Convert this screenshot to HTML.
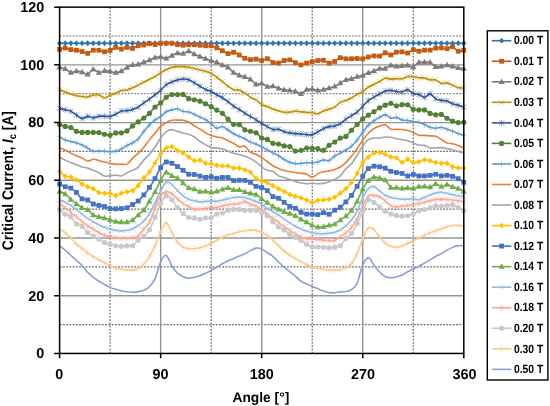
<!DOCTYPE html><html><head><meta charset="utf-8"><style>html,body{margin:0;padding:0;background:#fff;}body{width:550px;height:406px;overflow:hidden;}svg{display:block;filter:blur(0.3px);font-family:"Liberation Sans",sans-serif;font-weight:bold;text-rendering:geometricPrecision;}</style></head><body>
<svg width="550" height="406" viewBox="0 0 550 406">
<path d="M59.60,324.59H463.80M59.60,266.88H463.80M59.60,209.16H463.80M59.60,151.44H463.80M59.60,93.73H463.80M59.60,36.01H463.80" stroke="#666" stroke-width="1.2" stroke-dasharray="1.8 1.45" fill="none"/>
<path d="M110.12,7.15V353.45M211.17,7.15V353.45M312.23,7.15V353.45M413.28,7.15V353.45" stroke="#666" stroke-width="1.2" stroke-dasharray="1.8 1.45" fill="none"/>
<path d="M59.60,295.73H463.80M59.60,238.02H463.80M59.60,180.30H463.80M59.60,122.59H463.80M59.60,64.87H463.80M160.65,7.15V353.45M261.70,7.15V353.45M362.75,7.15V353.45" stroke="#959595" stroke-width="1.4" fill="none"/>
<path d="M59.60,43.23 C60.54,43.23 63.34,43.23 65.21,43.23 C67.09,43.23 68.96,43.23 70.83,43.23 C72.70,43.23 74.57,43.23 76.44,43.23 C78.31,43.23 80.18,43.23 82.06,43.23 C83.93,43.23 85.80,43.23 87.67,43.23 C89.54,43.23 91.41,43.23 93.28,43.23 C95.15,43.23 97.03,43.23 98.90,43.23 C100.77,43.23 102.64,43.23 104.51,43.23 C106.38,43.23 108.25,43.23 110.12,43.23 C112.00,43.23 113.87,43.23 115.74,43.23 C117.61,43.23 119.48,43.23 121.35,43.23 C123.22,43.23 125.10,43.23 126.97,43.23 C128.84,43.23 130.71,43.23 132.58,43.23 C134.45,43.23 136.32,43.23 138.19,43.23 C140.07,43.23 141.94,43.23 143.81,43.23 C145.68,43.23 147.55,43.23 149.42,43.23 C151.29,43.23 153.16,43.23 155.04,43.23 C156.91,43.23 158.78,43.23 160.65,43.23 C162.52,43.23 164.39,43.23 166.26,43.23 C168.14,43.23 170.01,43.23 171.88,43.23 C173.75,43.23 175.62,43.23 177.49,43.23 C179.36,43.23 181.23,43.23 183.11,43.23 C184.98,43.23 186.85,43.23 188.72,43.23 C190.59,43.23 192.46,43.23 194.33,43.23 C196.20,43.23 198.08,43.23 199.95,43.23 C201.82,43.23 203.69,43.23 205.56,43.23 C207.43,43.23 209.30,43.23 211.17,43.23 C213.05,43.23 214.92,43.23 216.79,43.23 C218.66,43.23 220.53,43.23 222.40,43.23 C224.27,43.23 226.15,43.23 228.02,43.23 C229.89,43.23 231.76,43.23 233.63,43.23 C235.50,43.23 237.37,43.23 239.24,43.23 C241.12,43.23 242.99,43.23 244.86,43.23 C246.73,43.23 248.60,43.23 250.47,43.23 C252.34,43.23 254.21,43.23 256.09,43.23 C257.96,43.23 259.83,43.23 261.70,43.23 C263.57,43.23 265.44,43.23 267.31,43.23 C269.19,43.23 271.06,43.23 272.93,43.23 C274.80,43.23 276.67,43.23 278.54,43.23 C280.41,43.23 282.28,43.23 284.16,43.23 C286.03,43.23 287.90,43.23 289.77,43.23 C291.64,43.23 293.51,43.23 295.38,43.23 C297.25,43.23 299.13,43.23 301.00,43.23 C302.87,43.23 304.74,43.23 306.61,43.23 C308.48,43.23 310.35,43.23 312.23,43.23 C314.10,43.23 315.97,43.23 317.84,43.23 C319.71,43.23 321.58,43.23 323.45,43.23 C325.32,43.23 327.20,43.23 329.07,43.23 C330.94,43.23 332.81,43.23 334.68,43.23 C336.55,43.23 338.42,43.23 340.29,43.23 C342.17,43.23 344.04,43.23 345.91,43.23 C347.78,43.23 349.65,43.23 351.52,43.23 C353.39,43.23 355.26,43.23 357.14,43.23 C359.01,43.23 360.88,43.23 362.75,43.23 C364.62,43.23 366.49,43.23 368.36,43.23 C370.24,43.23 372.11,43.23 373.98,43.23 C375.85,43.23 377.72,43.23 379.59,43.23 C381.46,43.23 383.33,43.23 385.21,43.23 C387.08,43.23 388.95,43.23 390.82,43.23 C392.69,43.23 394.56,43.23 396.43,43.23 C398.30,43.23 400.18,43.23 402.05,43.23 C403.92,43.23 405.79,43.23 407.66,43.23 C409.53,43.23 411.40,43.23 413.28,43.23 C415.15,43.23 417.02,43.23 418.89,43.23 C420.76,43.23 422.63,43.23 424.50,43.23 C426.37,43.23 428.25,43.23 430.12,43.23 C431.99,43.23 433.86,43.23 435.73,43.23 C437.60,43.23 439.47,43.23 441.34,43.23 C443.22,43.23 445.09,43.23 446.96,43.23 C448.83,43.23 450.70,43.23 452.57,43.23 C454.44,43.23 456.31,43.23 458.19,43.23 C460.06,43.23 462.86,43.23 463.80,43.23" stroke="#2E75B6" stroke-width="1.60" fill="none" stroke-linejoin="round"/>
<g><path d="M59.60,40.33 l2.60,2.90 l-2.60,2.90 l-2.60,-2.90 z" fill="#2E75B6"/><path d="M65.21,40.33 l2.60,2.90 l-2.60,2.90 l-2.60,-2.90 z" fill="#2E75B6"/><path d="M70.83,40.33 l2.60,2.90 l-2.60,2.90 l-2.60,-2.90 z" fill="#2E75B6"/><path d="M76.44,40.33 l2.60,2.90 l-2.60,2.90 l-2.60,-2.90 z" fill="#2E75B6"/><path d="M82.06,40.33 l2.60,2.90 l-2.60,2.90 l-2.60,-2.90 z" fill="#2E75B6"/><path d="M87.67,40.33 l2.60,2.90 l-2.60,2.90 l-2.60,-2.90 z" fill="#2E75B6"/><path d="M93.28,40.33 l2.60,2.90 l-2.60,2.90 l-2.60,-2.90 z" fill="#2E75B6"/><path d="M98.90,40.33 l2.60,2.90 l-2.60,2.90 l-2.60,-2.90 z" fill="#2E75B6"/><path d="M104.51,40.33 l2.60,2.90 l-2.60,2.90 l-2.60,-2.90 z" fill="#2E75B6"/><path d="M110.12,40.33 l2.60,2.90 l-2.60,2.90 l-2.60,-2.90 z" fill="#2E75B6"/><path d="M115.74,40.33 l2.60,2.90 l-2.60,2.90 l-2.60,-2.90 z" fill="#2E75B6"/><path d="M121.35,40.33 l2.60,2.90 l-2.60,2.90 l-2.60,-2.90 z" fill="#2E75B6"/><path d="M126.97,40.33 l2.60,2.90 l-2.60,2.90 l-2.60,-2.90 z" fill="#2E75B6"/><path d="M132.58,40.33 l2.60,2.90 l-2.60,2.90 l-2.60,-2.90 z" fill="#2E75B6"/><path d="M138.19,40.33 l2.60,2.90 l-2.60,2.90 l-2.60,-2.90 z" fill="#2E75B6"/><path d="M143.81,40.33 l2.60,2.90 l-2.60,2.90 l-2.60,-2.90 z" fill="#2E75B6"/><path d="M149.42,40.33 l2.60,2.90 l-2.60,2.90 l-2.60,-2.90 z" fill="#2E75B6"/><path d="M155.04,40.33 l2.60,2.90 l-2.60,2.90 l-2.60,-2.90 z" fill="#2E75B6"/><path d="M160.65,40.33 l2.60,2.90 l-2.60,2.90 l-2.60,-2.90 z" fill="#2E75B6"/><path d="M166.26,40.33 l2.60,2.90 l-2.60,2.90 l-2.60,-2.90 z" fill="#2E75B6"/><path d="M171.88,40.33 l2.60,2.90 l-2.60,2.90 l-2.60,-2.90 z" fill="#2E75B6"/><path d="M177.49,40.33 l2.60,2.90 l-2.60,2.90 l-2.60,-2.90 z" fill="#2E75B6"/><path d="M183.11,40.33 l2.60,2.90 l-2.60,2.90 l-2.60,-2.90 z" fill="#2E75B6"/><path d="M188.72,40.33 l2.60,2.90 l-2.60,2.90 l-2.60,-2.90 z" fill="#2E75B6"/><path d="M194.33,40.33 l2.60,2.90 l-2.60,2.90 l-2.60,-2.90 z" fill="#2E75B6"/><path d="M199.95,40.33 l2.60,2.90 l-2.60,2.90 l-2.60,-2.90 z" fill="#2E75B6"/><path d="M205.56,40.33 l2.60,2.90 l-2.60,2.90 l-2.60,-2.90 z" fill="#2E75B6"/><path d="M211.17,40.33 l2.60,2.90 l-2.60,2.90 l-2.60,-2.90 z" fill="#2E75B6"/><path d="M216.79,40.33 l2.60,2.90 l-2.60,2.90 l-2.60,-2.90 z" fill="#2E75B6"/><path d="M222.40,40.33 l2.60,2.90 l-2.60,2.90 l-2.60,-2.90 z" fill="#2E75B6"/><path d="M228.02,40.33 l2.60,2.90 l-2.60,2.90 l-2.60,-2.90 z" fill="#2E75B6"/><path d="M233.63,40.33 l2.60,2.90 l-2.60,2.90 l-2.60,-2.90 z" fill="#2E75B6"/><path d="M239.24,40.33 l2.60,2.90 l-2.60,2.90 l-2.60,-2.90 z" fill="#2E75B6"/><path d="M244.86,40.33 l2.60,2.90 l-2.60,2.90 l-2.60,-2.90 z" fill="#2E75B6"/><path d="M250.47,40.33 l2.60,2.90 l-2.60,2.90 l-2.60,-2.90 z" fill="#2E75B6"/><path d="M256.09,40.33 l2.60,2.90 l-2.60,2.90 l-2.60,-2.90 z" fill="#2E75B6"/><path d="M261.70,40.33 l2.60,2.90 l-2.60,2.90 l-2.60,-2.90 z" fill="#2E75B6"/><path d="M267.31,40.33 l2.60,2.90 l-2.60,2.90 l-2.60,-2.90 z" fill="#2E75B6"/><path d="M272.93,40.33 l2.60,2.90 l-2.60,2.90 l-2.60,-2.90 z" fill="#2E75B6"/><path d="M278.54,40.33 l2.60,2.90 l-2.60,2.90 l-2.60,-2.90 z" fill="#2E75B6"/><path d="M284.16,40.33 l2.60,2.90 l-2.60,2.90 l-2.60,-2.90 z" fill="#2E75B6"/><path d="M289.77,40.33 l2.60,2.90 l-2.60,2.90 l-2.60,-2.90 z" fill="#2E75B6"/><path d="M295.38,40.33 l2.60,2.90 l-2.60,2.90 l-2.60,-2.90 z" fill="#2E75B6"/><path d="M301.00,40.33 l2.60,2.90 l-2.60,2.90 l-2.60,-2.90 z" fill="#2E75B6"/><path d="M306.61,40.33 l2.60,2.90 l-2.60,2.90 l-2.60,-2.90 z" fill="#2E75B6"/><path d="M312.23,40.33 l2.60,2.90 l-2.60,2.90 l-2.60,-2.90 z" fill="#2E75B6"/><path d="M317.84,40.33 l2.60,2.90 l-2.60,2.90 l-2.60,-2.90 z" fill="#2E75B6"/><path d="M323.45,40.33 l2.60,2.90 l-2.60,2.90 l-2.60,-2.90 z" fill="#2E75B6"/><path d="M329.07,40.33 l2.60,2.90 l-2.60,2.90 l-2.60,-2.90 z" fill="#2E75B6"/><path d="M334.68,40.33 l2.60,2.90 l-2.60,2.90 l-2.60,-2.90 z" fill="#2E75B6"/><path d="M340.29,40.33 l2.60,2.90 l-2.60,2.90 l-2.60,-2.90 z" fill="#2E75B6"/><path d="M345.91,40.33 l2.60,2.90 l-2.60,2.90 l-2.60,-2.90 z" fill="#2E75B6"/><path d="M351.52,40.33 l2.60,2.90 l-2.60,2.90 l-2.60,-2.90 z" fill="#2E75B6"/><path d="M357.14,40.33 l2.60,2.90 l-2.60,2.90 l-2.60,-2.90 z" fill="#2E75B6"/><path d="M362.75,40.33 l2.60,2.90 l-2.60,2.90 l-2.60,-2.90 z" fill="#2E75B6"/><path d="M368.36,40.33 l2.60,2.90 l-2.60,2.90 l-2.60,-2.90 z" fill="#2E75B6"/><path d="M373.98,40.33 l2.60,2.90 l-2.60,2.90 l-2.60,-2.90 z" fill="#2E75B6"/><path d="M379.59,40.33 l2.60,2.90 l-2.60,2.90 l-2.60,-2.90 z" fill="#2E75B6"/><path d="M385.21,40.33 l2.60,2.90 l-2.60,2.90 l-2.60,-2.90 z" fill="#2E75B6"/><path d="M390.82,40.33 l2.60,2.90 l-2.60,2.90 l-2.60,-2.90 z" fill="#2E75B6"/><path d="M396.43,40.33 l2.60,2.90 l-2.60,2.90 l-2.60,-2.90 z" fill="#2E75B6"/><path d="M402.05,40.33 l2.60,2.90 l-2.60,2.90 l-2.60,-2.90 z" fill="#2E75B6"/><path d="M407.66,40.33 l2.60,2.90 l-2.60,2.90 l-2.60,-2.90 z" fill="#2E75B6"/><path d="M413.28,40.33 l2.60,2.90 l-2.60,2.90 l-2.60,-2.90 z" fill="#2E75B6"/><path d="M418.89,40.33 l2.60,2.90 l-2.60,2.90 l-2.60,-2.90 z" fill="#2E75B6"/><path d="M424.50,40.33 l2.60,2.90 l-2.60,2.90 l-2.60,-2.90 z" fill="#2E75B6"/><path d="M430.12,40.33 l2.60,2.90 l-2.60,2.90 l-2.60,-2.90 z" fill="#2E75B6"/><path d="M435.73,40.33 l2.60,2.90 l-2.60,2.90 l-2.60,-2.90 z" fill="#2E75B6"/><path d="M441.34,40.33 l2.60,2.90 l-2.60,2.90 l-2.60,-2.90 z" fill="#2E75B6"/><path d="M446.96,40.33 l2.60,2.90 l-2.60,2.90 l-2.60,-2.90 z" fill="#2E75B6"/><path d="M452.57,40.33 l2.60,2.90 l-2.60,2.90 l-2.60,-2.90 z" fill="#2E75B6"/><path d="M458.19,40.33 l2.60,2.90 l-2.60,2.90 l-2.60,-2.90 z" fill="#2E75B6"/><path d="M463.80,40.33 l2.60,2.90 l-2.60,2.90 l-2.60,-2.90 z" fill="#2E75B6"/></g>
<path d="M59.60,49.39 C60.54,49.16 63.34,47.99 65.21,48.03 C67.09,48.07 68.96,49.25 70.83,49.62 C72.70,49.99 74.57,49.93 76.44,50.24 C78.31,50.56 80.18,50.98 82.06,51.49 C83.93,52.01 85.80,53.56 87.67,53.34 C89.54,53.11 91.41,50.67 93.28,50.15 C95.15,49.64 97.03,49.98 98.90,50.25 C100.77,50.52 102.64,51.75 104.51,51.78 C106.38,51.81 108.25,51.15 110.12,50.42 C112.00,49.68 113.87,47.60 115.74,47.39 C117.61,47.18 119.48,49.16 121.35,49.16 C123.22,49.16 125.10,47.49 126.97,47.36 C128.84,47.24 130.71,48.68 132.58,48.41 C134.45,48.14 136.32,46.32 138.19,45.76 C140.07,45.20 141.94,45.43 143.81,45.06 C145.68,44.70 147.55,43.69 149.42,43.60 C151.29,43.52 153.16,44.62 155.04,44.56 C156.91,44.49 158.78,43.45 160.65,43.23 C162.52,43.00 164.39,43.21 166.26,43.23 C168.14,43.24 170.01,43.05 171.88,43.30 C173.75,43.54 175.62,44.36 177.49,44.68 C179.36,45.00 181.23,45.24 183.11,45.24 C184.98,45.23 186.85,44.76 188.72,44.67 C190.59,44.58 192.46,44.57 194.33,44.67 C196.20,44.76 198.08,45.05 199.95,45.24 C201.82,45.43 203.69,45.72 205.56,45.82 C207.43,45.92 209.30,45.50 211.17,45.82 C213.05,46.15 214.92,46.95 216.79,47.77 C218.66,48.59 220.53,49.76 222.40,50.73 C224.27,51.70 226.15,53.35 228.02,53.61 C229.89,53.87 231.76,52.06 233.63,52.28 C235.50,52.50 237.37,53.92 239.24,54.92 C241.12,55.92 242.99,57.51 244.86,58.30 C246.73,59.09 248.60,59.53 250.47,59.67 C252.34,59.81 254.21,58.98 256.09,59.12 C257.96,59.26 259.83,60.57 261.70,60.50 C263.57,60.44 265.44,58.40 267.31,58.73 C269.19,59.07 271.06,61.79 272.93,62.51 C274.80,63.24 276.67,63.41 278.54,63.07 C280.41,62.74 282.28,61.05 284.16,60.52 C286.03,59.98 287.90,59.50 289.77,59.87 C291.64,60.23 293.51,61.88 295.38,62.71 C297.25,63.54 299.13,64.81 301.00,64.87 C302.87,64.93 304.74,63.62 306.61,63.08 C308.48,62.55 310.35,62.07 312.23,61.65 C314.10,61.23 315.97,60.80 317.84,60.57 C319.71,60.34 321.58,59.86 323.45,60.28 C325.32,60.70 327.20,62.92 329.07,63.12 C330.94,63.32 332.81,62.39 334.68,61.49 C336.55,60.59 338.42,58.16 340.29,57.72 C342.17,57.27 344.04,58.63 345.91,58.81 C347.78,58.99 349.65,58.85 351.52,58.80 C353.39,58.76 355.26,58.54 357.14,58.53 C359.01,58.52 360.88,59.02 362.75,58.76 C364.62,58.51 366.49,57.47 368.36,57.00 C370.24,56.53 372.11,56.09 373.98,55.94 C375.85,55.79 377.72,56.61 379.59,56.09 C381.46,55.58 383.33,53.03 385.21,52.83 C387.08,52.64 388.95,55.06 390.82,54.95 C392.69,54.84 394.56,52.68 396.43,52.17 C398.30,51.66 400.18,51.76 402.05,51.89 C403.92,52.03 405.79,53.37 407.66,53.00 C409.53,52.63 411.40,49.95 413.28,49.66 C415.15,49.37 417.02,51.17 418.89,51.25 C420.76,51.33 422.63,50.34 424.50,50.15 C426.37,49.96 428.25,50.45 430.12,50.11 C431.99,49.77 433.86,48.49 435.73,48.13 C437.60,47.76 439.47,47.80 441.34,47.89 C443.22,47.99 445.09,48.88 446.96,48.70 C448.83,48.53 450.70,46.40 452.57,46.83 C454.44,47.26 456.31,50.71 458.19,51.27 C460.06,51.82 462.86,50.34 463.80,50.15" stroke="#C55A11" stroke-width="1.60" fill="none" stroke-linejoin="round"/>
<g><rect x="57.20" y="46.99" width="4.80" height="4.80" fill="#C55A11"/><rect x="62.81" y="45.63" width="4.80" height="4.80" fill="#C55A11"/><rect x="68.43" y="47.22" width="4.80" height="4.80" fill="#C55A11"/><rect x="74.04" y="47.84" width="4.80" height="4.80" fill="#C55A11"/><rect x="79.66" y="49.09" width="4.80" height="4.80" fill="#C55A11"/><rect x="85.27" y="50.94" width="4.80" height="4.80" fill="#C55A11"/><rect x="90.88" y="47.75" width="4.80" height="4.80" fill="#C55A11"/><rect x="96.50" y="47.85" width="4.80" height="4.80" fill="#C55A11"/><rect x="102.11" y="49.38" width="4.80" height="4.80" fill="#C55A11"/><rect x="107.73" y="48.02" width="4.80" height="4.80" fill="#C55A11"/><rect x="113.34" y="44.99" width="4.80" height="4.80" fill="#C55A11"/><rect x="118.95" y="46.76" width="4.80" height="4.80" fill="#C55A11"/><rect x="124.57" y="44.96" width="4.80" height="4.80" fill="#C55A11"/><rect x="130.18" y="46.01" width="4.80" height="4.80" fill="#C55A11"/><rect x="135.79" y="43.36" width="4.80" height="4.80" fill="#C55A11"/><rect x="141.41" y="42.66" width="4.80" height="4.80" fill="#C55A11"/><rect x="147.02" y="41.20" width="4.80" height="4.80" fill="#C55A11"/><rect x="152.64" y="42.16" width="4.80" height="4.80" fill="#C55A11"/><rect x="158.25" y="40.83" width="4.80" height="4.80" fill="#C55A11"/><rect x="163.86" y="40.83" width="4.80" height="4.80" fill="#C55A11"/><rect x="169.48" y="40.90" width="4.80" height="4.80" fill="#C55A11"/><rect x="175.09" y="42.28" width="4.80" height="4.80" fill="#C55A11"/><rect x="180.71" y="42.84" width="4.80" height="4.80" fill="#C55A11"/><rect x="186.32" y="42.27" width="4.80" height="4.80" fill="#C55A11"/><rect x="191.93" y="42.27" width="4.80" height="4.80" fill="#C55A11"/><rect x="197.55" y="42.84" width="4.80" height="4.80" fill="#C55A11"/><rect x="203.16" y="43.42" width="4.80" height="4.80" fill="#C55A11"/><rect x="208.77" y="43.42" width="4.80" height="4.80" fill="#C55A11"/><rect x="214.39" y="45.37" width="4.80" height="4.80" fill="#C55A11"/><rect x="220.00" y="48.33" width="4.80" height="4.80" fill="#C55A11"/><rect x="225.62" y="51.21" width="4.80" height="4.80" fill="#C55A11"/><rect x="231.23" y="49.88" width="4.80" height="4.80" fill="#C55A11"/><rect x="236.84" y="52.52" width="4.80" height="4.80" fill="#C55A11"/><rect x="242.46" y="55.90" width="4.80" height="4.80" fill="#C55A11"/><rect x="248.07" y="57.27" width="4.80" height="4.80" fill="#C55A11"/><rect x="253.69" y="56.72" width="4.80" height="4.80" fill="#C55A11"/><rect x="259.30" y="58.10" width="4.80" height="4.80" fill="#C55A11"/><rect x="264.91" y="56.33" width="4.80" height="4.80" fill="#C55A11"/><rect x="270.53" y="60.11" width="4.80" height="4.80" fill="#C55A11"/><rect x="276.14" y="60.67" width="4.80" height="4.80" fill="#C55A11"/><rect x="281.76" y="58.12" width="4.80" height="4.80" fill="#C55A11"/><rect x="287.37" y="57.47" width="4.80" height="4.80" fill="#C55A11"/><rect x="292.98" y="60.31" width="4.80" height="4.80" fill="#C55A11"/><rect x="298.60" y="62.47" width="4.80" height="4.80" fill="#C55A11"/><rect x="304.21" y="60.68" width="4.80" height="4.80" fill="#C55A11"/><rect x="309.82" y="59.25" width="4.80" height="4.80" fill="#C55A11"/><rect x="315.44" y="58.17" width="4.80" height="4.80" fill="#C55A11"/><rect x="321.05" y="57.88" width="4.80" height="4.80" fill="#C55A11"/><rect x="326.67" y="60.72" width="4.80" height="4.80" fill="#C55A11"/><rect x="332.28" y="59.09" width="4.80" height="4.80" fill="#C55A11"/><rect x="337.89" y="55.32" width="4.80" height="4.80" fill="#C55A11"/><rect x="343.51" y="56.41" width="4.80" height="4.80" fill="#C55A11"/><rect x="349.12" y="56.40" width="4.80" height="4.80" fill="#C55A11"/><rect x="354.74" y="56.13" width="4.80" height="4.80" fill="#C55A11"/><rect x="360.35" y="56.36" width="4.80" height="4.80" fill="#C55A11"/><rect x="365.96" y="54.60" width="4.80" height="4.80" fill="#C55A11"/><rect x="371.58" y="53.54" width="4.80" height="4.80" fill="#C55A11"/><rect x="377.19" y="53.69" width="4.80" height="4.80" fill="#C55A11"/><rect x="382.81" y="50.43" width="4.80" height="4.80" fill="#C55A11"/><rect x="388.42" y="52.55" width="4.80" height="4.80" fill="#C55A11"/><rect x="394.03" y="49.77" width="4.80" height="4.80" fill="#C55A11"/><rect x="399.65" y="49.49" width="4.80" height="4.80" fill="#C55A11"/><rect x="405.26" y="50.60" width="4.80" height="4.80" fill="#C55A11"/><rect x="410.88" y="47.26" width="4.80" height="4.80" fill="#C55A11"/><rect x="416.49" y="48.85" width="4.80" height="4.80" fill="#C55A11"/><rect x="422.10" y="47.75" width="4.80" height="4.80" fill="#C55A11"/><rect x="427.72" y="47.71" width="4.80" height="4.80" fill="#C55A11"/><rect x="433.33" y="45.73" width="4.80" height="4.80" fill="#C55A11"/><rect x="438.94" y="45.49" width="4.80" height="4.80" fill="#C55A11"/><rect x="444.56" y="46.30" width="4.80" height="4.80" fill="#C55A11"/><rect x="450.17" y="44.43" width="4.80" height="4.80" fill="#C55A11"/><rect x="455.79" y="48.87" width="4.80" height="4.80" fill="#C55A11"/><rect x="461.40" y="47.75" width="4.80" height="4.80" fill="#C55A11"/></g>
<path d="M59.60,67.30 C60.54,67.55 63.34,67.92 65.21,68.79 C67.09,69.66 68.96,72.16 70.83,72.53 C72.70,72.90 74.57,71.08 76.44,71.00 C78.31,70.92 80.18,71.49 82.06,72.03 C83.93,72.57 85.80,74.68 87.67,74.24 C89.54,73.80 91.41,69.66 93.28,69.37 C95.15,69.09 97.03,72.33 98.90,72.55 C100.77,72.77 102.64,70.89 104.51,70.69 C106.38,70.49 108.25,71.04 110.12,71.35 C112.00,71.66 113.87,72.63 115.74,72.57 C117.61,72.52 119.48,71.84 121.35,71.00 C123.22,70.16 125.10,68.59 126.97,67.56 C128.84,66.53 130.71,65.38 132.58,64.84 C134.45,64.30 136.32,64.80 138.19,64.34 C140.07,63.87 141.94,62.77 143.81,62.06 C145.68,61.35 147.55,60.80 149.42,60.06 C151.29,59.31 153.16,58.13 155.04,57.59 C156.91,57.05 158.78,56.67 160.65,56.81 C162.52,56.94 164.39,58.60 166.26,58.39 C168.14,58.17 170.01,56.40 171.88,55.51 C173.75,54.62 175.62,53.37 177.49,53.05 C179.36,52.72 181.23,53.89 183.11,53.57 C184.98,53.24 186.85,50.99 188.72,51.08 C190.59,51.18 192.46,53.26 194.33,54.16 C196.20,55.06 198.08,55.75 199.95,56.48 C201.82,57.20 203.69,57.83 205.56,58.51 C207.43,59.18 209.30,59.92 211.17,60.53 C213.05,61.15 214.92,61.44 216.79,62.21 C218.66,62.98 220.53,64.33 222.40,65.16 C224.27,65.99 226.15,65.97 228.02,67.19 C229.89,68.42 231.76,71.14 233.63,72.49 C235.50,73.85 237.37,74.60 239.24,75.32 C241.12,76.04 242.99,76.14 244.86,76.82 C246.73,77.49 248.60,78.13 250.47,79.36 C252.34,80.59 254.21,83.53 256.09,84.19 C257.96,84.86 259.83,82.97 261.70,83.35 C263.57,83.74 265.44,86.07 267.31,86.50 C269.19,86.93 271.06,85.65 272.93,85.94 C274.80,86.24 276.67,87.65 278.54,88.28 C280.41,88.91 282.28,89.36 284.16,89.70 C286.03,90.04 287.90,90.06 289.77,90.32 C291.64,90.59 293.51,90.73 295.38,91.30 C297.25,91.86 299.13,94.00 301.00,93.73 C302.87,93.46 304.74,90.43 306.61,89.67 C308.48,88.90 310.35,89.06 312.23,89.15 C314.10,89.25 315.97,90.15 317.84,90.23 C319.71,90.32 321.58,90.05 323.45,89.67 C325.32,89.29 327.20,88.49 329.07,87.94 C330.94,87.39 332.81,87.15 334.68,86.35 C336.55,85.56 338.42,84.25 340.29,83.16 C342.17,82.07 344.04,80.56 345.91,79.81 C347.78,79.07 349.65,79.20 351.52,78.68 C353.39,78.15 355.26,77.21 357.14,76.67 C359.01,76.13 360.88,76.07 362.75,75.43 C364.62,74.79 366.49,73.57 368.36,72.84 C370.24,72.11 372.11,71.75 373.98,71.05 C375.85,70.35 377.72,69.05 379.59,68.62 C381.46,68.20 383.33,69.06 385.21,68.49 C387.08,67.92 388.95,65.57 390.82,65.20 C392.69,64.84 394.56,66.22 396.43,66.31 C398.30,66.40 400.18,65.92 402.05,65.73 C403.92,65.54 405.79,64.98 407.66,65.18 C409.53,65.38 411.40,67.42 413.28,66.94 C415.15,66.45 417.02,63.05 418.89,62.27 C420.76,61.50 422.63,62.26 424.50,62.27 C426.37,62.29 428.25,61.60 430.12,62.37 C431.99,63.14 433.86,66.23 435.73,66.88 C437.60,67.52 439.47,66.53 441.34,66.25 C443.22,65.96 445.09,65.15 446.96,65.17 C448.83,65.19 450.70,65.92 452.57,66.36 C454.44,66.79 456.31,67.41 458.19,67.78 C460.06,68.16 462.86,68.48 463.80,68.62" stroke="#7B7B7B" stroke-width="1.60" fill="none" stroke-linejoin="round"/>
<g><path d="M59.60,64.00 L62.70,69.50 L56.50,69.50 z" fill="#7B7B7B"/><path d="M65.21,65.49 L68.31,70.99 L62.11,70.99 z" fill="#7B7B7B"/><path d="M70.83,69.23 L73.93,74.73 L67.73,74.73 z" fill="#7B7B7B"/><path d="M76.44,67.70 L79.54,73.20 L73.34,73.20 z" fill="#7B7B7B"/><path d="M82.06,68.73 L85.16,74.23 L78.96,74.23 z" fill="#7B7B7B"/><path d="M87.67,70.94 L90.77,76.44 L84.57,76.44 z" fill="#7B7B7B"/><path d="M93.28,66.07 L96.38,71.57 L90.18,71.57 z" fill="#7B7B7B"/><path d="M98.90,69.25 L102.00,74.75 L95.80,74.75 z" fill="#7B7B7B"/><path d="M104.51,67.39 L107.61,72.89 L101.41,72.89 z" fill="#7B7B7B"/><path d="M110.12,68.05 L113.22,73.55 L107.03,73.55 z" fill="#7B7B7B"/><path d="M115.74,69.27 L118.84,74.77 L112.64,74.77 z" fill="#7B7B7B"/><path d="M121.35,67.70 L124.45,73.20 L118.25,73.20 z" fill="#7B7B7B"/><path d="M126.97,64.26 L130.07,69.76 L123.87,69.76 z" fill="#7B7B7B"/><path d="M132.58,61.54 L135.68,67.04 L129.48,67.04 z" fill="#7B7B7B"/><path d="M138.19,61.04 L141.29,66.54 L135.09,66.54 z" fill="#7B7B7B"/><path d="M143.81,58.76 L146.91,64.26 L140.71,64.26 z" fill="#7B7B7B"/><path d="M149.42,56.76 L152.52,62.26 L146.32,62.26 z" fill="#7B7B7B"/><path d="M155.04,54.29 L158.14,59.79 L151.94,59.79 z" fill="#7B7B7B"/><path d="M160.65,53.51 L163.75,59.01 L157.55,59.01 z" fill="#7B7B7B"/><path d="M166.26,55.09 L169.36,60.59 L163.16,60.59 z" fill="#7B7B7B"/><path d="M171.88,52.21 L174.98,57.71 L168.78,57.71 z" fill="#7B7B7B"/><path d="M177.49,49.75 L180.59,55.25 L174.39,55.25 z" fill="#7B7B7B"/><path d="M183.11,50.27 L186.21,55.77 L180.01,55.77 z" fill="#7B7B7B"/><path d="M188.72,47.78 L191.82,53.28 L185.62,53.28 z" fill="#7B7B7B"/><path d="M194.33,50.86 L197.43,56.36 L191.23,56.36 z" fill="#7B7B7B"/><path d="M199.95,53.18 L203.05,58.68 L196.85,58.68 z" fill="#7B7B7B"/><path d="M205.56,55.21 L208.66,60.71 L202.46,60.71 z" fill="#7B7B7B"/><path d="M211.17,57.23 L214.27,62.73 L208.07,62.73 z" fill="#7B7B7B"/><path d="M216.79,58.91 L219.89,64.41 L213.69,64.41 z" fill="#7B7B7B"/><path d="M222.40,61.86 L225.50,67.36 L219.30,67.36 z" fill="#7B7B7B"/><path d="M228.02,63.89 L231.12,69.39 L224.92,69.39 z" fill="#7B7B7B"/><path d="M233.63,69.19 L236.73,74.69 L230.53,74.69 z" fill="#7B7B7B"/><path d="M239.24,72.02 L242.34,77.52 L236.14,77.52 z" fill="#7B7B7B"/><path d="M244.86,73.52 L247.96,79.02 L241.76,79.02 z" fill="#7B7B7B"/><path d="M250.47,76.06 L253.57,81.56 L247.37,81.56 z" fill="#7B7B7B"/><path d="M256.09,80.89 L259.19,86.39 L252.99,86.39 z" fill="#7B7B7B"/><path d="M261.70,80.05 L264.80,85.55 L258.60,85.55 z" fill="#7B7B7B"/><path d="M267.31,83.20 L270.41,88.70 L264.21,88.70 z" fill="#7B7B7B"/><path d="M272.93,82.64 L276.03,88.14 L269.83,88.14 z" fill="#7B7B7B"/><path d="M278.54,84.98 L281.64,90.48 L275.44,90.48 z" fill="#7B7B7B"/><path d="M284.16,86.40 L287.26,91.90 L281.06,91.90 z" fill="#7B7B7B"/><path d="M289.77,87.02 L292.87,92.52 L286.67,92.52 z" fill="#7B7B7B"/><path d="M295.38,88.00 L298.48,93.50 L292.28,93.50 z" fill="#7B7B7B"/><path d="M301.00,90.43 L304.10,95.93 L297.90,95.93 z" fill="#7B7B7B"/><path d="M306.61,86.37 L309.71,91.87 L303.51,91.87 z" fill="#7B7B7B"/><path d="M312.23,85.85 L315.33,91.35 L309.12,91.35 z" fill="#7B7B7B"/><path d="M317.84,86.93 L320.94,92.43 L314.74,92.43 z" fill="#7B7B7B"/><path d="M323.45,86.37 L326.55,91.87 L320.35,91.87 z" fill="#7B7B7B"/><path d="M329.07,84.64 L332.17,90.14 L325.97,90.14 z" fill="#7B7B7B"/><path d="M334.68,83.05 L337.78,88.55 L331.58,88.55 z" fill="#7B7B7B"/><path d="M340.29,79.86 L343.39,85.36 L337.19,85.36 z" fill="#7B7B7B"/><path d="M345.91,76.51 L349.01,82.01 L342.81,82.01 z" fill="#7B7B7B"/><path d="M351.52,75.38 L354.62,80.88 L348.42,80.88 z" fill="#7B7B7B"/><path d="M357.14,73.37 L360.24,78.87 L354.04,78.87 z" fill="#7B7B7B"/><path d="M362.75,72.13 L365.85,77.63 L359.65,77.63 z" fill="#7B7B7B"/><path d="M368.36,69.54 L371.46,75.04 L365.26,75.04 z" fill="#7B7B7B"/><path d="M373.98,67.75 L377.08,73.25 L370.88,73.25 z" fill="#7B7B7B"/><path d="M379.59,65.32 L382.69,70.82 L376.49,70.82 z" fill="#7B7B7B"/><path d="M385.21,65.19 L388.31,70.69 L382.11,70.69 z" fill="#7B7B7B"/><path d="M390.82,61.90 L393.92,67.40 L387.72,67.40 z" fill="#7B7B7B"/><path d="M396.43,63.01 L399.53,68.51 L393.33,68.51 z" fill="#7B7B7B"/><path d="M402.05,62.43 L405.15,67.93 L398.95,67.93 z" fill="#7B7B7B"/><path d="M407.66,61.88 L410.76,67.38 L404.56,67.38 z" fill="#7B7B7B"/><path d="M413.28,63.64 L416.38,69.14 L410.18,69.14 z" fill="#7B7B7B"/><path d="M418.89,58.97 L421.99,64.47 L415.79,64.47 z" fill="#7B7B7B"/><path d="M424.50,58.97 L427.60,64.47 L421.40,64.47 z" fill="#7B7B7B"/><path d="M430.12,59.07 L433.22,64.57 L427.02,64.57 z" fill="#7B7B7B"/><path d="M435.73,63.58 L438.83,69.08 L432.63,69.08 z" fill="#7B7B7B"/><path d="M441.34,62.95 L444.44,68.45 L438.24,68.45 z" fill="#7B7B7B"/><path d="M446.96,61.87 L450.06,67.37 L443.86,67.37 z" fill="#7B7B7B"/><path d="M452.57,63.06 L455.67,68.56 L449.47,68.56 z" fill="#7B7B7B"/><path d="M458.19,64.48 L461.29,69.98 L455.09,69.98 z" fill="#7B7B7B"/><path d="M463.80,65.32 L466.90,70.82 L460.70,70.82 z" fill="#7B7B7B"/></g>
<path d="M59.60,89.76 C60.54,90.14 63.34,91.31 65.21,92.03 C67.09,92.74 68.96,93.41 70.83,94.05 C72.70,94.68 74.57,95.41 76.44,95.83 C78.31,96.25 80.18,96.38 82.06,96.56 C83.93,96.73 85.80,97.12 87.67,96.88 C89.54,96.64 91.41,95.45 93.28,95.12 C95.15,94.79 97.03,94.42 98.90,94.91 C100.77,95.40 102.64,98.04 104.51,98.07 C106.38,98.11 108.25,95.93 110.12,95.13 C112.00,94.32 113.87,94.00 115.74,93.24 C117.61,92.48 119.48,91.11 121.35,90.58 C123.22,90.04 125.10,90.49 126.97,90.03 C128.84,89.56 130.71,88.60 132.58,87.77 C134.45,86.95 136.32,86.00 138.19,85.07 C140.07,84.14 141.94,83.14 143.81,82.19 C145.68,81.24 147.55,80.33 149.42,79.38 C151.29,78.44 153.16,77.61 155.04,76.54 C156.91,75.47 158.78,74.14 160.65,72.98 C162.52,71.82 164.39,70.50 166.26,69.57 C168.14,68.65 170.01,67.93 171.88,67.43 C173.75,66.94 175.62,66.73 177.49,66.60 C179.36,66.48 181.23,66.55 183.11,66.67 C184.98,66.79 186.85,67.02 188.72,67.32 C190.59,67.62 192.46,68.01 194.33,68.47 C196.20,68.92 198.08,69.56 199.95,70.05 C201.82,70.53 203.69,70.82 205.56,71.38 C207.43,71.94 209.30,72.44 211.17,73.42 C213.05,74.41 214.92,75.91 216.79,77.27 C218.66,78.64 220.53,80.11 222.40,81.61 C224.27,83.10 226.15,84.89 228.02,86.24 C229.89,87.59 231.76,89.04 233.63,89.71 C235.50,90.38 237.37,89.71 239.24,90.27 C241.12,90.82 242.99,91.88 244.86,93.07 C246.73,94.26 248.60,96.21 250.47,97.38 C252.34,98.55 254.21,98.91 256.09,100.09 C257.96,101.27 259.83,103.40 261.70,104.48 C263.57,105.56 265.44,105.82 267.31,106.57 C269.19,107.32 271.06,108.30 272.93,109.00 C274.80,109.71 276.67,110.25 278.54,110.80 C280.41,111.35 282.28,112.09 284.16,112.32 C286.03,112.55 287.90,112.37 289.77,112.17 C291.64,111.97 293.51,111.17 295.38,111.13 C297.25,111.08 299.13,111.69 301.00,111.91 C302.87,112.13 304.74,112.35 306.61,112.46 C308.48,112.57 310.35,112.35 312.23,112.56 C314.10,112.78 315.97,114.01 317.84,113.73 C319.71,113.46 321.58,111.67 323.45,110.91 C325.32,110.15 327.20,109.81 329.07,109.17 C330.94,108.53 332.81,108.21 334.68,107.07 C336.55,105.93 338.42,103.45 340.29,102.33 C342.17,101.22 344.04,101.08 345.91,100.37 C347.78,99.65 349.65,99.03 351.52,98.02 C353.39,97.00 355.26,95.31 357.14,94.28 C359.01,93.24 360.88,92.98 362.75,91.80 C364.62,90.61 366.49,88.41 368.36,87.16 C370.24,85.92 372.11,85.27 373.98,84.33 C375.85,83.39 377.72,82.55 379.59,81.53 C381.46,80.51 383.33,78.60 385.21,78.19 C387.08,77.79 388.95,79.04 390.82,79.11 C392.69,79.18 394.56,78.69 396.43,78.64 C398.30,78.59 400.18,79.17 402.05,78.81 C403.92,78.46 405.79,76.85 407.66,76.51 C409.53,76.17 411.40,76.58 413.28,76.78 C415.15,76.98 417.02,77.51 418.89,77.73 C420.76,77.95 422.63,77.76 424.50,78.12 C426.37,78.47 428.25,79.55 430.12,79.86 C431.99,80.17 433.86,79.38 435.73,79.97 C437.60,80.57 439.47,82.97 441.34,83.45 C443.22,83.93 445.09,82.56 446.96,82.86 C448.83,83.16 450.70,84.46 452.57,85.25 C454.44,86.04 456.31,87.16 458.19,87.62 C460.06,88.07 462.86,87.91 463.80,87.97" stroke="#BF9000" stroke-width="1.60" fill="none" stroke-linejoin="round"/>
<g><path d="M57.00,87.16 l5.20,5.20 m0,-5.20 l-5.20,5.20" stroke="#BF9000" stroke-width="0.7" fill="none" opacity="0.75"/><path d="M62.61,89.43 l5.20,5.20 m0,-5.20 l-5.20,5.20" stroke="#BF9000" stroke-width="0.7" fill="none" opacity="0.75"/><path d="M68.23,91.45 l5.20,5.20 m0,-5.20 l-5.20,5.20" stroke="#BF9000" stroke-width="0.7" fill="none" opacity="0.75"/><path d="M73.84,93.23 l5.20,5.20 m0,-5.20 l-5.20,5.20" stroke="#BF9000" stroke-width="0.7" fill="none" opacity="0.75"/><path d="M79.46,93.96 l5.20,5.20 m0,-5.20 l-5.20,5.20" stroke="#BF9000" stroke-width="0.7" fill="none" opacity="0.75"/><path d="M85.07,94.28 l5.20,5.20 m0,-5.20 l-5.20,5.20" stroke="#BF9000" stroke-width="0.7" fill="none" opacity="0.75"/><path d="M90.68,92.52 l5.20,5.20 m0,-5.20 l-5.20,5.20" stroke="#BF9000" stroke-width="0.7" fill="none" opacity="0.75"/><path d="M96.30,92.31 l5.20,5.20 m0,-5.20 l-5.20,5.20" stroke="#BF9000" stroke-width="0.7" fill="none" opacity="0.75"/><path d="M101.91,95.47 l5.20,5.20 m0,-5.20 l-5.20,5.20" stroke="#BF9000" stroke-width="0.7" fill="none" opacity="0.75"/><path d="M107.53,92.53 l5.20,5.20 m0,-5.20 l-5.20,5.20" stroke="#BF9000" stroke-width="0.7" fill="none" opacity="0.75"/><path d="M113.14,90.64 l5.20,5.20 m0,-5.20 l-5.20,5.20" stroke="#BF9000" stroke-width="0.7" fill="none" opacity="0.75"/><path d="M118.75,87.98 l5.20,5.20 m0,-5.20 l-5.20,5.20" stroke="#BF9000" stroke-width="0.7" fill="none" opacity="0.75"/><path d="M124.37,87.43 l5.20,5.20 m0,-5.20 l-5.20,5.20" stroke="#BF9000" stroke-width="0.7" fill="none" opacity="0.75"/><path d="M129.98,85.17 l5.20,5.20 m0,-5.20 l-5.20,5.20" stroke="#BF9000" stroke-width="0.7" fill="none" opacity="0.75"/><path d="M135.59,82.47 l5.20,5.20 m0,-5.20 l-5.20,5.20" stroke="#BF9000" stroke-width="0.7" fill="none" opacity="0.75"/><path d="M141.21,79.59 l5.20,5.20 m0,-5.20 l-5.20,5.20" stroke="#BF9000" stroke-width="0.7" fill="none" opacity="0.75"/><path d="M146.82,76.78 l5.20,5.20 m0,-5.20 l-5.20,5.20" stroke="#BF9000" stroke-width="0.7" fill="none" opacity="0.75"/><path d="M152.44,73.94 l5.20,5.20 m0,-5.20 l-5.20,5.20" stroke="#BF9000" stroke-width="0.7" fill="none" opacity="0.75"/><path d="M158.05,70.38 l5.20,5.20 m0,-5.20 l-5.20,5.20" stroke="#BF9000" stroke-width="0.7" fill="none" opacity="0.75"/><path d="M163.66,66.97 l5.20,5.20 m0,-5.20 l-5.20,5.20" stroke="#BF9000" stroke-width="0.7" fill="none" opacity="0.75"/><path d="M169.28,64.83 l5.20,5.20 m0,-5.20 l-5.20,5.20" stroke="#BF9000" stroke-width="0.7" fill="none" opacity="0.75"/><path d="M174.89,64.00 l5.20,5.20 m0,-5.20 l-5.20,5.20" stroke="#BF9000" stroke-width="0.7" fill="none" opacity="0.75"/><path d="M180.51,64.07 l5.20,5.20 m0,-5.20 l-5.20,5.20" stroke="#BF9000" stroke-width="0.7" fill="none" opacity="0.75"/><path d="M186.12,64.72 l5.20,5.20 m0,-5.20 l-5.20,5.20" stroke="#BF9000" stroke-width="0.7" fill="none" opacity="0.75"/><path d="M191.73,65.87 l5.20,5.20 m0,-5.20 l-5.20,5.20" stroke="#BF9000" stroke-width="0.7" fill="none" opacity="0.75"/><path d="M197.35,67.45 l5.20,5.20 m0,-5.20 l-5.20,5.20" stroke="#BF9000" stroke-width="0.7" fill="none" opacity="0.75"/><path d="M202.96,68.78 l5.20,5.20 m0,-5.20 l-5.20,5.20" stroke="#BF9000" stroke-width="0.7" fill="none" opacity="0.75"/><path d="M208.57,70.82 l5.20,5.20 m0,-5.20 l-5.20,5.20" stroke="#BF9000" stroke-width="0.7" fill="none" opacity="0.75"/><path d="M214.19,74.67 l5.20,5.20 m0,-5.20 l-5.20,5.20" stroke="#BF9000" stroke-width="0.7" fill="none" opacity="0.75"/><path d="M219.80,79.01 l5.20,5.20 m0,-5.20 l-5.20,5.20" stroke="#BF9000" stroke-width="0.7" fill="none" opacity="0.75"/><path d="M225.42,83.64 l5.20,5.20 m0,-5.20 l-5.20,5.20" stroke="#BF9000" stroke-width="0.7" fill="none" opacity="0.75"/><path d="M231.03,87.11 l5.20,5.20 m0,-5.20 l-5.20,5.20" stroke="#BF9000" stroke-width="0.7" fill="none" opacity="0.75"/><path d="M236.64,87.67 l5.20,5.20 m0,-5.20 l-5.20,5.20" stroke="#BF9000" stroke-width="0.7" fill="none" opacity="0.75"/><path d="M242.26,90.47 l5.20,5.20 m0,-5.20 l-5.20,5.20" stroke="#BF9000" stroke-width="0.7" fill="none" opacity="0.75"/><path d="M247.87,94.78 l5.20,5.20 m0,-5.20 l-5.20,5.20" stroke="#BF9000" stroke-width="0.7" fill="none" opacity="0.75"/><path d="M253.49,97.49 l5.20,5.20 m0,-5.20 l-5.20,5.20" stroke="#BF9000" stroke-width="0.7" fill="none" opacity="0.75"/><path d="M259.10,101.88 l5.20,5.20 m0,-5.20 l-5.20,5.20" stroke="#BF9000" stroke-width="0.7" fill="none" opacity="0.75"/><path d="M264.71,103.97 l5.20,5.20 m0,-5.20 l-5.20,5.20" stroke="#BF9000" stroke-width="0.7" fill="none" opacity="0.75"/><path d="M270.33,106.40 l5.20,5.20 m0,-5.20 l-5.20,5.20" stroke="#BF9000" stroke-width="0.7" fill="none" opacity="0.75"/><path d="M275.94,108.20 l5.20,5.20 m0,-5.20 l-5.20,5.20" stroke="#BF9000" stroke-width="0.7" fill="none" opacity="0.75"/><path d="M281.56,109.72 l5.20,5.20 m0,-5.20 l-5.20,5.20" stroke="#BF9000" stroke-width="0.7" fill="none" opacity="0.75"/><path d="M287.17,109.57 l5.20,5.20 m0,-5.20 l-5.20,5.20" stroke="#BF9000" stroke-width="0.7" fill="none" opacity="0.75"/><path d="M292.78,108.53 l5.20,5.20 m0,-5.20 l-5.20,5.20" stroke="#BF9000" stroke-width="0.7" fill="none" opacity="0.75"/><path d="M298.40,109.31 l5.20,5.20 m0,-5.20 l-5.20,5.20" stroke="#BF9000" stroke-width="0.7" fill="none" opacity="0.75"/><path d="M304.01,109.86 l5.20,5.20 m0,-5.20 l-5.20,5.20" stroke="#BF9000" stroke-width="0.7" fill="none" opacity="0.75"/><path d="M309.62,109.96 l5.20,5.20 m0,-5.20 l-5.20,5.20" stroke="#BF9000" stroke-width="0.7" fill="none" opacity="0.75"/><path d="M315.24,111.13 l5.20,5.20 m0,-5.20 l-5.20,5.20" stroke="#BF9000" stroke-width="0.7" fill="none" opacity="0.75"/><path d="M320.85,108.31 l5.20,5.20 m0,-5.20 l-5.20,5.20" stroke="#BF9000" stroke-width="0.7" fill="none" opacity="0.75"/><path d="M326.47,106.57 l5.20,5.20 m0,-5.20 l-5.20,5.20" stroke="#BF9000" stroke-width="0.7" fill="none" opacity="0.75"/><path d="M332.08,104.47 l5.20,5.20 m0,-5.20 l-5.20,5.20" stroke="#BF9000" stroke-width="0.7" fill="none" opacity="0.75"/><path d="M337.69,99.73 l5.20,5.20 m0,-5.20 l-5.20,5.20" stroke="#BF9000" stroke-width="0.7" fill="none" opacity="0.75"/><path d="M343.31,97.77 l5.20,5.20 m0,-5.20 l-5.20,5.20" stroke="#BF9000" stroke-width="0.7" fill="none" opacity="0.75"/><path d="M348.92,95.42 l5.20,5.20 m0,-5.20 l-5.20,5.20" stroke="#BF9000" stroke-width="0.7" fill="none" opacity="0.75"/><path d="M354.54,91.68 l5.20,5.20 m0,-5.20 l-5.20,5.20" stroke="#BF9000" stroke-width="0.7" fill="none" opacity="0.75"/><path d="M360.15,89.20 l5.20,5.20 m0,-5.20 l-5.20,5.20" stroke="#BF9000" stroke-width="0.7" fill="none" opacity="0.75"/><path d="M365.76,84.56 l5.20,5.20 m0,-5.20 l-5.20,5.20" stroke="#BF9000" stroke-width="0.7" fill="none" opacity="0.75"/><path d="M371.38,81.73 l5.20,5.20 m0,-5.20 l-5.20,5.20" stroke="#BF9000" stroke-width="0.7" fill="none" opacity="0.75"/><path d="M376.99,78.93 l5.20,5.20 m0,-5.20 l-5.20,5.20" stroke="#BF9000" stroke-width="0.7" fill="none" opacity="0.75"/><path d="M382.61,75.59 l5.20,5.20 m0,-5.20 l-5.20,5.20" stroke="#BF9000" stroke-width="0.7" fill="none" opacity="0.75"/><path d="M388.22,76.51 l5.20,5.20 m0,-5.20 l-5.20,5.20" stroke="#BF9000" stroke-width="0.7" fill="none" opacity="0.75"/><path d="M393.83,76.04 l5.20,5.20 m0,-5.20 l-5.20,5.20" stroke="#BF9000" stroke-width="0.7" fill="none" opacity="0.75"/><path d="M399.45,76.21 l5.20,5.20 m0,-5.20 l-5.20,5.20" stroke="#BF9000" stroke-width="0.7" fill="none" opacity="0.75"/><path d="M405.06,73.91 l5.20,5.20 m0,-5.20 l-5.20,5.20" stroke="#BF9000" stroke-width="0.7" fill="none" opacity="0.75"/><path d="M410.68,74.18 l5.20,5.20 m0,-5.20 l-5.20,5.20" stroke="#BF9000" stroke-width="0.7" fill="none" opacity="0.75"/><path d="M416.29,75.13 l5.20,5.20 m0,-5.20 l-5.20,5.20" stroke="#BF9000" stroke-width="0.7" fill="none" opacity="0.75"/><path d="M421.90,75.52 l5.20,5.20 m0,-5.20 l-5.20,5.20" stroke="#BF9000" stroke-width="0.7" fill="none" opacity="0.75"/><path d="M427.52,77.26 l5.20,5.20 m0,-5.20 l-5.20,5.20" stroke="#BF9000" stroke-width="0.7" fill="none" opacity="0.75"/><path d="M433.13,77.37 l5.20,5.20 m0,-5.20 l-5.20,5.20" stroke="#BF9000" stroke-width="0.7" fill="none" opacity="0.75"/><path d="M438.74,80.85 l5.20,5.20 m0,-5.20 l-5.20,5.20" stroke="#BF9000" stroke-width="0.7" fill="none" opacity="0.75"/><path d="M444.36,80.26 l5.20,5.20 m0,-5.20 l-5.20,5.20" stroke="#BF9000" stroke-width="0.7" fill="none" opacity="0.75"/><path d="M449.97,82.65 l5.20,5.20 m0,-5.20 l-5.20,5.20" stroke="#BF9000" stroke-width="0.7" fill="none" opacity="0.75"/><path d="M455.59,85.02 l5.20,5.20 m0,-5.20 l-5.20,5.20" stroke="#BF9000" stroke-width="0.7" fill="none" opacity="0.75"/><path d="M461.20,85.37 l5.20,5.20 m0,-5.20 l-5.20,5.20" stroke="#BF9000" stroke-width="0.7" fill="none" opacity="0.75"/></g>
<path d="M59.60,108.33 C60.54,108.56 63.34,109.20 65.21,109.69 C67.09,110.19 68.96,110.44 70.83,111.32 C72.70,112.20 74.57,113.78 76.44,114.98 C78.31,116.18 80.18,118.29 82.06,118.52 C83.93,118.76 85.80,116.47 87.67,116.36 C89.54,116.26 91.41,117.90 93.28,117.87 C95.15,117.84 97.03,116.46 98.90,116.19 C100.77,115.91 102.64,116.17 104.51,116.21 C106.38,116.25 108.25,116.78 110.12,116.45 C112.00,116.11 113.87,115.11 115.74,114.21 C117.61,113.31 119.48,111.63 121.35,111.03 C123.22,110.44 125.10,110.90 126.97,110.63 C128.84,110.37 130.71,110.02 132.58,109.43 C134.45,108.85 136.32,108.24 138.19,107.13 C140.07,106.03 141.94,104.10 143.81,102.78 C145.68,101.46 147.55,100.57 149.42,99.22 C151.29,97.87 153.16,96.15 155.04,94.68 C156.91,93.21 158.78,92.04 160.65,90.37 C162.52,88.71 164.39,86.10 166.26,84.70 C168.14,83.31 170.01,82.78 171.88,82.00 C173.75,81.22 175.62,80.53 177.49,80.02 C179.36,79.51 181.23,78.98 183.11,78.94 C184.98,78.90 186.85,79.13 188.72,79.80 C190.59,80.46 192.46,81.85 194.33,82.92 C196.20,83.98 198.08,85.09 199.95,86.19 C201.82,87.30 203.69,88.67 205.56,89.56 C207.43,90.45 209.30,90.65 211.17,91.52 C213.05,92.39 214.92,93.73 216.79,94.76 C218.66,95.79 220.53,96.57 222.40,97.72 C224.27,98.88 226.15,100.28 228.02,101.71 C229.89,103.13 231.76,104.97 233.63,106.26 C235.50,107.56 237.37,108.33 239.24,109.50 C241.12,110.66 242.99,112.08 244.86,113.25 C246.73,114.42 248.60,115.42 250.47,116.51 C252.34,117.60 254.21,118.65 256.09,119.81 C257.96,120.97 259.83,122.34 261.70,123.47 C263.57,124.61 265.44,125.59 267.31,126.60 C269.19,127.60 271.06,129.09 272.93,129.53 C274.80,129.97 276.67,128.88 278.54,129.25 C280.41,129.62 282.28,131.14 284.16,131.74 C286.03,132.35 287.90,132.56 289.77,132.88 C291.64,133.20 293.51,133.45 295.38,133.65 C297.25,133.85 299.13,133.90 301.00,134.07 C302.87,134.24 304.74,134.57 306.61,134.66 C308.48,134.75 310.35,135.07 312.23,134.60 C314.10,134.14 315.97,132.86 317.84,131.87 C319.71,130.87 321.58,129.51 323.45,128.64 C325.32,127.76 327.20,127.03 329.07,126.61 C330.94,126.18 332.81,126.56 334.68,126.07 C336.55,125.58 338.42,124.83 340.29,123.68 C342.17,122.52 344.04,120.48 345.91,119.14 C347.78,117.80 349.65,116.82 351.52,115.65 C353.39,114.47 355.26,113.63 357.14,112.08 C359.01,110.53 360.88,108.26 362.75,106.34 C364.62,104.41 366.49,102.06 368.36,100.53 C370.24,99.00 372.11,98.24 373.98,97.14 C375.85,96.05 377.72,94.97 379.59,93.96 C381.46,92.96 383.33,91.69 385.21,91.10 C387.08,90.50 388.95,90.33 390.82,90.41 C392.69,90.48 394.56,91.28 396.43,91.54 C398.30,91.81 400.18,92.27 402.05,91.98 C403.92,91.70 405.79,89.61 407.66,89.85 C409.53,90.09 411.40,92.67 413.28,93.45 C415.15,94.22 417.02,93.82 418.89,94.49 C420.76,95.15 422.63,97.56 424.50,97.45 C426.37,97.35 428.25,93.60 430.12,93.84 C431.99,94.08 433.86,97.80 435.73,98.89 C437.60,99.97 439.47,100.01 441.34,100.37 C443.22,100.72 445.09,100.48 446.96,101.04 C448.83,101.60 450.70,103.03 452.57,103.73 C454.44,104.43 456.31,104.69 458.19,105.27 C460.06,105.85 462.86,106.87 463.80,107.19" stroke="#2F5597" stroke-width="1.60" fill="none" stroke-linejoin="round"/>
<g><path d="M57.00,105.73 l5.20,5.20 m0,-5.20 l-5.20,5.20 M59.60,105.23 v6.20" stroke="#2F5597" stroke-width="0.7" fill="none" opacity="0.75"/><path d="M62.61,107.09 l5.20,5.20 m0,-5.20 l-5.20,5.20 M65.21,106.59 v6.20" stroke="#2F5597" stroke-width="0.7" fill="none" opacity="0.75"/><path d="M68.23,108.72 l5.20,5.20 m0,-5.20 l-5.20,5.20 M70.83,108.22 v6.20" stroke="#2F5597" stroke-width="0.7" fill="none" opacity="0.75"/><path d="M73.84,112.38 l5.20,5.20 m0,-5.20 l-5.20,5.20 M76.44,111.88 v6.20" stroke="#2F5597" stroke-width="0.7" fill="none" opacity="0.75"/><path d="M79.46,115.92 l5.20,5.20 m0,-5.20 l-5.20,5.20 M82.06,115.42 v6.20" stroke="#2F5597" stroke-width="0.7" fill="none" opacity="0.75"/><path d="M85.07,113.76 l5.20,5.20 m0,-5.20 l-5.20,5.20 M87.67,113.26 v6.20" stroke="#2F5597" stroke-width="0.7" fill="none" opacity="0.75"/><path d="M90.68,115.27 l5.20,5.20 m0,-5.20 l-5.20,5.20 M93.28,114.77 v6.20" stroke="#2F5597" stroke-width="0.7" fill="none" opacity="0.75"/><path d="M96.30,113.59 l5.20,5.20 m0,-5.20 l-5.20,5.20 M98.90,113.09 v6.20" stroke="#2F5597" stroke-width="0.7" fill="none" opacity="0.75"/><path d="M101.91,113.61 l5.20,5.20 m0,-5.20 l-5.20,5.20 M104.51,113.11 v6.20" stroke="#2F5597" stroke-width="0.7" fill="none" opacity="0.75"/><path d="M107.53,113.85 l5.20,5.20 m0,-5.20 l-5.20,5.20 M110.12,113.35 v6.20" stroke="#2F5597" stroke-width="0.7" fill="none" opacity="0.75"/><path d="M113.14,111.61 l5.20,5.20 m0,-5.20 l-5.20,5.20 M115.74,111.11 v6.20" stroke="#2F5597" stroke-width="0.7" fill="none" opacity="0.75"/><path d="M118.75,108.43 l5.20,5.20 m0,-5.20 l-5.20,5.20 M121.35,107.93 v6.20" stroke="#2F5597" stroke-width="0.7" fill="none" opacity="0.75"/><path d="M124.37,108.03 l5.20,5.20 m0,-5.20 l-5.20,5.20 M126.97,107.53 v6.20" stroke="#2F5597" stroke-width="0.7" fill="none" opacity="0.75"/><path d="M129.98,106.83 l5.20,5.20 m0,-5.20 l-5.20,5.20 M132.58,106.33 v6.20" stroke="#2F5597" stroke-width="0.7" fill="none" opacity="0.75"/><path d="M135.59,104.53 l5.20,5.20 m0,-5.20 l-5.20,5.20 M138.19,104.03 v6.20" stroke="#2F5597" stroke-width="0.7" fill="none" opacity="0.75"/><path d="M141.21,100.18 l5.20,5.20 m0,-5.20 l-5.20,5.20 M143.81,99.68 v6.20" stroke="#2F5597" stroke-width="0.7" fill="none" opacity="0.75"/><path d="M146.82,96.62 l5.20,5.20 m0,-5.20 l-5.20,5.20 M149.42,96.12 v6.20" stroke="#2F5597" stroke-width="0.7" fill="none" opacity="0.75"/><path d="M152.44,92.08 l5.20,5.20 m0,-5.20 l-5.20,5.20 M155.04,91.58 v6.20" stroke="#2F5597" stroke-width="0.7" fill="none" opacity="0.75"/><path d="M158.05,87.77 l5.20,5.20 m0,-5.20 l-5.20,5.20 M160.65,87.27 v6.20" stroke="#2F5597" stroke-width="0.7" fill="none" opacity="0.75"/><path d="M163.66,82.10 l5.20,5.20 m0,-5.20 l-5.20,5.20 M166.26,81.60 v6.20" stroke="#2F5597" stroke-width="0.7" fill="none" opacity="0.75"/><path d="M169.28,79.40 l5.20,5.20 m0,-5.20 l-5.20,5.20 M171.88,78.90 v6.20" stroke="#2F5597" stroke-width="0.7" fill="none" opacity="0.75"/><path d="M174.89,77.42 l5.20,5.20 m0,-5.20 l-5.20,5.20 M177.49,76.92 v6.20" stroke="#2F5597" stroke-width="0.7" fill="none" opacity="0.75"/><path d="M180.51,76.34 l5.20,5.20 m0,-5.20 l-5.20,5.20 M183.11,75.84 v6.20" stroke="#2F5597" stroke-width="0.7" fill="none" opacity="0.75"/><path d="M186.12,77.20 l5.20,5.20 m0,-5.20 l-5.20,5.20 M188.72,76.70 v6.20" stroke="#2F5597" stroke-width="0.7" fill="none" opacity="0.75"/><path d="M191.73,80.32 l5.20,5.20 m0,-5.20 l-5.20,5.20 M194.33,79.82 v6.20" stroke="#2F5597" stroke-width="0.7" fill="none" opacity="0.75"/><path d="M197.35,83.59 l5.20,5.20 m0,-5.20 l-5.20,5.20 M199.95,83.09 v6.20" stroke="#2F5597" stroke-width="0.7" fill="none" opacity="0.75"/><path d="M202.96,86.96 l5.20,5.20 m0,-5.20 l-5.20,5.20 M205.56,86.46 v6.20" stroke="#2F5597" stroke-width="0.7" fill="none" opacity="0.75"/><path d="M208.57,88.92 l5.20,5.20 m0,-5.20 l-5.20,5.20 M211.17,88.42 v6.20" stroke="#2F5597" stroke-width="0.7" fill="none" opacity="0.75"/><path d="M214.19,92.16 l5.20,5.20 m0,-5.20 l-5.20,5.20 M216.79,91.66 v6.20" stroke="#2F5597" stroke-width="0.7" fill="none" opacity="0.75"/><path d="M219.80,95.12 l5.20,5.20 m0,-5.20 l-5.20,5.20 M222.40,94.62 v6.20" stroke="#2F5597" stroke-width="0.7" fill="none" opacity="0.75"/><path d="M225.42,99.11 l5.20,5.20 m0,-5.20 l-5.20,5.20 M228.02,98.61 v6.20" stroke="#2F5597" stroke-width="0.7" fill="none" opacity="0.75"/><path d="M231.03,103.66 l5.20,5.20 m0,-5.20 l-5.20,5.20 M233.63,103.16 v6.20" stroke="#2F5597" stroke-width="0.7" fill="none" opacity="0.75"/><path d="M236.64,106.90 l5.20,5.20 m0,-5.20 l-5.20,5.20 M239.24,106.40 v6.20" stroke="#2F5597" stroke-width="0.7" fill="none" opacity="0.75"/><path d="M242.26,110.65 l5.20,5.20 m0,-5.20 l-5.20,5.20 M244.86,110.15 v6.20" stroke="#2F5597" stroke-width="0.7" fill="none" opacity="0.75"/><path d="M247.87,113.91 l5.20,5.20 m0,-5.20 l-5.20,5.20 M250.47,113.41 v6.20" stroke="#2F5597" stroke-width="0.7" fill="none" opacity="0.75"/><path d="M253.49,117.21 l5.20,5.20 m0,-5.20 l-5.20,5.20 M256.09,116.71 v6.20" stroke="#2F5597" stroke-width="0.7" fill="none" opacity="0.75"/><path d="M259.10,120.87 l5.20,5.20 m0,-5.20 l-5.20,5.20 M261.70,120.37 v6.20" stroke="#2F5597" stroke-width="0.7" fill="none" opacity="0.75"/><path d="M264.71,124.00 l5.20,5.20 m0,-5.20 l-5.20,5.20 M267.31,123.50 v6.20" stroke="#2F5597" stroke-width="0.7" fill="none" opacity="0.75"/><path d="M270.33,126.93 l5.20,5.20 m0,-5.20 l-5.20,5.20 M272.93,126.43 v6.20" stroke="#2F5597" stroke-width="0.7" fill="none" opacity="0.75"/><path d="M275.94,126.65 l5.20,5.20 m0,-5.20 l-5.20,5.20 M278.54,126.15 v6.20" stroke="#2F5597" stroke-width="0.7" fill="none" opacity="0.75"/><path d="M281.56,129.14 l5.20,5.20 m0,-5.20 l-5.20,5.20 M284.16,128.64 v6.20" stroke="#2F5597" stroke-width="0.7" fill="none" opacity="0.75"/><path d="M287.17,130.28 l5.20,5.20 m0,-5.20 l-5.20,5.20 M289.77,129.78 v6.20" stroke="#2F5597" stroke-width="0.7" fill="none" opacity="0.75"/><path d="M292.78,131.05 l5.20,5.20 m0,-5.20 l-5.20,5.20 M295.38,130.55 v6.20" stroke="#2F5597" stroke-width="0.7" fill="none" opacity="0.75"/><path d="M298.40,131.47 l5.20,5.20 m0,-5.20 l-5.20,5.20 M301.00,130.97 v6.20" stroke="#2F5597" stroke-width="0.7" fill="none" opacity="0.75"/><path d="M304.01,132.06 l5.20,5.20 m0,-5.20 l-5.20,5.20 M306.61,131.56 v6.20" stroke="#2F5597" stroke-width="0.7" fill="none" opacity="0.75"/><path d="M309.62,132.00 l5.20,5.20 m0,-5.20 l-5.20,5.20 M312.23,131.50 v6.20" stroke="#2F5597" stroke-width="0.7" fill="none" opacity="0.75"/><path d="M315.24,129.27 l5.20,5.20 m0,-5.20 l-5.20,5.20 M317.84,128.77 v6.20" stroke="#2F5597" stroke-width="0.7" fill="none" opacity="0.75"/><path d="M320.85,126.04 l5.20,5.20 m0,-5.20 l-5.20,5.20 M323.45,125.54 v6.20" stroke="#2F5597" stroke-width="0.7" fill="none" opacity="0.75"/><path d="M326.47,124.01 l5.20,5.20 m0,-5.20 l-5.20,5.20 M329.07,123.51 v6.20" stroke="#2F5597" stroke-width="0.7" fill="none" opacity="0.75"/><path d="M332.08,123.47 l5.20,5.20 m0,-5.20 l-5.20,5.20 M334.68,122.97 v6.20" stroke="#2F5597" stroke-width="0.7" fill="none" opacity="0.75"/><path d="M337.69,121.08 l5.20,5.20 m0,-5.20 l-5.20,5.20 M340.29,120.58 v6.20" stroke="#2F5597" stroke-width="0.7" fill="none" opacity="0.75"/><path d="M343.31,116.54 l5.20,5.20 m0,-5.20 l-5.20,5.20 M345.91,116.04 v6.20" stroke="#2F5597" stroke-width="0.7" fill="none" opacity="0.75"/><path d="M348.92,113.05 l5.20,5.20 m0,-5.20 l-5.20,5.20 M351.52,112.55 v6.20" stroke="#2F5597" stroke-width="0.7" fill="none" opacity="0.75"/><path d="M354.54,109.48 l5.20,5.20 m0,-5.20 l-5.20,5.20 M357.14,108.98 v6.20" stroke="#2F5597" stroke-width="0.7" fill="none" opacity="0.75"/><path d="M360.15,103.74 l5.20,5.20 m0,-5.20 l-5.20,5.20 M362.75,103.24 v6.20" stroke="#2F5597" stroke-width="0.7" fill="none" opacity="0.75"/><path d="M365.76,97.93 l5.20,5.20 m0,-5.20 l-5.20,5.20 M368.36,97.43 v6.20" stroke="#2F5597" stroke-width="0.7" fill="none" opacity="0.75"/><path d="M371.38,94.54 l5.20,5.20 m0,-5.20 l-5.20,5.20 M373.98,94.04 v6.20" stroke="#2F5597" stroke-width="0.7" fill="none" opacity="0.75"/><path d="M376.99,91.36 l5.20,5.20 m0,-5.20 l-5.20,5.20 M379.59,90.86 v6.20" stroke="#2F5597" stroke-width="0.7" fill="none" opacity="0.75"/><path d="M382.61,88.50 l5.20,5.20 m0,-5.20 l-5.20,5.20 M385.21,88.00 v6.20" stroke="#2F5597" stroke-width="0.7" fill="none" opacity="0.75"/><path d="M388.22,87.81 l5.20,5.20 m0,-5.20 l-5.20,5.20 M390.82,87.31 v6.20" stroke="#2F5597" stroke-width="0.7" fill="none" opacity="0.75"/><path d="M393.83,88.94 l5.20,5.20 m0,-5.20 l-5.20,5.20 M396.43,88.44 v6.20" stroke="#2F5597" stroke-width="0.7" fill="none" opacity="0.75"/><path d="M399.45,89.38 l5.20,5.20 m0,-5.20 l-5.20,5.20 M402.05,88.88 v6.20" stroke="#2F5597" stroke-width="0.7" fill="none" opacity="0.75"/><path d="M405.06,87.25 l5.20,5.20 m0,-5.20 l-5.20,5.20 M407.66,86.75 v6.20" stroke="#2F5597" stroke-width="0.7" fill="none" opacity="0.75"/><path d="M410.68,90.85 l5.20,5.20 m0,-5.20 l-5.20,5.20 M413.28,90.35 v6.20" stroke="#2F5597" stroke-width="0.7" fill="none" opacity="0.75"/><path d="M416.29,91.89 l5.20,5.20 m0,-5.20 l-5.20,5.20 M418.89,91.39 v6.20" stroke="#2F5597" stroke-width="0.7" fill="none" opacity="0.75"/><path d="M421.90,94.85 l5.20,5.20 m0,-5.20 l-5.20,5.20 M424.50,94.35 v6.20" stroke="#2F5597" stroke-width="0.7" fill="none" opacity="0.75"/><path d="M427.52,91.24 l5.20,5.20 m0,-5.20 l-5.20,5.20 M430.12,90.74 v6.20" stroke="#2F5597" stroke-width="0.7" fill="none" opacity="0.75"/><path d="M433.13,96.29 l5.20,5.20 m0,-5.20 l-5.20,5.20 M435.73,95.79 v6.20" stroke="#2F5597" stroke-width="0.7" fill="none" opacity="0.75"/><path d="M438.74,97.77 l5.20,5.20 m0,-5.20 l-5.20,5.20 M441.34,97.27 v6.20" stroke="#2F5597" stroke-width="0.7" fill="none" opacity="0.75"/><path d="M444.36,98.44 l5.20,5.20 m0,-5.20 l-5.20,5.20 M446.96,97.94 v6.20" stroke="#2F5597" stroke-width="0.7" fill="none" opacity="0.75"/><path d="M449.97,101.13 l5.20,5.20 m0,-5.20 l-5.20,5.20 M452.57,100.63 v6.20" stroke="#2F5597" stroke-width="0.7" fill="none" opacity="0.75"/><path d="M455.59,102.67 l5.20,5.20 m0,-5.20 l-5.20,5.20 M458.19,102.17 v6.20" stroke="#2F5597" stroke-width="0.7" fill="none" opacity="0.75"/><path d="M461.20,104.59 l5.20,5.20 m0,-5.20 l-5.20,5.20 M463.80,104.09 v6.20" stroke="#2F5597" stroke-width="0.7" fill="none" opacity="0.75"/></g>
<path d="M59.60,124.53 C60.54,124.85 63.34,125.93 65.21,126.43 C67.09,126.93 68.96,126.69 70.83,127.51 C72.70,128.33 74.57,130.52 76.44,131.33 C78.31,132.15 80.18,132.22 82.06,132.40 C83.93,132.57 85.80,132.40 87.67,132.40 C89.54,132.40 91.41,132.38 93.28,132.40 C95.15,132.41 97.03,132.19 98.90,132.49 C100.77,132.80 102.64,133.80 104.51,134.23 C106.38,134.66 108.25,135.28 110.12,135.07 C112.00,134.86 113.87,133.34 115.74,132.97 C117.61,132.61 119.48,133.21 121.35,132.87 C123.22,132.52 125.10,132.07 126.97,130.91 C128.84,129.75 130.71,127.42 132.58,125.92 C134.45,124.42 136.32,123.21 138.19,121.90 C140.07,120.59 141.94,119.47 143.81,118.06 C145.68,116.65 147.55,115.28 149.42,113.43 C151.29,111.58 153.16,108.73 155.04,106.98 C156.91,105.22 158.78,104.52 160.65,102.91 C162.52,101.31 164.39,98.73 166.26,97.34 C168.14,95.96 170.01,95.05 171.88,94.59 C173.75,94.13 175.62,94.62 177.49,94.59 C179.36,94.55 181.23,93.71 183.11,94.39 C184.98,95.06 186.85,97.76 188.72,98.66 C190.59,99.56 192.46,99.35 194.33,99.77 C196.20,100.20 198.08,100.54 199.95,101.22 C201.82,101.89 203.69,102.90 205.56,103.81 C207.43,104.72 209.30,105.66 211.17,106.70 C213.05,107.74 214.92,108.94 216.79,110.05 C218.66,111.16 220.53,111.84 222.40,113.35 C224.27,114.87 226.15,117.31 228.02,119.14 C229.89,120.97 231.76,123.41 233.63,124.32 C235.50,125.22 237.37,123.63 239.24,124.56 C241.12,125.48 242.99,128.75 244.86,129.86 C246.73,130.98 248.60,130.78 250.47,131.26 C252.34,131.75 254.21,131.63 256.09,132.77 C257.96,133.90 259.83,136.97 261.70,138.07 C263.57,139.18 265.44,138.53 267.31,139.40 C269.19,140.28 271.06,142.55 272.93,143.31 C274.80,144.08 276.67,143.55 278.54,143.99 C280.41,144.43 282.28,145.54 284.16,145.97 C286.03,146.40 287.90,145.72 289.77,146.57 C291.64,147.43 293.51,150.48 295.38,151.10 C297.25,151.72 299.13,150.81 301.00,150.29 C302.87,149.77 304.74,148.33 306.61,147.99 C308.48,147.66 310.35,148.19 312.23,148.28 C314.10,148.37 315.97,148.22 317.84,148.55 C319.71,148.88 321.58,150.78 323.45,150.24 C325.32,149.71 327.20,146.72 329.07,145.34 C330.94,143.97 332.81,143.22 334.68,142.01 C336.55,140.80 338.42,139.03 340.29,138.09 C342.17,137.16 344.04,137.70 345.91,136.39 C347.78,135.08 349.65,132.24 351.52,130.25 C353.39,128.27 355.26,126.35 357.14,124.47 C359.01,122.59 360.88,120.51 362.75,118.95 C364.62,117.40 366.49,116.36 368.36,115.15 C370.24,113.93 372.11,112.87 373.98,111.65 C375.85,110.42 377.72,108.85 379.59,107.78 C381.46,106.70 383.33,105.94 385.21,105.20 C387.08,104.46 388.95,103.24 390.82,103.35 C392.69,103.46 394.56,105.62 396.43,105.84 C398.30,106.07 400.18,104.88 402.05,104.69 C403.92,104.51 405.79,103.97 407.66,104.75 C409.53,105.52 411.40,108.48 413.28,109.34 C415.15,110.20 417.02,109.79 418.89,109.89 C420.76,109.99 422.63,109.37 424.50,109.95 C426.37,110.53 428.25,112.58 430.12,113.38 C431.99,114.19 433.86,114.60 435.73,114.78 C437.60,114.96 439.47,113.87 441.34,114.45 C443.22,115.02 445.09,117.11 446.96,118.23 C448.83,119.35 450.70,120.46 452.57,121.19 C454.44,121.91 456.31,122.39 458.19,122.58 C460.06,122.76 462.86,122.34 463.80,122.30" stroke="#538135" stroke-width="1.60" fill="none" stroke-linejoin="round"/>
<g><circle cx="59.60" cy="124.53" r="2.60" fill="#538135"/><circle cx="65.21" cy="126.43" r="2.60" fill="#538135"/><circle cx="70.83" cy="127.51" r="2.60" fill="#538135"/><circle cx="76.44" cy="131.33" r="2.60" fill="#538135"/><circle cx="82.06" cy="132.40" r="2.60" fill="#538135"/><circle cx="87.67" cy="132.40" r="2.60" fill="#538135"/><circle cx="93.28" cy="132.40" r="2.60" fill="#538135"/><circle cx="98.90" cy="132.49" r="2.60" fill="#538135"/><circle cx="104.51" cy="134.23" r="2.60" fill="#538135"/><circle cx="110.12" cy="135.07" r="2.60" fill="#538135"/><circle cx="115.74" cy="132.97" r="2.60" fill="#538135"/><circle cx="121.35" cy="132.87" r="2.60" fill="#538135"/><circle cx="126.97" cy="130.91" r="2.60" fill="#538135"/><circle cx="132.58" cy="125.92" r="2.60" fill="#538135"/><circle cx="138.19" cy="121.90" r="2.60" fill="#538135"/><circle cx="143.81" cy="118.06" r="2.60" fill="#538135"/><circle cx="149.42" cy="113.43" r="2.60" fill="#538135"/><circle cx="155.04" cy="106.98" r="2.60" fill="#538135"/><circle cx="160.65" cy="102.91" r="2.60" fill="#538135"/><circle cx="166.26" cy="97.34" r="2.60" fill="#538135"/><circle cx="171.88" cy="94.59" r="2.60" fill="#538135"/><circle cx="177.49" cy="94.59" r="2.60" fill="#538135"/><circle cx="183.11" cy="94.39" r="2.60" fill="#538135"/><circle cx="188.72" cy="98.66" r="2.60" fill="#538135"/><circle cx="194.33" cy="99.77" r="2.60" fill="#538135"/><circle cx="199.95" cy="101.22" r="2.60" fill="#538135"/><circle cx="205.56" cy="103.81" r="2.60" fill="#538135"/><circle cx="211.17" cy="106.70" r="2.60" fill="#538135"/><circle cx="216.79" cy="110.05" r="2.60" fill="#538135"/><circle cx="222.40" cy="113.35" r="2.60" fill="#538135"/><circle cx="228.02" cy="119.14" r="2.60" fill="#538135"/><circle cx="233.63" cy="124.32" r="2.60" fill="#538135"/><circle cx="239.24" cy="124.56" r="2.60" fill="#538135"/><circle cx="244.86" cy="129.86" r="2.60" fill="#538135"/><circle cx="250.47" cy="131.26" r="2.60" fill="#538135"/><circle cx="256.09" cy="132.77" r="2.60" fill="#538135"/><circle cx="261.70" cy="138.07" r="2.60" fill="#538135"/><circle cx="267.31" cy="139.40" r="2.60" fill="#538135"/><circle cx="272.93" cy="143.31" r="2.60" fill="#538135"/><circle cx="278.54" cy="143.99" r="2.60" fill="#538135"/><circle cx="284.16" cy="145.97" r="2.60" fill="#538135"/><circle cx="289.77" cy="146.57" r="2.60" fill="#538135"/><circle cx="295.38" cy="151.10" r="2.60" fill="#538135"/><circle cx="301.00" cy="150.29" r="2.60" fill="#538135"/><circle cx="306.61" cy="147.99" r="2.60" fill="#538135"/><circle cx="312.23" cy="148.28" r="2.60" fill="#538135"/><circle cx="317.84" cy="148.55" r="2.60" fill="#538135"/><circle cx="323.45" cy="150.24" r="2.60" fill="#538135"/><circle cx="329.07" cy="145.34" r="2.60" fill="#538135"/><circle cx="334.68" cy="142.01" r="2.60" fill="#538135"/><circle cx="340.29" cy="138.09" r="2.60" fill="#538135"/><circle cx="345.91" cy="136.39" r="2.60" fill="#538135"/><circle cx="351.52" cy="130.25" r="2.60" fill="#538135"/><circle cx="357.14" cy="124.47" r="2.60" fill="#538135"/><circle cx="362.75" cy="118.95" r="2.60" fill="#538135"/><circle cx="368.36" cy="115.15" r="2.60" fill="#538135"/><circle cx="373.98" cy="111.65" r="2.60" fill="#538135"/><circle cx="379.59" cy="107.78" r="2.60" fill="#538135"/><circle cx="385.21" cy="105.20" r="2.60" fill="#538135"/><circle cx="390.82" cy="103.35" r="2.60" fill="#538135"/><circle cx="396.43" cy="105.84" r="2.60" fill="#538135"/><circle cx="402.05" cy="104.69" r="2.60" fill="#538135"/><circle cx="407.66" cy="104.75" r="2.60" fill="#538135"/><circle cx="413.28" cy="109.34" r="2.60" fill="#538135"/><circle cx="418.89" cy="109.89" r="2.60" fill="#538135"/><circle cx="424.50" cy="109.95" r="2.60" fill="#538135"/><circle cx="430.12" cy="113.38" r="2.60" fill="#538135"/><circle cx="435.73" cy="114.78" r="2.60" fill="#538135"/><circle cx="441.34" cy="114.45" r="2.60" fill="#538135"/><circle cx="446.96" cy="118.23" r="2.60" fill="#538135"/><circle cx="452.57" cy="121.19" r="2.60" fill="#538135"/><circle cx="458.19" cy="122.58" r="2.60" fill="#538135"/><circle cx="463.80" cy="122.30" r="2.60" fill="#538135"/></g>
<path d="M59.60,136.97 C60.54,137.47 63.34,139.22 65.21,139.96 C67.09,140.70 68.96,140.93 70.83,141.42 C72.70,141.91 74.57,142.32 76.44,142.91 C78.31,143.51 80.18,144.14 82.06,145.00 C83.93,145.86 85.80,147.05 87.67,148.08 C89.54,149.10 91.41,150.64 93.28,151.16 C95.15,151.67 97.03,151.13 98.90,151.16 C100.77,151.18 102.64,151.23 104.51,151.33 C106.38,151.43 108.25,151.77 110.12,151.73 C112.00,151.69 113.87,151.55 115.74,151.10 C117.61,150.65 119.48,149.96 121.35,149.03 C123.22,148.10 125.10,146.53 126.97,145.52 C128.84,144.51 130.71,144.03 132.58,142.96 C134.45,141.88 136.32,140.98 138.19,139.05 C140.07,137.13 141.94,133.78 143.81,131.42 C145.68,129.05 147.55,126.77 149.42,124.86 C151.29,122.95 153.16,121.37 155.04,119.97 C156.91,118.57 158.78,117.85 160.65,116.47 C162.52,115.09 164.39,112.79 166.26,111.69 C168.14,110.58 170.01,110.33 171.88,109.85 C173.75,109.38 175.62,108.59 177.49,108.83 C179.36,109.08 181.23,110.80 183.11,111.33 C184.98,111.86 186.85,111.53 188.72,112.03 C190.59,112.52 192.46,113.45 194.33,114.29 C196.20,115.14 198.08,116.17 199.95,117.07 C201.82,117.97 203.69,118.60 205.56,119.70 C207.43,120.79 209.30,122.24 211.17,123.65 C213.05,125.07 214.92,127.70 216.79,128.19 C218.66,128.67 220.53,126.26 222.40,126.57 C224.27,126.88 226.15,128.85 228.02,130.04 C229.89,131.24 231.76,132.70 233.63,133.73 C235.50,134.77 237.37,135.41 239.24,136.26 C241.12,137.11 242.99,137.85 244.86,138.83 C246.73,139.81 248.60,141.26 250.47,142.13 C252.34,143.00 254.21,143.27 256.09,144.07 C257.96,144.87 259.83,145.97 261.70,146.94 C263.57,147.91 265.44,148.89 267.31,149.89 C269.19,150.90 271.06,152.01 272.93,152.97 C274.80,153.94 276.67,154.61 278.54,155.69 C280.41,156.77 282.28,158.34 284.16,159.45 C286.03,160.56 287.90,161.67 289.77,162.37 C291.64,163.08 293.51,163.50 295.38,163.67 C297.25,163.84 299.13,163.55 301.00,163.39 C302.87,163.24 304.74,162.86 306.61,162.74 C308.48,162.63 310.35,162.81 312.23,162.69 C314.10,162.56 315.97,162.43 317.84,161.97 C319.71,161.52 321.58,160.21 323.45,159.98 C325.32,159.75 327.20,161.25 329.07,160.59 C330.94,159.92 332.81,157.25 334.68,156.00 C336.55,154.74 338.42,154.09 340.29,153.08 C342.17,152.07 344.04,151.11 345.91,149.96 C347.78,148.81 349.65,147.83 351.52,146.17 C353.39,144.52 355.26,142.36 357.14,140.03 C359.01,137.71 360.88,134.68 362.75,132.20 C364.62,129.72 366.49,127.04 368.36,125.13 C370.24,123.23 372.11,122.06 373.98,120.77 C375.85,119.47 377.72,118.38 379.59,117.36 C381.46,116.35 383.33,114.54 385.21,114.67 C387.08,114.81 388.95,117.71 390.82,118.17 C392.69,118.62 394.56,117.08 396.43,117.40 C398.30,117.71 400.18,119.53 402.05,120.04 C403.92,120.55 405.79,120.22 407.66,120.47 C409.53,120.71 411.40,121.20 413.28,121.52 C415.15,121.84 417.02,121.91 418.89,122.39 C420.76,122.87 422.63,123.60 424.50,124.41 C426.37,125.21 428.25,126.60 430.12,127.23 C431.99,127.86 433.86,128.14 435.73,128.19 C437.60,128.24 439.47,127.35 441.34,127.51 C443.22,127.67 445.09,128.55 446.96,129.15 C448.83,129.75 450.70,130.37 452.57,131.12 C454.44,131.87 456.31,132.97 458.19,133.66 C460.06,134.35 462.86,134.99 463.80,135.25" stroke="#5B9BD5" stroke-width="1.60" fill="none" stroke-linejoin="round"/>
<g><path d="M57.00,136.97 h5.20 M59.60,133.87 v6.20" stroke="#5B9BD5" stroke-width="0.7" fill="none" opacity="0.75"/><path d="M62.61,139.96 h5.20 M65.21,136.86 v6.20" stroke="#5B9BD5" stroke-width="0.7" fill="none" opacity="0.75"/><path d="M68.23,141.42 h5.20 M70.83,138.32 v6.20" stroke="#5B9BD5" stroke-width="0.7" fill="none" opacity="0.75"/><path d="M73.84,142.91 h5.20 M76.44,139.81 v6.20" stroke="#5B9BD5" stroke-width="0.7" fill="none" opacity="0.75"/><path d="M79.46,145.00 h5.20 M82.06,141.90 v6.20" stroke="#5B9BD5" stroke-width="0.7" fill="none" opacity="0.75"/><path d="M85.07,148.08 h5.20 M87.67,144.98 v6.20" stroke="#5B9BD5" stroke-width="0.7" fill="none" opacity="0.75"/><path d="M90.68,151.16 h5.20 M93.28,148.06 v6.20" stroke="#5B9BD5" stroke-width="0.7" fill="none" opacity="0.75"/><path d="M96.30,151.16 h5.20 M98.90,148.06 v6.20" stroke="#5B9BD5" stroke-width="0.7" fill="none" opacity="0.75"/><path d="M101.91,151.33 h5.20 M104.51,148.23 v6.20" stroke="#5B9BD5" stroke-width="0.7" fill="none" opacity="0.75"/><path d="M107.53,151.73 h5.20 M110.12,148.63 v6.20" stroke="#5B9BD5" stroke-width="0.7" fill="none" opacity="0.75"/><path d="M113.14,151.10 h5.20 M115.74,148.00 v6.20" stroke="#5B9BD5" stroke-width="0.7" fill="none" opacity="0.75"/><path d="M118.75,149.03 h5.20 M121.35,145.93 v6.20" stroke="#5B9BD5" stroke-width="0.7" fill="none" opacity="0.75"/><path d="M124.37,145.52 h5.20 M126.97,142.42 v6.20" stroke="#5B9BD5" stroke-width="0.7" fill="none" opacity="0.75"/><path d="M129.98,142.96 h5.20 M132.58,139.86 v6.20" stroke="#5B9BD5" stroke-width="0.7" fill="none" opacity="0.75"/><path d="M135.59,139.05 h5.20 M138.19,135.95 v6.20" stroke="#5B9BD5" stroke-width="0.7" fill="none" opacity="0.75"/><path d="M141.21,131.42 h5.20 M143.81,128.32 v6.20" stroke="#5B9BD5" stroke-width="0.7" fill="none" opacity="0.75"/><path d="M146.82,124.86 h5.20 M149.42,121.76 v6.20" stroke="#5B9BD5" stroke-width="0.7" fill="none" opacity="0.75"/><path d="M152.44,119.97 h5.20 M155.04,116.87 v6.20" stroke="#5B9BD5" stroke-width="0.7" fill="none" opacity="0.75"/><path d="M158.05,116.47 h5.20 M160.65,113.37 v6.20" stroke="#5B9BD5" stroke-width="0.7" fill="none" opacity="0.75"/><path d="M163.66,111.69 h5.20 M166.26,108.59 v6.20" stroke="#5B9BD5" stroke-width="0.7" fill="none" opacity="0.75"/><path d="M169.28,109.85 h5.20 M171.88,106.75 v6.20" stroke="#5B9BD5" stroke-width="0.7" fill="none" opacity="0.75"/><path d="M174.89,108.83 h5.20 M177.49,105.73 v6.20" stroke="#5B9BD5" stroke-width="0.7" fill="none" opacity="0.75"/><path d="M180.51,111.33 h5.20 M183.11,108.23 v6.20" stroke="#5B9BD5" stroke-width="0.7" fill="none" opacity="0.75"/><path d="M186.12,112.03 h5.20 M188.72,108.93 v6.20" stroke="#5B9BD5" stroke-width="0.7" fill="none" opacity="0.75"/><path d="M191.73,114.29 h5.20 M194.33,111.19 v6.20" stroke="#5B9BD5" stroke-width="0.7" fill="none" opacity="0.75"/><path d="M197.35,117.07 h5.20 M199.95,113.97 v6.20" stroke="#5B9BD5" stroke-width="0.7" fill="none" opacity="0.75"/><path d="M202.96,119.70 h5.20 M205.56,116.60 v6.20" stroke="#5B9BD5" stroke-width="0.7" fill="none" opacity="0.75"/><path d="M208.57,123.65 h5.20 M211.17,120.55 v6.20" stroke="#5B9BD5" stroke-width="0.7" fill="none" opacity="0.75"/><path d="M214.19,128.19 h5.20 M216.79,125.09 v6.20" stroke="#5B9BD5" stroke-width="0.7" fill="none" opacity="0.75"/><path d="M219.80,126.57 h5.20 M222.40,123.47 v6.20" stroke="#5B9BD5" stroke-width="0.7" fill="none" opacity="0.75"/><path d="M225.42,130.04 h5.20 M228.02,126.94 v6.20" stroke="#5B9BD5" stroke-width="0.7" fill="none" opacity="0.75"/><path d="M231.03,133.73 h5.20 M233.63,130.63 v6.20" stroke="#5B9BD5" stroke-width="0.7" fill="none" opacity="0.75"/><path d="M236.64,136.26 h5.20 M239.24,133.16 v6.20" stroke="#5B9BD5" stroke-width="0.7" fill="none" opacity="0.75"/><path d="M242.26,138.83 h5.20 M244.86,135.73 v6.20" stroke="#5B9BD5" stroke-width="0.7" fill="none" opacity="0.75"/><path d="M247.87,142.13 h5.20 M250.47,139.03 v6.20" stroke="#5B9BD5" stroke-width="0.7" fill="none" opacity="0.75"/><path d="M253.49,144.07 h5.20 M256.09,140.97 v6.20" stroke="#5B9BD5" stroke-width="0.7" fill="none" opacity="0.75"/><path d="M259.10,146.94 h5.20 M261.70,143.84 v6.20" stroke="#5B9BD5" stroke-width="0.7" fill="none" opacity="0.75"/><path d="M264.71,149.89 h5.20 M267.31,146.79 v6.20" stroke="#5B9BD5" stroke-width="0.7" fill="none" opacity="0.75"/><path d="M270.33,152.97 h5.20 M272.93,149.87 v6.20" stroke="#5B9BD5" stroke-width="0.7" fill="none" opacity="0.75"/><path d="M275.94,155.69 h5.20 M278.54,152.59 v6.20" stroke="#5B9BD5" stroke-width="0.7" fill="none" opacity="0.75"/><path d="M281.56,159.45 h5.20 M284.16,156.35 v6.20" stroke="#5B9BD5" stroke-width="0.7" fill="none" opacity="0.75"/><path d="M287.17,162.37 h5.20 M289.77,159.27 v6.20" stroke="#5B9BD5" stroke-width="0.7" fill="none" opacity="0.75"/><path d="M292.78,163.67 h5.20 M295.38,160.57 v6.20" stroke="#5B9BD5" stroke-width="0.7" fill="none" opacity="0.75"/><path d="M298.40,163.39 h5.20 M301.00,160.29 v6.20" stroke="#5B9BD5" stroke-width="0.7" fill="none" opacity="0.75"/><path d="M304.01,162.74 h5.20 M306.61,159.64 v6.20" stroke="#5B9BD5" stroke-width="0.7" fill="none" opacity="0.75"/><path d="M309.62,162.69 h5.20 M312.23,159.59 v6.20" stroke="#5B9BD5" stroke-width="0.7" fill="none" opacity="0.75"/><path d="M315.24,161.97 h5.20 M317.84,158.87 v6.20" stroke="#5B9BD5" stroke-width="0.7" fill="none" opacity="0.75"/><path d="M320.85,159.98 h5.20 M323.45,156.88 v6.20" stroke="#5B9BD5" stroke-width="0.7" fill="none" opacity="0.75"/><path d="M326.47,160.59 h5.20 M329.07,157.49 v6.20" stroke="#5B9BD5" stroke-width="0.7" fill="none" opacity="0.75"/><path d="M332.08,156.00 h5.20 M334.68,152.90 v6.20" stroke="#5B9BD5" stroke-width="0.7" fill="none" opacity="0.75"/><path d="M337.69,153.08 h5.20 M340.29,149.98 v6.20" stroke="#5B9BD5" stroke-width="0.7" fill="none" opacity="0.75"/><path d="M343.31,149.96 h5.20 M345.91,146.86 v6.20" stroke="#5B9BD5" stroke-width="0.7" fill="none" opacity="0.75"/><path d="M348.92,146.17 h5.20 M351.52,143.07 v6.20" stroke="#5B9BD5" stroke-width="0.7" fill="none" opacity="0.75"/><path d="M354.54,140.03 h5.20 M357.14,136.93 v6.20" stroke="#5B9BD5" stroke-width="0.7" fill="none" opacity="0.75"/><path d="M360.15,132.20 h5.20 M362.75,129.10 v6.20" stroke="#5B9BD5" stroke-width="0.7" fill="none" opacity="0.75"/><path d="M365.76,125.13 h5.20 M368.36,122.03 v6.20" stroke="#5B9BD5" stroke-width="0.7" fill="none" opacity="0.75"/><path d="M371.38,120.77 h5.20 M373.98,117.67 v6.20" stroke="#5B9BD5" stroke-width="0.7" fill="none" opacity="0.75"/><path d="M376.99,117.36 h5.20 M379.59,114.26 v6.20" stroke="#5B9BD5" stroke-width="0.7" fill="none" opacity="0.75"/><path d="M382.61,114.67 h5.20 M385.21,111.57 v6.20" stroke="#5B9BD5" stroke-width="0.7" fill="none" opacity="0.75"/><path d="M388.22,118.17 h5.20 M390.82,115.07 v6.20" stroke="#5B9BD5" stroke-width="0.7" fill="none" opacity="0.75"/><path d="M393.83,117.40 h5.20 M396.43,114.30 v6.20" stroke="#5B9BD5" stroke-width="0.7" fill="none" opacity="0.75"/><path d="M399.45,120.04 h5.20 M402.05,116.94 v6.20" stroke="#5B9BD5" stroke-width="0.7" fill="none" opacity="0.75"/><path d="M405.06,120.47 h5.20 M407.66,117.37 v6.20" stroke="#5B9BD5" stroke-width="0.7" fill="none" opacity="0.75"/><path d="M410.68,121.52 h5.20 M413.28,118.42 v6.20" stroke="#5B9BD5" stroke-width="0.7" fill="none" opacity="0.75"/><path d="M416.29,122.39 h5.20 M418.89,119.29 v6.20" stroke="#5B9BD5" stroke-width="0.7" fill="none" opacity="0.75"/><path d="M421.90,124.41 h5.20 M424.50,121.31 v6.20" stroke="#5B9BD5" stroke-width="0.7" fill="none" opacity="0.75"/><path d="M427.52,127.23 h5.20 M430.12,124.13 v6.20" stroke="#5B9BD5" stroke-width="0.7" fill="none" opacity="0.75"/><path d="M433.13,128.19 h5.20 M435.73,125.09 v6.20" stroke="#5B9BD5" stroke-width="0.7" fill="none" opacity="0.75"/><path d="M438.74,127.51 h5.20 M441.34,124.41 v6.20" stroke="#5B9BD5" stroke-width="0.7" fill="none" opacity="0.75"/><path d="M444.36,129.15 h5.20 M446.96,126.05 v6.20" stroke="#5B9BD5" stroke-width="0.7" fill="none" opacity="0.75"/><path d="M449.97,131.12 h5.20 M452.57,128.02 v6.20" stroke="#5B9BD5" stroke-width="0.7" fill="none" opacity="0.75"/><path d="M455.59,133.66 h5.20 M458.19,130.56 v6.20" stroke="#5B9BD5" stroke-width="0.7" fill="none" opacity="0.75"/><path d="M461.20,135.25 h5.20 M463.80,132.15 v6.20" stroke="#5B9BD5" stroke-width="0.7" fill="none" opacity="0.75"/></g>
<path d="M59.60,147.96 C60.54,148.30 63.34,149.17 65.21,150.03 C67.09,150.89 68.96,152.15 70.83,153.11 C72.70,154.08 74.57,155.00 76.44,155.81 C78.31,156.62 80.18,157.11 82.06,157.99 C83.93,158.86 85.80,160.85 87.67,161.06 C89.54,161.28 91.41,159.37 93.28,159.30 C95.15,159.23 97.03,160.18 98.90,160.65 C100.77,161.11 102.64,161.67 104.51,162.09 C106.38,162.52 108.25,162.82 110.12,163.19 C112.00,163.56 113.87,164.17 115.74,164.33 C117.61,164.49 119.48,164.17 121.35,164.14 C123.22,164.11 125.10,165.13 126.97,164.14 C128.84,163.14 130.71,159.96 132.58,158.17 C134.45,156.38 136.32,155.20 138.19,153.40 C140.07,151.60 141.94,149.59 143.81,147.34 C145.68,145.08 147.55,142.27 149.42,139.87 C151.29,137.47 153.16,135.17 155.04,132.93 C156.91,130.69 158.78,128.18 160.65,126.43 C162.52,124.68 164.39,123.48 166.26,122.43 C168.14,121.39 170.01,120.55 171.88,120.17 C173.75,119.79 175.62,120.11 177.49,120.13 C179.36,120.15 181.23,119.97 183.11,120.28 C184.98,120.59 186.85,121.07 188.72,121.99 C190.59,122.92 192.46,124.64 194.33,125.84 C196.20,127.04 198.08,128.05 199.95,129.19 C201.82,130.34 203.69,131.65 205.56,132.72 C207.43,133.79 209.30,134.92 211.17,135.62 C213.05,136.32 214.92,136.54 216.79,136.93 C218.66,137.33 220.53,137.38 222.40,138.00 C224.27,138.62 226.15,139.76 228.02,140.66 C229.89,141.56 231.76,142.35 233.63,143.39 C235.50,144.42 237.37,146.40 239.24,146.88 C241.12,147.36 242.99,145.35 244.86,146.28 C246.73,147.21 248.60,151.11 250.47,152.45 C252.34,153.79 254.21,153.46 256.09,154.32 C257.96,155.17 259.83,156.38 261.70,157.58 C263.57,158.78 265.44,160.14 267.31,161.51 C269.19,162.88 271.06,164.61 272.93,165.78 C274.80,166.95 276.67,167.72 278.54,168.52 C280.41,169.31 282.28,170.01 284.16,170.54 C286.03,171.06 287.90,171.35 289.77,171.68 C291.64,172.01 293.51,172.25 295.38,172.52 C297.25,172.78 299.13,173.03 301.00,173.26 C302.87,173.49 304.74,173.24 306.61,173.91 C308.48,174.58 310.35,177.31 312.23,177.26 C314.10,177.21 315.97,174.53 317.84,173.61 C319.71,172.70 321.58,172.22 323.45,171.77 C325.32,171.31 327.20,171.27 329.07,170.88 C330.94,170.49 332.81,170.07 334.68,169.43 C336.55,168.79 338.42,168.23 340.29,167.05 C342.17,165.86 344.04,164.12 345.91,162.33 C347.78,160.54 349.65,158.60 351.52,156.30 C353.39,153.99 355.26,151.15 357.14,148.49 C359.01,145.82 360.88,142.83 362.75,140.29 C364.62,137.75 366.49,135.19 368.36,133.23 C370.24,131.26 372.11,129.71 373.98,128.49 C375.85,127.27 377.72,126.54 379.59,125.93 C381.46,125.31 383.33,124.25 385.21,124.80 C387.08,125.35 388.95,128.49 390.82,129.22 C392.69,129.96 394.56,129.18 396.43,129.22 C398.30,129.26 400.18,129.24 402.05,129.46 C403.92,129.68 405.79,130.05 407.66,130.57 C409.53,131.09 411.40,131.78 413.28,132.57 C415.15,133.35 417.02,134.82 418.89,135.28 C420.76,135.75 422.63,135.24 424.50,135.34 C426.37,135.44 428.25,135.72 430.12,135.86 C431.99,136.00 433.86,135.61 435.73,136.20 C437.60,136.79 439.47,138.28 441.34,139.41 C443.22,140.55 445.09,142.30 446.96,143.01 C448.83,143.72 450.70,143.26 452.57,143.66 C454.44,144.06 456.31,144.66 458.19,145.41 C460.06,146.16 462.86,147.71 463.80,148.17" stroke="#ED7D31" stroke-width="1.60" fill="none" stroke-linejoin="round"/>
<path d="M59.60,157.27 C60.54,157.75 63.34,159.28 65.21,160.13 C67.09,160.98 68.96,161.64 70.83,162.40 C72.70,163.15 74.57,163.91 76.44,164.67 C78.31,165.42 80.18,166.36 82.06,166.93 C83.93,167.51 85.80,167.56 87.67,168.12 C89.54,168.69 91.41,169.52 93.28,170.32 C95.15,171.11 97.03,171.94 98.90,172.89 C100.77,173.85 102.64,175.60 104.51,176.06 C106.38,176.52 108.25,175.80 110.12,175.65 C112.00,175.49 113.87,175.08 115.74,175.14 C117.61,175.19 119.48,176.36 121.35,175.98 C123.22,175.59 125.10,173.77 126.97,172.83 C128.84,171.89 130.71,171.31 132.58,170.35 C134.45,169.39 136.32,168.80 138.19,167.07 C140.07,165.35 141.94,162.14 143.81,160.00 C145.68,157.86 147.55,156.41 149.42,154.25 C151.29,152.09 153.16,149.76 155.04,147.05 C156.91,144.34 158.78,140.57 160.65,138.00 C162.52,135.43 164.39,133.04 166.26,131.65 C168.14,130.26 170.01,129.70 171.88,129.66 C173.75,129.61 175.62,130.84 177.49,131.38 C179.36,131.93 181.23,132.44 183.11,132.94 C184.98,133.43 186.85,133.67 188.72,134.34 C190.59,135.01 192.46,135.80 194.33,136.96 C196.20,138.12 198.08,140.03 199.95,141.30 C201.82,142.57 203.69,143.53 205.56,144.59 C207.43,145.64 209.30,146.99 211.17,147.61 C213.05,148.22 214.92,148.09 216.79,148.27 C218.66,148.45 220.53,148.22 222.40,148.69 C224.27,149.15 226.15,150.27 228.02,151.05 C229.89,151.83 231.76,152.78 233.63,153.36 C235.50,153.93 237.37,154.00 239.24,154.49 C241.12,154.98 242.99,155.61 244.86,156.30 C246.73,156.99 248.60,157.67 250.47,158.64 C252.34,159.61 254.21,160.78 256.09,162.13 C257.96,163.49 259.83,165.40 261.70,166.77 C263.57,168.13 265.44,169.60 267.31,170.33 C269.19,171.07 271.06,170.25 272.93,171.17 C274.80,172.08 276.67,174.79 278.54,175.84 C280.41,176.89 282.28,176.87 284.16,177.46 C286.03,178.05 287.90,178.73 289.77,179.40 C291.64,180.07 293.51,180.88 295.38,181.47 C297.25,182.07 299.13,182.58 301.00,182.96 C302.87,183.33 304.74,183.68 306.61,183.72 C308.48,183.76 310.35,183.21 312.23,183.21 C314.10,183.22 315.97,183.74 317.84,183.76 C319.71,183.79 321.58,183.71 323.45,183.35 C325.32,182.99 327.20,182.27 329.07,181.61 C330.94,180.94 332.81,180.30 334.68,179.35 C336.55,178.40 338.42,177.67 340.29,175.91 C342.17,174.14 344.04,170.82 345.91,168.79 C347.78,166.75 349.65,165.92 351.52,163.68 C353.39,161.43 355.26,158.24 357.14,155.30 C359.01,152.37 360.88,148.68 362.75,146.08 C364.62,143.47 366.49,141.01 368.36,139.66 C370.24,138.32 372.11,138.26 373.98,137.99 C375.85,137.73 377.72,138.24 379.59,138.08 C381.46,137.91 383.33,137.15 385.21,137.01 C387.08,136.88 388.95,136.97 390.82,137.25 C392.69,137.53 394.56,138.32 396.43,138.71 C398.30,139.09 400.18,139.23 402.05,139.56 C403.92,139.89 405.79,140.09 407.66,140.67 C409.53,141.25 411.40,142.31 413.28,143.04 C415.15,143.78 417.02,144.67 418.89,145.06 C420.76,145.45 422.63,144.90 424.50,145.38 C426.37,145.87 428.25,147.56 430.12,147.98 C431.99,148.40 433.86,147.95 435.73,147.90 C437.60,147.84 439.47,147.52 441.34,147.64 C443.22,147.76 445.09,148.26 446.96,148.61 C448.83,148.96 450.70,149.23 452.57,149.73 C454.44,150.22 456.31,151.01 458.19,151.58 C460.06,152.14 462.86,152.87 463.80,153.13" stroke="#A5A5A5" stroke-width="1.60" fill="none" stroke-linejoin="round"/>
<path d="M59.60,171.37 C60.54,172.19 63.34,175.38 65.21,176.32 C67.09,177.27 68.96,176.46 70.83,177.04 C72.70,177.61 74.57,178.62 76.44,179.78 C78.31,180.94 80.18,182.83 82.06,184.00 C83.93,185.17 85.80,186.00 87.67,186.81 C89.54,187.62 91.41,187.92 93.28,188.86 C95.15,189.80 97.03,191.73 98.90,192.47 C100.77,193.21 102.64,193.11 104.51,193.29 C106.38,193.46 108.25,193.12 110.12,193.52 C112.00,193.93 113.87,195.78 115.74,195.73 C117.61,195.67 119.48,193.85 121.35,193.20 C123.22,192.54 125.10,192.21 126.97,191.81 C128.84,191.40 130.71,191.80 132.58,190.76 C134.45,189.71 136.32,187.67 138.19,185.54 C140.07,183.40 141.94,180.21 143.81,177.93 C145.68,175.66 147.55,174.33 149.42,171.86 C151.29,169.39 153.16,166.10 155.04,163.12 C156.91,160.14 158.78,156.51 160.65,153.95 C162.52,151.40 164.39,148.99 166.26,147.78 C168.14,146.57 170.01,146.21 171.88,146.67 C173.75,147.13 175.62,149.51 177.49,150.54 C179.36,151.58 181.23,151.81 183.11,152.90 C184.98,154.00 186.85,155.82 188.72,157.12 C190.59,158.42 192.46,160.22 194.33,160.71 C196.20,161.20 198.08,159.64 199.95,160.06 C201.82,160.49 203.69,162.62 205.56,163.25 C207.43,163.88 209.30,163.52 211.17,163.85 C213.05,164.18 214.92,164.91 216.79,165.24 C218.66,165.58 220.53,165.77 222.40,165.87 C224.27,165.98 226.15,165.50 228.02,165.88 C229.89,166.26 231.76,167.82 233.63,168.17 C235.50,168.52 237.37,167.67 239.24,167.98 C241.12,168.29 242.99,169.30 244.86,170.02 C246.73,170.74 248.60,170.87 250.47,172.30 C252.34,173.74 254.21,177.17 256.09,178.61 C257.96,180.04 259.83,180.23 261.70,180.91 C263.57,181.59 265.44,181.87 267.31,182.67 C269.19,183.48 271.06,184.73 272.93,185.75 C274.80,186.76 276.67,187.80 278.54,188.74 C280.41,189.67 282.28,190.39 284.16,191.36 C286.03,192.33 287.90,193.74 289.77,194.56 C291.64,195.38 293.51,195.73 295.38,196.28 C297.25,196.84 299.13,197.28 301.00,197.90 C302.87,198.53 304.74,199.23 306.61,200.03 C308.48,200.84 310.35,202.67 312.23,202.71 C314.10,202.76 315.97,200.75 317.84,200.28 C319.71,199.82 321.58,200.08 323.45,199.92 C325.32,199.76 327.20,199.79 329.07,199.32 C330.94,198.86 332.81,198.14 334.68,197.14 C336.55,196.14 338.42,194.75 340.29,193.33 C342.17,191.91 344.04,190.45 345.91,188.63 C347.78,186.80 349.65,184.94 351.52,182.38 C353.39,179.83 355.26,176.59 357.14,173.28 C359.01,169.98 360.88,165.24 362.75,162.55 C364.62,159.86 366.49,158.72 368.36,157.15 C370.24,155.57 372.11,153.90 373.98,153.11 C375.85,152.31 377.72,152.17 379.59,152.38 C381.46,152.58 383.33,153.57 385.21,154.33 C387.08,155.09 388.95,156.35 390.82,156.93 C392.69,157.51 394.56,156.87 396.43,157.78 C398.30,158.69 400.18,162.13 402.05,162.38 C403.92,162.63 405.79,159.23 407.66,159.27 C409.53,159.32 411.40,162.25 413.28,162.66 C415.15,163.07 417.02,162.20 418.89,161.73 C420.76,161.26 422.63,160.00 424.50,159.83 C426.37,159.66 428.25,160.28 430.12,160.71 C431.99,161.15 433.86,162.00 435.73,162.43 C437.60,162.86 439.47,163.13 441.34,163.28 C443.22,163.42 445.09,162.69 446.96,163.28 C448.83,163.86 450.70,166.00 452.57,166.77 C454.44,167.55 456.31,167.67 458.19,167.90 C460.06,168.14 462.86,168.14 463.80,168.18" stroke="#FFC000" stroke-width="1.60" fill="none" stroke-linejoin="round"/>
<g><path d="M59.60,168.47 l2.60,2.90 l-2.60,2.90 l-2.60,-2.90 z" fill="#FFC000"/><path d="M65.21,173.42 l2.60,2.90 l-2.60,2.90 l-2.60,-2.90 z" fill="#FFC000"/><path d="M70.83,174.14 l2.60,2.90 l-2.60,2.90 l-2.60,-2.90 z" fill="#FFC000"/><path d="M76.44,176.88 l2.60,2.90 l-2.60,2.90 l-2.60,-2.90 z" fill="#FFC000"/><path d="M82.06,181.10 l2.60,2.90 l-2.60,2.90 l-2.60,-2.90 z" fill="#FFC000"/><path d="M87.67,183.91 l2.60,2.90 l-2.60,2.90 l-2.60,-2.90 z" fill="#FFC000"/><path d="M93.28,185.96 l2.60,2.90 l-2.60,2.90 l-2.60,-2.90 z" fill="#FFC000"/><path d="M98.90,189.57 l2.60,2.90 l-2.60,2.90 l-2.60,-2.90 z" fill="#FFC000"/><path d="M104.51,190.39 l2.60,2.90 l-2.60,2.90 l-2.60,-2.90 z" fill="#FFC000"/><path d="M110.12,190.62 l2.60,2.90 l-2.60,2.90 l-2.60,-2.90 z" fill="#FFC000"/><path d="M115.74,192.83 l2.60,2.90 l-2.60,2.90 l-2.60,-2.90 z" fill="#FFC000"/><path d="M121.35,190.30 l2.60,2.90 l-2.60,2.90 l-2.60,-2.90 z" fill="#FFC000"/><path d="M126.97,188.91 l2.60,2.90 l-2.60,2.90 l-2.60,-2.90 z" fill="#FFC000"/><path d="M132.58,187.86 l2.60,2.90 l-2.60,2.90 l-2.60,-2.90 z" fill="#FFC000"/><path d="M138.19,182.64 l2.60,2.90 l-2.60,2.90 l-2.60,-2.90 z" fill="#FFC000"/><path d="M143.81,175.03 l2.60,2.90 l-2.60,2.90 l-2.60,-2.90 z" fill="#FFC000"/><path d="M149.42,168.96 l2.60,2.90 l-2.60,2.90 l-2.60,-2.90 z" fill="#FFC000"/><path d="M155.04,160.22 l2.60,2.90 l-2.60,2.90 l-2.60,-2.90 z" fill="#FFC000"/><path d="M160.65,151.05 l2.60,2.90 l-2.60,2.90 l-2.60,-2.90 z" fill="#FFC000"/><path d="M166.26,144.88 l2.60,2.90 l-2.60,2.90 l-2.60,-2.90 z" fill="#FFC000"/><path d="M171.88,143.77 l2.60,2.90 l-2.60,2.90 l-2.60,-2.90 z" fill="#FFC000"/><path d="M177.49,147.64 l2.60,2.90 l-2.60,2.90 l-2.60,-2.90 z" fill="#FFC000"/><path d="M183.11,150.00 l2.60,2.90 l-2.60,2.90 l-2.60,-2.90 z" fill="#FFC000"/><path d="M188.72,154.22 l2.60,2.90 l-2.60,2.90 l-2.60,-2.90 z" fill="#FFC000"/><path d="M194.33,157.81 l2.60,2.90 l-2.60,2.90 l-2.60,-2.90 z" fill="#FFC000"/><path d="M199.95,157.16 l2.60,2.90 l-2.60,2.90 l-2.60,-2.90 z" fill="#FFC000"/><path d="M205.56,160.35 l2.60,2.90 l-2.60,2.90 l-2.60,-2.90 z" fill="#FFC000"/><path d="M211.17,160.95 l2.60,2.90 l-2.60,2.90 l-2.60,-2.90 z" fill="#FFC000"/><path d="M216.79,162.34 l2.60,2.90 l-2.60,2.90 l-2.60,-2.90 z" fill="#FFC000"/><path d="M222.40,162.97 l2.60,2.90 l-2.60,2.90 l-2.60,-2.90 z" fill="#FFC000"/><path d="M228.02,162.98 l2.60,2.90 l-2.60,2.90 l-2.60,-2.90 z" fill="#FFC000"/><path d="M233.63,165.27 l2.60,2.90 l-2.60,2.90 l-2.60,-2.90 z" fill="#FFC000"/><path d="M239.24,165.08 l2.60,2.90 l-2.60,2.90 l-2.60,-2.90 z" fill="#FFC000"/><path d="M244.86,167.12 l2.60,2.90 l-2.60,2.90 l-2.60,-2.90 z" fill="#FFC000"/><path d="M250.47,169.40 l2.60,2.90 l-2.60,2.90 l-2.60,-2.90 z" fill="#FFC000"/><path d="M256.09,175.71 l2.60,2.90 l-2.60,2.90 l-2.60,-2.90 z" fill="#FFC000"/><path d="M261.70,178.01 l2.60,2.90 l-2.60,2.90 l-2.60,-2.90 z" fill="#FFC000"/><path d="M267.31,179.77 l2.60,2.90 l-2.60,2.90 l-2.60,-2.90 z" fill="#FFC000"/><path d="M272.93,182.85 l2.60,2.90 l-2.60,2.90 l-2.60,-2.90 z" fill="#FFC000"/><path d="M278.54,185.84 l2.60,2.90 l-2.60,2.90 l-2.60,-2.90 z" fill="#FFC000"/><path d="M284.16,188.46 l2.60,2.90 l-2.60,2.90 l-2.60,-2.90 z" fill="#FFC000"/><path d="M289.77,191.66 l2.60,2.90 l-2.60,2.90 l-2.60,-2.90 z" fill="#FFC000"/><path d="M295.38,193.38 l2.60,2.90 l-2.60,2.90 l-2.60,-2.90 z" fill="#FFC000"/><path d="M301.00,195.00 l2.60,2.90 l-2.60,2.90 l-2.60,-2.90 z" fill="#FFC000"/><path d="M306.61,197.13 l2.60,2.90 l-2.60,2.90 l-2.60,-2.90 z" fill="#FFC000"/><path d="M312.23,199.81 l2.60,2.90 l-2.60,2.90 l-2.60,-2.90 z" fill="#FFC000"/><path d="M317.84,197.38 l2.60,2.90 l-2.60,2.90 l-2.60,-2.90 z" fill="#FFC000"/><path d="M323.45,197.02 l2.60,2.90 l-2.60,2.90 l-2.60,-2.90 z" fill="#FFC000"/><path d="M329.07,196.42 l2.60,2.90 l-2.60,2.90 l-2.60,-2.90 z" fill="#FFC000"/><path d="M334.68,194.24 l2.60,2.90 l-2.60,2.90 l-2.60,-2.90 z" fill="#FFC000"/><path d="M340.29,190.43 l2.60,2.90 l-2.60,2.90 l-2.60,-2.90 z" fill="#FFC000"/><path d="M345.91,185.73 l2.60,2.90 l-2.60,2.90 l-2.60,-2.90 z" fill="#FFC000"/><path d="M351.52,179.48 l2.60,2.90 l-2.60,2.90 l-2.60,-2.90 z" fill="#FFC000"/><path d="M357.14,170.38 l2.60,2.90 l-2.60,2.90 l-2.60,-2.90 z" fill="#FFC000"/><path d="M362.75,159.65 l2.60,2.90 l-2.60,2.90 l-2.60,-2.90 z" fill="#FFC000"/><path d="M368.36,154.25 l2.60,2.90 l-2.60,2.90 l-2.60,-2.90 z" fill="#FFC000"/><path d="M373.98,150.21 l2.60,2.90 l-2.60,2.90 l-2.60,-2.90 z" fill="#FFC000"/><path d="M379.59,149.48 l2.60,2.90 l-2.60,2.90 l-2.60,-2.90 z" fill="#FFC000"/><path d="M385.21,151.43 l2.60,2.90 l-2.60,2.90 l-2.60,-2.90 z" fill="#FFC000"/><path d="M390.82,154.03 l2.60,2.90 l-2.60,2.90 l-2.60,-2.90 z" fill="#FFC000"/><path d="M396.43,154.88 l2.60,2.90 l-2.60,2.90 l-2.60,-2.90 z" fill="#FFC000"/><path d="M402.05,159.48 l2.60,2.90 l-2.60,2.90 l-2.60,-2.90 z" fill="#FFC000"/><path d="M407.66,156.37 l2.60,2.90 l-2.60,2.90 l-2.60,-2.90 z" fill="#FFC000"/><path d="M413.28,159.76 l2.60,2.90 l-2.60,2.90 l-2.60,-2.90 z" fill="#FFC000"/><path d="M418.89,158.83 l2.60,2.90 l-2.60,2.90 l-2.60,-2.90 z" fill="#FFC000"/><path d="M424.50,156.93 l2.60,2.90 l-2.60,2.90 l-2.60,-2.90 z" fill="#FFC000"/><path d="M430.12,157.81 l2.60,2.90 l-2.60,2.90 l-2.60,-2.90 z" fill="#FFC000"/><path d="M435.73,159.53 l2.60,2.90 l-2.60,2.90 l-2.60,-2.90 z" fill="#FFC000"/><path d="M441.34,160.38 l2.60,2.90 l-2.60,2.90 l-2.60,-2.90 z" fill="#FFC000"/><path d="M446.96,160.38 l2.60,2.90 l-2.60,2.90 l-2.60,-2.90 z" fill="#FFC000"/><path d="M452.57,163.87 l2.60,2.90 l-2.60,2.90 l-2.60,-2.90 z" fill="#FFC000"/><path d="M458.19,165.00 l2.60,2.90 l-2.60,2.90 l-2.60,-2.90 z" fill="#FFC000"/><path d="M463.80,165.28 l2.60,2.90 l-2.60,2.90 l-2.60,-2.90 z" fill="#FFC000"/></g>
<path d="M59.60,184.07 C60.54,184.52 63.34,186.10 65.21,186.77 C67.09,187.45 68.96,187.18 70.83,188.11 C72.70,189.05 74.57,190.60 76.44,192.39 C78.31,194.18 80.18,197.58 82.06,198.84 C83.93,200.11 85.80,199.12 87.67,199.99 C89.54,200.85 91.41,203.13 93.28,204.04 C95.15,204.95 97.03,205.05 98.90,205.46 C100.77,205.86 102.64,205.96 104.51,206.48 C106.38,207.01 108.25,208.21 110.12,208.61 C112.00,209.00 113.87,208.86 115.74,208.85 C117.61,208.84 119.48,208.72 121.35,208.55 C123.22,208.37 125.10,208.46 126.97,207.79 C128.84,207.12 130.71,205.63 132.58,204.50 C134.45,203.38 136.32,202.62 138.19,201.03 C140.07,199.44 141.94,197.20 143.81,194.94 C145.68,192.67 147.55,190.17 149.42,187.44 C151.29,184.71 153.16,181.85 155.04,178.56 C156.91,175.26 158.78,170.44 160.65,167.68 C162.52,164.91 164.39,162.69 166.26,161.97 C168.14,161.24 170.01,162.55 171.88,163.32 C173.75,164.09 175.62,165.43 177.49,166.60 C179.36,167.76 181.23,169.03 183.11,170.30 C184.98,171.57 186.85,173.54 188.72,174.24 C190.59,174.95 192.46,174.23 194.33,174.53 C196.20,174.83 198.08,175.58 199.95,176.06 C201.82,176.54 203.69,177.28 205.56,177.41 C207.43,177.54 209.30,176.70 211.17,176.84 C213.05,176.98 214.92,178.13 216.79,178.23 C218.66,178.33 220.53,177.55 222.40,177.42 C224.27,177.28 226.15,176.90 228.02,177.43 C229.89,177.95 231.76,180.10 233.63,180.58 C235.50,181.06 237.37,180.33 239.24,180.30 C241.12,180.27 242.99,180.05 244.86,180.39 C246.73,180.74 248.60,181.38 250.47,182.37 C252.34,183.37 254.21,185.51 256.09,186.38 C257.96,187.25 259.83,186.86 261.70,187.57 C263.57,188.29 265.44,189.15 267.31,190.67 C269.19,192.19 271.06,195.40 272.93,196.67 C274.80,197.95 276.67,197.35 278.54,198.30 C280.41,199.24 282.28,201.00 284.16,202.35 C286.03,203.70 287.90,205.40 289.77,206.39 C291.64,207.38 293.51,207.29 295.38,208.28 C297.25,209.27 299.13,211.37 301.00,212.33 C302.87,213.30 304.74,213.77 306.61,214.07 C308.48,214.36 310.35,213.99 312.23,214.09 C314.10,214.18 315.97,214.87 317.84,214.63 C319.71,214.39 321.58,212.69 323.45,212.64 C325.32,212.59 327.20,214.72 329.07,214.30 C330.94,213.89 332.81,211.34 334.68,210.17 C336.55,208.99 338.42,208.63 340.29,207.25 C342.17,205.87 344.04,203.86 345.91,201.88 C347.78,199.91 349.65,197.96 351.52,195.37 C353.39,192.78 355.26,189.51 357.14,186.33 C359.01,183.16 360.88,179.29 362.75,176.32 C364.62,173.36 366.49,170.23 368.36,168.55 C370.24,166.86 372.11,166.49 373.98,166.20 C375.85,165.91 377.72,166.46 379.59,166.79 C381.46,167.12 383.33,167.42 385.21,168.18 C387.08,168.95 388.95,170.64 390.82,171.36 C392.69,172.08 394.56,172.16 396.43,172.50 C398.30,172.84 400.18,172.82 402.05,173.40 C403.92,173.97 405.79,175.80 407.66,175.95 C409.53,176.11 411.40,174.32 413.28,174.33 C415.15,174.33 417.02,175.70 418.89,175.97 C420.76,176.25 422.63,176.06 424.50,175.96 C426.37,175.86 428.25,175.65 430.12,175.37 C431.99,175.09 433.86,174.19 435.73,174.28 C437.60,174.38 439.47,175.75 441.34,175.94 C443.22,176.13 445.09,175.33 446.96,175.40 C448.83,175.47 450.70,175.78 452.57,176.33 C454.44,176.88 456.31,177.70 458.19,178.70 C460.06,179.69 462.86,181.72 463.80,182.32" stroke="#4472C4" stroke-width="1.60" fill="none" stroke-linejoin="round"/>
<g><rect x="57.20" y="181.67" width="4.80" height="4.80" fill="#4472C4"/><rect x="62.81" y="184.37" width="4.80" height="4.80" fill="#4472C4"/><rect x="68.43" y="185.71" width="4.80" height="4.80" fill="#4472C4"/><rect x="74.04" y="189.99" width="4.80" height="4.80" fill="#4472C4"/><rect x="79.66" y="196.44" width="4.80" height="4.80" fill="#4472C4"/><rect x="85.27" y="197.59" width="4.80" height="4.80" fill="#4472C4"/><rect x="90.88" y="201.64" width="4.80" height="4.80" fill="#4472C4"/><rect x="96.50" y="203.06" width="4.80" height="4.80" fill="#4472C4"/><rect x="102.11" y="204.08" width="4.80" height="4.80" fill="#4472C4"/><rect x="107.73" y="206.21" width="4.80" height="4.80" fill="#4472C4"/><rect x="113.34" y="206.45" width="4.80" height="4.80" fill="#4472C4"/><rect x="118.95" y="206.15" width="4.80" height="4.80" fill="#4472C4"/><rect x="124.57" y="205.39" width="4.80" height="4.80" fill="#4472C4"/><rect x="130.18" y="202.10" width="4.80" height="4.80" fill="#4472C4"/><rect x="135.79" y="198.63" width="4.80" height="4.80" fill="#4472C4"/><rect x="141.41" y="192.54" width="4.80" height="4.80" fill="#4472C4"/><rect x="147.02" y="185.04" width="4.80" height="4.80" fill="#4472C4"/><rect x="152.64" y="176.16" width="4.80" height="4.80" fill="#4472C4"/><rect x="158.25" y="165.28" width="4.80" height="4.80" fill="#4472C4"/><rect x="163.86" y="159.57" width="4.80" height="4.80" fill="#4472C4"/><rect x="169.48" y="160.92" width="4.80" height="4.80" fill="#4472C4"/><rect x="175.09" y="164.20" width="4.80" height="4.80" fill="#4472C4"/><rect x="180.71" y="167.90" width="4.80" height="4.80" fill="#4472C4"/><rect x="186.32" y="171.84" width="4.80" height="4.80" fill="#4472C4"/><rect x="191.93" y="172.13" width="4.80" height="4.80" fill="#4472C4"/><rect x="197.55" y="173.66" width="4.80" height="4.80" fill="#4472C4"/><rect x="203.16" y="175.01" width="4.80" height="4.80" fill="#4472C4"/><rect x="208.77" y="174.44" width="4.80" height="4.80" fill="#4472C4"/><rect x="214.39" y="175.83" width="4.80" height="4.80" fill="#4472C4"/><rect x="220.00" y="175.02" width="4.80" height="4.80" fill="#4472C4"/><rect x="225.62" y="175.03" width="4.80" height="4.80" fill="#4472C4"/><rect x="231.23" y="178.18" width="4.80" height="4.80" fill="#4472C4"/><rect x="236.84" y="177.90" width="4.80" height="4.80" fill="#4472C4"/><rect x="242.46" y="177.99" width="4.80" height="4.80" fill="#4472C4"/><rect x="248.07" y="179.97" width="4.80" height="4.80" fill="#4472C4"/><rect x="253.69" y="183.98" width="4.80" height="4.80" fill="#4472C4"/><rect x="259.30" y="185.17" width="4.80" height="4.80" fill="#4472C4"/><rect x="264.91" y="188.27" width="4.80" height="4.80" fill="#4472C4"/><rect x="270.53" y="194.27" width="4.80" height="4.80" fill="#4472C4"/><rect x="276.14" y="195.90" width="4.80" height="4.80" fill="#4472C4"/><rect x="281.76" y="199.95" width="4.80" height="4.80" fill="#4472C4"/><rect x="287.37" y="203.99" width="4.80" height="4.80" fill="#4472C4"/><rect x="292.98" y="205.88" width="4.80" height="4.80" fill="#4472C4"/><rect x="298.60" y="209.93" width="4.80" height="4.80" fill="#4472C4"/><rect x="304.21" y="211.67" width="4.80" height="4.80" fill="#4472C4"/><rect x="309.82" y="211.69" width="4.80" height="4.80" fill="#4472C4"/><rect x="315.44" y="212.23" width="4.80" height="4.80" fill="#4472C4"/><rect x="321.05" y="210.24" width="4.80" height="4.80" fill="#4472C4"/><rect x="326.67" y="211.90" width="4.80" height="4.80" fill="#4472C4"/><rect x="332.28" y="207.77" width="4.80" height="4.80" fill="#4472C4"/><rect x="337.89" y="204.85" width="4.80" height="4.80" fill="#4472C4"/><rect x="343.51" y="199.48" width="4.80" height="4.80" fill="#4472C4"/><rect x="349.12" y="192.97" width="4.80" height="4.80" fill="#4472C4"/><rect x="354.74" y="183.93" width="4.80" height="4.80" fill="#4472C4"/><rect x="360.35" y="173.92" width="4.80" height="4.80" fill="#4472C4"/><rect x="365.96" y="166.15" width="4.80" height="4.80" fill="#4472C4"/><rect x="371.58" y="163.80" width="4.80" height="4.80" fill="#4472C4"/><rect x="377.19" y="164.39" width="4.80" height="4.80" fill="#4472C4"/><rect x="382.81" y="165.78" width="4.80" height="4.80" fill="#4472C4"/><rect x="388.42" y="168.96" width="4.80" height="4.80" fill="#4472C4"/><rect x="394.03" y="170.10" width="4.80" height="4.80" fill="#4472C4"/><rect x="399.65" y="171.00" width="4.80" height="4.80" fill="#4472C4"/><rect x="405.26" y="173.55" width="4.80" height="4.80" fill="#4472C4"/><rect x="410.88" y="171.93" width="4.80" height="4.80" fill="#4472C4"/><rect x="416.49" y="173.57" width="4.80" height="4.80" fill="#4472C4"/><rect x="422.10" y="173.56" width="4.80" height="4.80" fill="#4472C4"/><rect x="427.72" y="172.97" width="4.80" height="4.80" fill="#4472C4"/><rect x="433.33" y="171.88" width="4.80" height="4.80" fill="#4472C4"/><rect x="438.94" y="173.54" width="4.80" height="4.80" fill="#4472C4"/><rect x="444.56" y="173.00" width="4.80" height="4.80" fill="#4472C4"/><rect x="450.17" y="173.93" width="4.80" height="4.80" fill="#4472C4"/><rect x="455.79" y="176.30" width="4.80" height="4.80" fill="#4472C4"/><rect x="461.40" y="179.92" width="4.80" height="4.80" fill="#4472C4"/></g>
<path d="M59.60,191.48 C60.54,191.89 63.34,192.57 65.21,193.93 C67.09,195.29 68.96,198.02 70.83,199.66 C72.70,201.29 74.57,202.36 76.44,203.73 C78.31,205.10 80.18,206.83 82.06,207.86 C83.93,208.89 85.80,208.70 87.67,209.89 C89.54,211.09 91.41,213.88 93.28,215.02 C95.15,216.16 97.03,216.23 98.90,216.73 C100.77,217.22 102.64,217.47 104.51,217.98 C106.38,218.48 108.25,219.13 110.12,219.73 C112.00,220.34 113.87,221.20 115.74,221.60 C117.61,222.01 119.48,222.07 121.35,222.15 C123.22,222.22 125.10,222.38 126.97,222.05 C128.84,221.72 130.71,221.34 132.58,220.16 C134.45,218.99 136.32,216.72 138.19,215.02 C140.07,213.32 141.94,212.25 143.81,209.95 C145.68,207.66 147.55,204.27 149.42,201.25 C151.29,198.23 153.16,195.28 155.04,191.82 C156.91,188.36 158.78,183.75 160.65,180.50 C162.52,177.26 164.39,173.13 166.26,172.35 C168.14,171.56 170.01,174.84 171.88,175.80 C173.75,176.75 175.62,176.87 177.49,178.07 C179.36,179.27 181.23,181.37 183.11,182.99 C184.98,184.62 186.85,186.84 188.72,187.83 C190.59,188.82 192.46,188.33 194.33,188.95 C196.20,189.56 198.08,191.14 199.95,191.53 C201.82,191.92 203.69,191.12 205.56,191.27 C207.43,191.42 209.30,192.41 211.17,192.42 C213.05,192.42 214.92,191.84 216.79,191.31 C218.66,190.78 220.53,189.83 222.40,189.25 C224.27,188.66 226.15,187.72 228.02,187.81 C229.89,187.91 231.76,189.47 233.63,189.83 C235.50,190.18 237.37,189.57 239.24,189.91 C241.12,190.26 242.99,191.34 244.86,191.91 C246.73,192.47 248.60,192.87 250.47,193.30 C252.34,193.74 254.21,193.59 256.09,194.51 C257.96,195.43 259.83,197.49 261.70,198.84 C263.57,200.19 265.44,201.36 267.31,202.60 C269.19,203.83 271.06,205.12 272.93,206.23 C274.80,207.33 276.67,208.30 278.54,209.23 C280.41,210.16 282.28,211.07 284.16,211.81 C286.03,212.54 287.90,212.97 289.77,213.62 C291.64,214.28 293.51,214.81 295.38,215.75 C297.25,216.69 299.13,218.22 301.00,219.26 C302.87,220.30 304.74,220.97 306.61,221.99 C308.48,223.01 310.35,224.55 312.23,225.39 C314.10,226.22 315.97,226.78 317.84,227.01 C319.71,227.23 321.58,227.03 323.45,226.75 C325.32,226.47 327.20,225.77 329.07,225.31 C330.94,224.84 332.81,224.86 334.68,223.96 C336.55,223.07 338.42,221.24 340.29,219.93 C342.17,218.61 344.04,217.64 345.91,216.08 C347.78,214.51 349.65,213.01 351.52,210.53 C353.39,208.05 355.26,204.78 357.14,201.20 C359.01,197.63 360.88,192.55 362.75,189.11 C364.62,185.66 366.49,182.57 368.36,180.54 C370.24,178.52 372.11,177.35 373.98,176.93 C375.85,176.52 377.72,177.55 379.59,178.06 C381.46,178.57 383.33,178.44 385.21,180.02 C387.08,181.60 388.95,186.27 390.82,187.52 C392.69,188.77 394.56,187.37 396.43,187.52 C398.30,187.66 400.18,188.33 402.05,188.38 C403.92,188.43 405.79,187.82 407.66,187.81 C409.53,187.80 411.40,188.49 413.28,188.30 C415.15,188.10 417.02,186.96 418.89,186.64 C420.76,186.32 422.63,186.29 424.50,186.38 C426.37,186.46 428.25,187.58 430.12,187.16 C431.99,186.73 433.86,183.94 435.73,183.83 C437.60,183.73 439.47,186.40 441.34,186.53 C443.22,186.67 445.09,184.62 446.96,184.64 C448.83,184.67 450.70,186.07 452.57,186.70 C454.44,187.34 456.31,187.72 458.19,188.48 C460.06,189.24 462.86,190.80 463.80,191.27" stroke="#70AD47" stroke-width="1.60" fill="none" stroke-linejoin="round"/>
<g><path d="M59.60,188.18 L62.70,193.68 L56.50,193.68 z" fill="#70AD47"/><path d="M65.21,190.63 L68.31,196.13 L62.11,196.13 z" fill="#70AD47"/><path d="M70.83,196.36 L73.93,201.86 L67.73,201.86 z" fill="#70AD47"/><path d="M76.44,200.43 L79.54,205.93 L73.34,205.93 z" fill="#70AD47"/><path d="M82.06,204.56 L85.16,210.06 L78.96,210.06 z" fill="#70AD47"/><path d="M87.67,206.59 L90.77,212.09 L84.57,212.09 z" fill="#70AD47"/><path d="M93.28,211.72 L96.38,217.22 L90.18,217.22 z" fill="#70AD47"/><path d="M98.90,213.43 L102.00,218.93 L95.80,218.93 z" fill="#70AD47"/><path d="M104.51,214.68 L107.61,220.18 L101.41,220.18 z" fill="#70AD47"/><path d="M110.12,216.43 L113.22,221.93 L107.03,221.93 z" fill="#70AD47"/><path d="M115.74,218.30 L118.84,223.80 L112.64,223.80 z" fill="#70AD47"/><path d="M121.35,218.85 L124.45,224.35 L118.25,224.35 z" fill="#70AD47"/><path d="M126.97,218.75 L130.07,224.25 L123.87,224.25 z" fill="#70AD47"/><path d="M132.58,216.86 L135.68,222.36 L129.48,222.36 z" fill="#70AD47"/><path d="M138.19,211.72 L141.29,217.22 L135.09,217.22 z" fill="#70AD47"/><path d="M143.81,206.65 L146.91,212.15 L140.71,212.15 z" fill="#70AD47"/><path d="M149.42,197.95 L152.52,203.45 L146.32,203.45 z" fill="#70AD47"/><path d="M155.04,188.52 L158.14,194.02 L151.94,194.02 z" fill="#70AD47"/><path d="M160.65,177.20 L163.75,182.70 L157.55,182.70 z" fill="#70AD47"/><path d="M166.26,169.05 L169.36,174.55 L163.16,174.55 z" fill="#70AD47"/><path d="M171.88,172.50 L174.98,178.00 L168.78,178.00 z" fill="#70AD47"/><path d="M177.49,174.77 L180.59,180.27 L174.39,180.27 z" fill="#70AD47"/><path d="M183.11,179.69 L186.21,185.19 L180.01,185.19 z" fill="#70AD47"/><path d="M188.72,184.53 L191.82,190.03 L185.62,190.03 z" fill="#70AD47"/><path d="M194.33,185.65 L197.43,191.15 L191.23,191.15 z" fill="#70AD47"/><path d="M199.95,188.23 L203.05,193.73 L196.85,193.73 z" fill="#70AD47"/><path d="M205.56,187.97 L208.66,193.47 L202.46,193.47 z" fill="#70AD47"/><path d="M211.17,189.12 L214.27,194.62 L208.07,194.62 z" fill="#70AD47"/><path d="M216.79,188.01 L219.89,193.51 L213.69,193.51 z" fill="#70AD47"/><path d="M222.40,185.95 L225.50,191.45 L219.30,191.45 z" fill="#70AD47"/><path d="M228.02,184.51 L231.12,190.01 L224.92,190.01 z" fill="#70AD47"/><path d="M233.63,186.53 L236.73,192.03 L230.53,192.03 z" fill="#70AD47"/><path d="M239.24,186.61 L242.34,192.11 L236.14,192.11 z" fill="#70AD47"/><path d="M244.86,188.61 L247.96,194.11 L241.76,194.11 z" fill="#70AD47"/><path d="M250.47,190.00 L253.57,195.50 L247.37,195.50 z" fill="#70AD47"/><path d="M256.09,191.21 L259.19,196.71 L252.99,196.71 z" fill="#70AD47"/><path d="M261.70,195.54 L264.80,201.04 L258.60,201.04 z" fill="#70AD47"/><path d="M267.31,199.30 L270.41,204.80 L264.21,204.80 z" fill="#70AD47"/><path d="M272.93,202.93 L276.03,208.43 L269.83,208.43 z" fill="#70AD47"/><path d="M278.54,205.93 L281.64,211.43 L275.44,211.43 z" fill="#70AD47"/><path d="M284.16,208.51 L287.26,214.01 L281.06,214.01 z" fill="#70AD47"/><path d="M289.77,210.32 L292.87,215.82 L286.67,215.82 z" fill="#70AD47"/><path d="M295.38,212.45 L298.48,217.95 L292.28,217.95 z" fill="#70AD47"/><path d="M301.00,215.96 L304.10,221.46 L297.90,221.46 z" fill="#70AD47"/><path d="M306.61,218.69 L309.71,224.19 L303.51,224.19 z" fill="#70AD47"/><path d="M312.23,222.09 L315.33,227.59 L309.12,227.59 z" fill="#70AD47"/><path d="M317.84,223.71 L320.94,229.21 L314.74,229.21 z" fill="#70AD47"/><path d="M323.45,223.45 L326.55,228.95 L320.35,228.95 z" fill="#70AD47"/><path d="M329.07,222.01 L332.17,227.51 L325.97,227.51 z" fill="#70AD47"/><path d="M334.68,220.66 L337.78,226.16 L331.58,226.16 z" fill="#70AD47"/><path d="M340.29,216.63 L343.39,222.13 L337.19,222.13 z" fill="#70AD47"/><path d="M345.91,212.78 L349.01,218.28 L342.81,218.28 z" fill="#70AD47"/><path d="M351.52,207.23 L354.62,212.73 L348.42,212.73 z" fill="#70AD47"/><path d="M357.14,197.90 L360.24,203.40 L354.04,203.40 z" fill="#70AD47"/><path d="M362.75,185.81 L365.85,191.31 L359.65,191.31 z" fill="#70AD47"/><path d="M368.36,177.24 L371.46,182.74 L365.26,182.74 z" fill="#70AD47"/><path d="M373.98,173.63 L377.08,179.13 L370.88,179.13 z" fill="#70AD47"/><path d="M379.59,174.76 L382.69,180.26 L376.49,180.26 z" fill="#70AD47"/><path d="M385.21,176.72 L388.31,182.22 L382.11,182.22 z" fill="#70AD47"/><path d="M390.82,184.22 L393.92,189.72 L387.72,189.72 z" fill="#70AD47"/><path d="M396.43,184.22 L399.53,189.72 L393.33,189.72 z" fill="#70AD47"/><path d="M402.05,185.08 L405.15,190.58 L398.95,190.58 z" fill="#70AD47"/><path d="M407.66,184.51 L410.76,190.01 L404.56,190.01 z" fill="#70AD47"/><path d="M413.28,185.00 L416.38,190.50 L410.18,190.50 z" fill="#70AD47"/><path d="M418.89,183.34 L421.99,188.84 L415.79,188.84 z" fill="#70AD47"/><path d="M424.50,183.08 L427.60,188.58 L421.40,188.58 z" fill="#70AD47"/><path d="M430.12,183.86 L433.22,189.36 L427.02,189.36 z" fill="#70AD47"/><path d="M435.73,180.53 L438.83,186.03 L432.63,186.03 z" fill="#70AD47"/><path d="M441.34,183.23 L444.44,188.73 L438.24,188.73 z" fill="#70AD47"/><path d="M446.96,181.34 L450.06,186.84 L443.86,186.84 z" fill="#70AD47"/><path d="M452.57,183.40 L455.67,188.90 L449.47,188.90 z" fill="#70AD47"/><path d="M458.19,185.18 L461.29,190.68 L455.09,190.68 z" fill="#70AD47"/><path d="M463.80,187.97 L466.90,193.47 L460.70,193.47 z" fill="#70AD47"/></g>
<path d="M59.60,199.96 C60.54,200.33 63.34,201.25 65.21,202.16 C67.09,203.07 68.96,204.18 70.83,205.41 C72.70,206.64 74.57,208.10 76.44,209.55 C78.31,210.99 80.18,212.59 82.06,214.07 C83.93,215.55 85.80,217.16 87.67,218.44 C89.54,219.71 91.41,220.68 93.28,221.72 C95.15,222.76 97.03,223.78 98.90,224.70 C100.77,225.62 102.64,226.48 104.51,227.22 C106.38,227.96 108.25,228.63 110.12,229.14 C112.00,229.64 113.87,229.93 115.74,230.23 C117.61,230.53 119.48,230.90 121.35,230.92 C123.22,230.94 125.10,230.71 126.97,230.34 C128.84,229.97 130.71,229.48 132.58,228.72 C134.45,227.95 136.32,227.05 138.19,225.74 C140.07,224.43 141.94,222.88 143.81,220.87 C145.68,218.85 147.55,216.59 149.42,213.63 C151.29,210.67 153.16,206.92 155.04,203.12 C156.91,199.33 158.78,194.35 160.65,190.87 C162.52,187.39 164.39,183.30 166.26,182.23 C168.14,181.16 170.01,183.05 171.88,184.46 C173.75,185.86 175.62,188.73 177.49,190.63 C179.36,192.53 181.23,194.45 183.11,195.87 C184.98,197.29 186.85,198.35 188.72,199.16 C190.59,199.98 192.46,200.31 194.33,200.77 C196.20,201.23 198.08,201.83 199.95,201.94 C201.82,202.04 203.69,201.59 205.56,201.42 C207.43,201.25 209.30,200.92 211.17,200.91 C213.05,200.90 214.92,201.49 216.79,201.35 C218.66,201.22 220.53,200.55 222.40,200.10 C224.27,199.65 226.15,199.09 228.02,198.65 C229.89,198.21 231.76,197.74 233.63,197.47 C235.50,197.21 237.37,197.04 239.24,197.04 C241.12,197.04 242.99,197.11 244.86,197.48 C246.73,197.85 248.60,198.61 250.47,199.28 C252.34,199.95 254.21,200.66 256.09,201.49 C257.96,202.33 259.83,203.11 261.70,204.28 C263.57,205.45 265.44,207.25 267.31,208.51 C269.19,209.76 271.06,210.72 272.93,211.81 C274.80,212.89 276.67,213.82 278.54,215.03 C280.41,216.25 282.28,217.76 284.16,219.08 C286.03,220.39 287.90,221.72 289.77,222.92 C291.64,224.11 293.51,225.22 295.38,226.23 C297.25,227.24 299.13,228.17 301.00,228.99 C302.87,229.80 304.74,230.53 306.61,231.15 C308.48,231.77 310.35,232.28 312.23,232.68 C314.10,233.09 315.97,233.40 317.84,233.58 C319.71,233.77 321.58,233.85 323.45,233.80 C325.32,233.76 327.20,233.57 329.07,233.31 C330.94,233.05 332.81,232.76 334.68,232.22 C336.55,231.67 338.42,231.06 340.29,230.01 C342.17,228.97 344.04,227.61 345.91,225.96 C347.78,224.31 349.65,222.53 351.52,220.11 C353.39,217.69 355.26,215.14 357.14,211.44 C359.01,207.74 360.88,201.68 362.75,197.90 C364.62,194.11 366.49,190.60 368.36,188.73 C370.24,186.85 372.11,186.30 373.98,186.65 C375.85,187.00 377.72,189.40 379.59,190.83 C381.46,192.26 383.33,194.14 385.21,195.24 C387.08,196.34 388.95,196.89 390.82,197.43 C392.69,197.96 394.56,198.15 396.43,198.46 C398.30,198.78 400.18,199.18 402.05,199.31 C403.92,199.43 405.79,199.29 407.66,199.19 C409.53,199.09 411.40,198.59 413.28,198.69 C415.15,198.79 417.02,200.00 418.89,199.79 C420.76,199.58 422.63,198.24 424.50,197.44 C426.37,196.64 428.25,195.69 430.12,194.96 C431.99,194.23 433.86,193.54 435.73,193.08 C437.60,192.62 439.47,192.16 441.34,192.20 C443.22,192.25 445.09,192.93 446.96,193.34 C448.83,193.75 450.70,194.25 452.57,194.65 C454.44,195.06 456.31,195.48 458.19,195.78 C460.06,196.08 462.86,196.33 463.80,196.44" stroke="#92BBE6" stroke-width="1.60" fill="none" stroke-linejoin="round"/>
<g><path d="M57.00,197.36 l5.20,5.20 m0,-5.20 l-5.20,5.20" stroke="#92BBE6" stroke-width="0.7" fill="none" opacity="0.75"/><path d="M62.61,199.56 l5.20,5.20 m0,-5.20 l-5.20,5.20" stroke="#92BBE6" stroke-width="0.7" fill="none" opacity="0.75"/><path d="M68.23,202.81 l5.20,5.20 m0,-5.20 l-5.20,5.20" stroke="#92BBE6" stroke-width="0.7" fill="none" opacity="0.75"/><path d="M73.84,206.95 l5.20,5.20 m0,-5.20 l-5.20,5.20" stroke="#92BBE6" stroke-width="0.7" fill="none" opacity="0.75"/><path d="M79.46,211.47 l5.20,5.20 m0,-5.20 l-5.20,5.20" stroke="#92BBE6" stroke-width="0.7" fill="none" opacity="0.75"/><path d="M85.07,215.84 l5.20,5.20 m0,-5.20 l-5.20,5.20" stroke="#92BBE6" stroke-width="0.7" fill="none" opacity="0.75"/><path d="M90.68,219.12 l5.20,5.20 m0,-5.20 l-5.20,5.20" stroke="#92BBE6" stroke-width="0.7" fill="none" opacity="0.75"/><path d="M96.30,222.10 l5.20,5.20 m0,-5.20 l-5.20,5.20" stroke="#92BBE6" stroke-width="0.7" fill="none" opacity="0.75"/><path d="M101.91,224.62 l5.20,5.20 m0,-5.20 l-5.20,5.20" stroke="#92BBE6" stroke-width="0.7" fill="none" opacity="0.75"/><path d="M107.53,226.54 l5.20,5.20 m0,-5.20 l-5.20,5.20" stroke="#92BBE6" stroke-width="0.7" fill="none" opacity="0.75"/><path d="M113.14,227.63 l5.20,5.20 m0,-5.20 l-5.20,5.20" stroke="#92BBE6" stroke-width="0.7" fill="none" opacity="0.75"/><path d="M118.75,228.32 l5.20,5.20 m0,-5.20 l-5.20,5.20" stroke="#92BBE6" stroke-width="0.7" fill="none" opacity="0.75"/><path d="M124.37,227.74 l5.20,5.20 m0,-5.20 l-5.20,5.20" stroke="#92BBE6" stroke-width="0.7" fill="none" opacity="0.75"/><path d="M129.98,226.12 l5.20,5.20 m0,-5.20 l-5.20,5.20" stroke="#92BBE6" stroke-width="0.7" fill="none" opacity="0.75"/><path d="M135.59,223.14 l5.20,5.20 m0,-5.20 l-5.20,5.20" stroke="#92BBE6" stroke-width="0.7" fill="none" opacity="0.75"/><path d="M141.21,218.27 l5.20,5.20 m0,-5.20 l-5.20,5.20" stroke="#92BBE6" stroke-width="0.7" fill="none" opacity="0.75"/><path d="M146.82,211.03 l5.20,5.20 m0,-5.20 l-5.20,5.20" stroke="#92BBE6" stroke-width="0.7" fill="none" opacity="0.75"/><path d="M152.44,200.52 l5.20,5.20 m0,-5.20 l-5.20,5.20" stroke="#92BBE6" stroke-width="0.7" fill="none" opacity="0.75"/><path d="M158.05,188.27 l5.20,5.20 m0,-5.20 l-5.20,5.20" stroke="#92BBE6" stroke-width="0.7" fill="none" opacity="0.75"/><path d="M163.66,179.63 l5.20,5.20 m0,-5.20 l-5.20,5.20" stroke="#92BBE6" stroke-width="0.7" fill="none" opacity="0.75"/><path d="M169.28,181.86 l5.20,5.20 m0,-5.20 l-5.20,5.20" stroke="#92BBE6" stroke-width="0.7" fill="none" opacity="0.75"/><path d="M174.89,188.03 l5.20,5.20 m0,-5.20 l-5.20,5.20" stroke="#92BBE6" stroke-width="0.7" fill="none" opacity="0.75"/><path d="M180.51,193.27 l5.20,5.20 m0,-5.20 l-5.20,5.20" stroke="#92BBE6" stroke-width="0.7" fill="none" opacity="0.75"/><path d="M186.12,196.56 l5.20,5.20 m0,-5.20 l-5.20,5.20" stroke="#92BBE6" stroke-width="0.7" fill="none" opacity="0.75"/><path d="M191.73,198.17 l5.20,5.20 m0,-5.20 l-5.20,5.20" stroke="#92BBE6" stroke-width="0.7" fill="none" opacity="0.75"/><path d="M197.35,199.34 l5.20,5.20 m0,-5.20 l-5.20,5.20" stroke="#92BBE6" stroke-width="0.7" fill="none" opacity="0.75"/><path d="M202.96,198.82 l5.20,5.20 m0,-5.20 l-5.20,5.20" stroke="#92BBE6" stroke-width="0.7" fill="none" opacity="0.75"/><path d="M208.57,198.31 l5.20,5.20 m0,-5.20 l-5.20,5.20" stroke="#92BBE6" stroke-width="0.7" fill="none" opacity="0.75"/><path d="M214.19,198.75 l5.20,5.20 m0,-5.20 l-5.20,5.20" stroke="#92BBE6" stroke-width="0.7" fill="none" opacity="0.75"/><path d="M219.80,197.50 l5.20,5.20 m0,-5.20 l-5.20,5.20" stroke="#92BBE6" stroke-width="0.7" fill="none" opacity="0.75"/><path d="M225.42,196.05 l5.20,5.20 m0,-5.20 l-5.20,5.20" stroke="#92BBE6" stroke-width="0.7" fill="none" opacity="0.75"/><path d="M231.03,194.87 l5.20,5.20 m0,-5.20 l-5.20,5.20" stroke="#92BBE6" stroke-width="0.7" fill="none" opacity="0.75"/><path d="M236.64,194.44 l5.20,5.20 m0,-5.20 l-5.20,5.20" stroke="#92BBE6" stroke-width="0.7" fill="none" opacity="0.75"/><path d="M242.26,194.88 l5.20,5.20 m0,-5.20 l-5.20,5.20" stroke="#92BBE6" stroke-width="0.7" fill="none" opacity="0.75"/><path d="M247.87,196.68 l5.20,5.20 m0,-5.20 l-5.20,5.20" stroke="#92BBE6" stroke-width="0.7" fill="none" opacity="0.75"/><path d="M253.49,198.89 l5.20,5.20 m0,-5.20 l-5.20,5.20" stroke="#92BBE6" stroke-width="0.7" fill="none" opacity="0.75"/><path d="M259.10,201.68 l5.20,5.20 m0,-5.20 l-5.20,5.20" stroke="#92BBE6" stroke-width="0.7" fill="none" opacity="0.75"/><path d="M264.71,205.91 l5.20,5.20 m0,-5.20 l-5.20,5.20" stroke="#92BBE6" stroke-width="0.7" fill="none" opacity="0.75"/><path d="M270.33,209.21 l5.20,5.20 m0,-5.20 l-5.20,5.20" stroke="#92BBE6" stroke-width="0.7" fill="none" opacity="0.75"/><path d="M275.94,212.43 l5.20,5.20 m0,-5.20 l-5.20,5.20" stroke="#92BBE6" stroke-width="0.7" fill="none" opacity="0.75"/><path d="M281.56,216.48 l5.20,5.20 m0,-5.20 l-5.20,5.20" stroke="#92BBE6" stroke-width="0.7" fill="none" opacity="0.75"/><path d="M287.17,220.32 l5.20,5.20 m0,-5.20 l-5.20,5.20" stroke="#92BBE6" stroke-width="0.7" fill="none" opacity="0.75"/><path d="M292.78,223.63 l5.20,5.20 m0,-5.20 l-5.20,5.20" stroke="#92BBE6" stroke-width="0.7" fill="none" opacity="0.75"/><path d="M298.40,226.39 l5.20,5.20 m0,-5.20 l-5.20,5.20" stroke="#92BBE6" stroke-width="0.7" fill="none" opacity="0.75"/><path d="M304.01,228.55 l5.20,5.20 m0,-5.20 l-5.20,5.20" stroke="#92BBE6" stroke-width="0.7" fill="none" opacity="0.75"/><path d="M309.62,230.08 l5.20,5.20 m0,-5.20 l-5.20,5.20" stroke="#92BBE6" stroke-width="0.7" fill="none" opacity="0.75"/><path d="M315.24,230.98 l5.20,5.20 m0,-5.20 l-5.20,5.20" stroke="#92BBE6" stroke-width="0.7" fill="none" opacity="0.75"/><path d="M320.85,231.20 l5.20,5.20 m0,-5.20 l-5.20,5.20" stroke="#92BBE6" stroke-width="0.7" fill="none" opacity="0.75"/><path d="M326.47,230.71 l5.20,5.20 m0,-5.20 l-5.20,5.20" stroke="#92BBE6" stroke-width="0.7" fill="none" opacity="0.75"/><path d="M332.08,229.62 l5.20,5.20 m0,-5.20 l-5.20,5.20" stroke="#92BBE6" stroke-width="0.7" fill="none" opacity="0.75"/><path d="M337.69,227.41 l5.20,5.20 m0,-5.20 l-5.20,5.20" stroke="#92BBE6" stroke-width="0.7" fill="none" opacity="0.75"/><path d="M343.31,223.36 l5.20,5.20 m0,-5.20 l-5.20,5.20" stroke="#92BBE6" stroke-width="0.7" fill="none" opacity="0.75"/><path d="M348.92,217.51 l5.20,5.20 m0,-5.20 l-5.20,5.20" stroke="#92BBE6" stroke-width="0.7" fill="none" opacity="0.75"/><path d="M354.54,208.84 l5.20,5.20 m0,-5.20 l-5.20,5.20" stroke="#92BBE6" stroke-width="0.7" fill="none" opacity="0.75"/><path d="M360.15,195.30 l5.20,5.20 m0,-5.20 l-5.20,5.20" stroke="#92BBE6" stroke-width="0.7" fill="none" opacity="0.75"/><path d="M365.76,186.13 l5.20,5.20 m0,-5.20 l-5.20,5.20" stroke="#92BBE6" stroke-width="0.7" fill="none" opacity="0.75"/><path d="M371.38,184.05 l5.20,5.20 m0,-5.20 l-5.20,5.20" stroke="#92BBE6" stroke-width="0.7" fill="none" opacity="0.75"/><path d="M376.99,188.23 l5.20,5.20 m0,-5.20 l-5.20,5.20" stroke="#92BBE6" stroke-width="0.7" fill="none" opacity="0.75"/><path d="M382.61,192.64 l5.20,5.20 m0,-5.20 l-5.20,5.20" stroke="#92BBE6" stroke-width="0.7" fill="none" opacity="0.75"/><path d="M388.22,194.83 l5.20,5.20 m0,-5.20 l-5.20,5.20" stroke="#92BBE6" stroke-width="0.7" fill="none" opacity="0.75"/><path d="M393.83,195.86 l5.20,5.20 m0,-5.20 l-5.20,5.20" stroke="#92BBE6" stroke-width="0.7" fill="none" opacity="0.75"/><path d="M399.45,196.71 l5.20,5.20 m0,-5.20 l-5.20,5.20" stroke="#92BBE6" stroke-width="0.7" fill="none" opacity="0.75"/><path d="M405.06,196.59 l5.20,5.20 m0,-5.20 l-5.20,5.20" stroke="#92BBE6" stroke-width="0.7" fill="none" opacity="0.75"/><path d="M410.68,196.09 l5.20,5.20 m0,-5.20 l-5.20,5.20" stroke="#92BBE6" stroke-width="0.7" fill="none" opacity="0.75"/><path d="M416.29,197.19 l5.20,5.20 m0,-5.20 l-5.20,5.20" stroke="#92BBE6" stroke-width="0.7" fill="none" opacity="0.75"/><path d="M421.90,194.84 l5.20,5.20 m0,-5.20 l-5.20,5.20" stroke="#92BBE6" stroke-width="0.7" fill="none" opacity="0.75"/><path d="M427.52,192.36 l5.20,5.20 m0,-5.20 l-5.20,5.20" stroke="#92BBE6" stroke-width="0.7" fill="none" opacity="0.75"/><path d="M433.13,190.48 l5.20,5.20 m0,-5.20 l-5.20,5.20" stroke="#92BBE6" stroke-width="0.7" fill="none" opacity="0.75"/><path d="M438.74,189.60 l5.20,5.20 m0,-5.20 l-5.20,5.20" stroke="#92BBE6" stroke-width="0.7" fill="none" opacity="0.75"/><path d="M444.36,190.74 l5.20,5.20 m0,-5.20 l-5.20,5.20" stroke="#92BBE6" stroke-width="0.7" fill="none" opacity="0.75"/><path d="M449.97,192.05 l5.20,5.20 m0,-5.20 l-5.20,5.20" stroke="#92BBE6" stroke-width="0.7" fill="none" opacity="0.75"/><path d="M455.59,193.18 l5.20,5.20 m0,-5.20 l-5.20,5.20" stroke="#92BBE6" stroke-width="0.7" fill="none" opacity="0.75"/><path d="M461.20,193.84 l5.20,5.20 m0,-5.20 l-5.20,5.20" stroke="#92BBE6" stroke-width="0.7" fill="none" opacity="0.75"/></g>
<path d="M59.60,203.75 C60.54,204.44 63.34,206.42 65.21,207.87 C67.09,209.32 68.96,210.94 70.83,212.45 C72.70,213.96 74.57,215.42 76.44,216.91 C78.31,218.39 80.18,219.85 82.06,221.36 C83.93,222.86 85.80,224.63 87.67,225.94 C89.54,227.25 91.41,228.13 93.28,229.22 C95.15,230.32 97.03,231.51 98.90,232.51 C100.77,233.50 102.64,234.48 104.51,235.21 C106.38,235.95 108.25,236.51 110.12,236.90 C112.00,237.29 113.87,237.34 115.74,237.56 C117.61,237.78 119.48,238.09 121.35,238.22 C123.22,238.34 125.10,238.42 126.97,238.32 C128.84,238.21 130.71,237.97 132.58,237.59 C134.45,237.21 136.32,237.46 138.19,236.04 C140.07,234.62 141.94,231.33 143.81,229.06 C145.68,226.80 147.55,225.93 149.42,222.46 C151.29,219.00 153.16,212.76 155.04,208.28 C156.91,203.80 158.78,198.38 160.65,195.60 C162.52,192.82 164.39,191.91 166.26,191.60 C168.14,191.30 170.01,192.55 171.88,193.78 C173.75,195.00 175.62,197.32 177.49,198.96 C179.36,200.59 181.23,202.33 183.11,203.60 C184.98,204.87 186.85,205.59 188.72,206.57 C190.59,207.56 192.46,209.07 194.33,209.49 C196.20,209.92 198.08,209.30 199.95,209.13 C201.82,208.97 203.69,208.69 205.56,208.48 C207.43,208.27 209.30,208.06 211.17,207.88 C213.05,207.71 214.92,207.80 216.79,207.44 C218.66,207.09 220.53,206.20 222.40,205.74 C224.27,205.28 226.15,204.97 228.02,204.70 C229.89,204.42 231.76,204.29 233.63,204.11 C235.50,203.94 237.37,204.10 239.24,203.65 C241.12,203.21 242.99,201.29 244.86,201.42 C246.73,201.55 248.60,203.66 250.47,204.44 C252.34,205.22 254.21,205.28 256.09,206.12 C257.96,206.96 259.83,208.16 261.70,209.48 C263.57,210.79 265.44,212.57 267.31,214.02 C269.19,215.47 271.06,216.81 272.93,218.20 C274.80,219.58 276.67,220.92 278.54,222.32 C280.41,223.71 282.28,225.26 284.16,226.58 C286.03,227.89 287.90,228.98 289.77,230.20 C291.64,231.42 293.51,232.77 295.38,233.89 C297.25,235.01 299.13,236.12 301.00,236.91 C302.87,237.70 304.74,238.25 306.61,238.61 C308.48,238.97 310.35,238.88 312.23,239.05 C314.10,239.22 315.97,239.45 317.84,239.64 C319.71,239.84 321.58,240.06 323.45,240.21 C325.32,240.37 327.20,240.57 329.07,240.60 C330.94,240.62 332.81,241.03 334.68,240.38 C336.55,239.72 338.42,237.92 340.29,236.66 C342.17,235.41 344.04,234.39 345.91,232.85 C347.78,231.31 349.65,229.86 351.52,227.44 C353.39,225.02 355.26,221.95 357.14,218.33 C359.01,214.71 360.88,209.42 362.75,205.70 C364.62,201.98 366.49,197.74 368.36,196.03 C370.24,194.32 372.11,195.31 373.98,195.42 C375.85,195.54 377.72,195.78 379.59,196.70 C381.46,197.62 383.33,199.44 385.21,200.93 C387.08,202.42 388.95,204.60 390.82,205.63 C392.69,206.66 394.56,207.03 396.43,207.12 C398.30,207.21 400.18,206.47 402.05,206.18 C403.92,205.88 405.79,205.61 407.66,205.36 C409.53,205.11 411.40,204.93 413.28,204.66 C415.15,204.40 417.02,204.21 418.89,203.79 C420.76,203.37 422.63,202.67 424.50,202.15 C426.37,201.62 428.25,201.07 430.12,200.64 C431.99,200.21 433.86,199.80 435.73,199.58 C437.60,199.37 439.47,199.37 441.34,199.37 C443.22,199.36 445.09,199.44 446.96,199.55 C448.83,199.66 450.70,199.82 452.57,200.03 C454.44,200.24 456.31,200.50 458.19,200.81 C460.06,201.12 462.86,201.72 463.80,201.91" stroke="#F7AA90" stroke-width="1.60" fill="none" stroke-linejoin="round"/>
<g><path d="M57.00,201.15 l5.20,5.20 m0,-5.20 l-5.20,5.20 M59.60,200.65 v6.20" stroke="#F7AA90" stroke-width="0.7" fill="none" opacity="0.75"/><path d="M62.61,205.27 l5.20,5.20 m0,-5.20 l-5.20,5.20 M65.21,204.77 v6.20" stroke="#F7AA90" stroke-width="0.7" fill="none" opacity="0.75"/><path d="M68.23,209.85 l5.20,5.20 m0,-5.20 l-5.20,5.20 M70.83,209.35 v6.20" stroke="#F7AA90" stroke-width="0.7" fill="none" opacity="0.75"/><path d="M73.84,214.31 l5.20,5.20 m0,-5.20 l-5.20,5.20 M76.44,213.81 v6.20" stroke="#F7AA90" stroke-width="0.7" fill="none" opacity="0.75"/><path d="M79.46,218.76 l5.20,5.20 m0,-5.20 l-5.20,5.20 M82.06,218.26 v6.20" stroke="#F7AA90" stroke-width="0.7" fill="none" opacity="0.75"/><path d="M85.07,223.34 l5.20,5.20 m0,-5.20 l-5.20,5.20 M87.67,222.84 v6.20" stroke="#F7AA90" stroke-width="0.7" fill="none" opacity="0.75"/><path d="M90.68,226.62 l5.20,5.20 m0,-5.20 l-5.20,5.20 M93.28,226.12 v6.20" stroke="#F7AA90" stroke-width="0.7" fill="none" opacity="0.75"/><path d="M96.30,229.91 l5.20,5.20 m0,-5.20 l-5.20,5.20 M98.90,229.41 v6.20" stroke="#F7AA90" stroke-width="0.7" fill="none" opacity="0.75"/><path d="M101.91,232.61 l5.20,5.20 m0,-5.20 l-5.20,5.20 M104.51,232.11 v6.20" stroke="#F7AA90" stroke-width="0.7" fill="none" opacity="0.75"/><path d="M107.53,234.30 l5.20,5.20 m0,-5.20 l-5.20,5.20 M110.12,233.80 v6.20" stroke="#F7AA90" stroke-width="0.7" fill="none" opacity="0.75"/><path d="M113.14,234.96 l5.20,5.20 m0,-5.20 l-5.20,5.20 M115.74,234.46 v6.20" stroke="#F7AA90" stroke-width="0.7" fill="none" opacity="0.75"/><path d="M118.75,235.62 l5.20,5.20 m0,-5.20 l-5.20,5.20 M121.35,235.12 v6.20" stroke="#F7AA90" stroke-width="0.7" fill="none" opacity="0.75"/><path d="M124.37,235.72 l5.20,5.20 m0,-5.20 l-5.20,5.20 M126.97,235.22 v6.20" stroke="#F7AA90" stroke-width="0.7" fill="none" opacity="0.75"/><path d="M129.98,234.99 l5.20,5.20 m0,-5.20 l-5.20,5.20 M132.58,234.49 v6.20" stroke="#F7AA90" stroke-width="0.7" fill="none" opacity="0.75"/><path d="M135.59,233.44 l5.20,5.20 m0,-5.20 l-5.20,5.20 M138.19,232.94 v6.20" stroke="#F7AA90" stroke-width="0.7" fill="none" opacity="0.75"/><path d="M141.21,226.46 l5.20,5.20 m0,-5.20 l-5.20,5.20 M143.81,225.96 v6.20" stroke="#F7AA90" stroke-width="0.7" fill="none" opacity="0.75"/><path d="M146.82,219.86 l5.20,5.20 m0,-5.20 l-5.20,5.20 M149.42,219.36 v6.20" stroke="#F7AA90" stroke-width="0.7" fill="none" opacity="0.75"/><path d="M152.44,205.68 l5.20,5.20 m0,-5.20 l-5.20,5.20 M155.04,205.18 v6.20" stroke="#F7AA90" stroke-width="0.7" fill="none" opacity="0.75"/><path d="M158.05,193.00 l5.20,5.20 m0,-5.20 l-5.20,5.20 M160.65,192.50 v6.20" stroke="#F7AA90" stroke-width="0.7" fill="none" opacity="0.75"/><path d="M163.66,189.00 l5.20,5.20 m0,-5.20 l-5.20,5.20 M166.26,188.50 v6.20" stroke="#F7AA90" stroke-width="0.7" fill="none" opacity="0.75"/><path d="M169.28,191.18 l5.20,5.20 m0,-5.20 l-5.20,5.20 M171.88,190.68 v6.20" stroke="#F7AA90" stroke-width="0.7" fill="none" opacity="0.75"/><path d="M174.89,196.36 l5.20,5.20 m0,-5.20 l-5.20,5.20 M177.49,195.86 v6.20" stroke="#F7AA90" stroke-width="0.7" fill="none" opacity="0.75"/><path d="M180.51,201.00 l5.20,5.20 m0,-5.20 l-5.20,5.20 M183.11,200.50 v6.20" stroke="#F7AA90" stroke-width="0.7" fill="none" opacity="0.75"/><path d="M186.12,203.97 l5.20,5.20 m0,-5.20 l-5.20,5.20 M188.72,203.47 v6.20" stroke="#F7AA90" stroke-width="0.7" fill="none" opacity="0.75"/><path d="M191.73,206.89 l5.20,5.20 m0,-5.20 l-5.20,5.20 M194.33,206.39 v6.20" stroke="#F7AA90" stroke-width="0.7" fill="none" opacity="0.75"/><path d="M197.35,206.53 l5.20,5.20 m0,-5.20 l-5.20,5.20 M199.95,206.03 v6.20" stroke="#F7AA90" stroke-width="0.7" fill="none" opacity="0.75"/><path d="M202.96,205.88 l5.20,5.20 m0,-5.20 l-5.20,5.20 M205.56,205.38 v6.20" stroke="#F7AA90" stroke-width="0.7" fill="none" opacity="0.75"/><path d="M208.57,205.28 l5.20,5.20 m0,-5.20 l-5.20,5.20 M211.17,204.78 v6.20" stroke="#F7AA90" stroke-width="0.7" fill="none" opacity="0.75"/><path d="M214.19,204.84 l5.20,5.20 m0,-5.20 l-5.20,5.20 M216.79,204.34 v6.20" stroke="#F7AA90" stroke-width="0.7" fill="none" opacity="0.75"/><path d="M219.80,203.14 l5.20,5.20 m0,-5.20 l-5.20,5.20 M222.40,202.64 v6.20" stroke="#F7AA90" stroke-width="0.7" fill="none" opacity="0.75"/><path d="M225.42,202.10 l5.20,5.20 m0,-5.20 l-5.20,5.20 M228.02,201.60 v6.20" stroke="#F7AA90" stroke-width="0.7" fill="none" opacity="0.75"/><path d="M231.03,201.51 l5.20,5.20 m0,-5.20 l-5.20,5.20 M233.63,201.01 v6.20" stroke="#F7AA90" stroke-width="0.7" fill="none" opacity="0.75"/><path d="M236.64,201.05 l5.20,5.20 m0,-5.20 l-5.20,5.20 M239.24,200.55 v6.20" stroke="#F7AA90" stroke-width="0.7" fill="none" opacity="0.75"/><path d="M242.26,198.82 l5.20,5.20 m0,-5.20 l-5.20,5.20 M244.86,198.32 v6.20" stroke="#F7AA90" stroke-width="0.7" fill="none" opacity="0.75"/><path d="M247.87,201.84 l5.20,5.20 m0,-5.20 l-5.20,5.20 M250.47,201.34 v6.20" stroke="#F7AA90" stroke-width="0.7" fill="none" opacity="0.75"/><path d="M253.49,203.52 l5.20,5.20 m0,-5.20 l-5.20,5.20 M256.09,203.02 v6.20" stroke="#F7AA90" stroke-width="0.7" fill="none" opacity="0.75"/><path d="M259.10,206.88 l5.20,5.20 m0,-5.20 l-5.20,5.20 M261.70,206.38 v6.20" stroke="#F7AA90" stroke-width="0.7" fill="none" opacity="0.75"/><path d="M264.71,211.42 l5.20,5.20 m0,-5.20 l-5.20,5.20 M267.31,210.92 v6.20" stroke="#F7AA90" stroke-width="0.7" fill="none" opacity="0.75"/><path d="M270.33,215.60 l5.20,5.20 m0,-5.20 l-5.20,5.20 M272.93,215.10 v6.20" stroke="#F7AA90" stroke-width="0.7" fill="none" opacity="0.75"/><path d="M275.94,219.72 l5.20,5.20 m0,-5.20 l-5.20,5.20 M278.54,219.22 v6.20" stroke="#F7AA90" stroke-width="0.7" fill="none" opacity="0.75"/><path d="M281.56,223.98 l5.20,5.20 m0,-5.20 l-5.20,5.20 M284.16,223.48 v6.20" stroke="#F7AA90" stroke-width="0.7" fill="none" opacity="0.75"/><path d="M287.17,227.60 l5.20,5.20 m0,-5.20 l-5.20,5.20 M289.77,227.10 v6.20" stroke="#F7AA90" stroke-width="0.7" fill="none" opacity="0.75"/><path d="M292.78,231.29 l5.20,5.20 m0,-5.20 l-5.20,5.20 M295.38,230.79 v6.20" stroke="#F7AA90" stroke-width="0.7" fill="none" opacity="0.75"/><path d="M298.40,234.31 l5.20,5.20 m0,-5.20 l-5.20,5.20 M301.00,233.81 v6.20" stroke="#F7AA90" stroke-width="0.7" fill="none" opacity="0.75"/><path d="M304.01,236.01 l5.20,5.20 m0,-5.20 l-5.20,5.20 M306.61,235.51 v6.20" stroke="#F7AA90" stroke-width="0.7" fill="none" opacity="0.75"/><path d="M309.62,236.45 l5.20,5.20 m0,-5.20 l-5.20,5.20 M312.23,235.95 v6.20" stroke="#F7AA90" stroke-width="0.7" fill="none" opacity="0.75"/><path d="M315.24,237.04 l5.20,5.20 m0,-5.20 l-5.20,5.20 M317.84,236.54 v6.20" stroke="#F7AA90" stroke-width="0.7" fill="none" opacity="0.75"/><path d="M320.85,237.61 l5.20,5.20 m0,-5.20 l-5.20,5.20 M323.45,237.11 v6.20" stroke="#F7AA90" stroke-width="0.7" fill="none" opacity="0.75"/><path d="M326.47,238.00 l5.20,5.20 m0,-5.20 l-5.20,5.20 M329.07,237.50 v6.20" stroke="#F7AA90" stroke-width="0.7" fill="none" opacity="0.75"/><path d="M332.08,237.78 l5.20,5.20 m0,-5.20 l-5.20,5.20 M334.68,237.28 v6.20" stroke="#F7AA90" stroke-width="0.7" fill="none" opacity="0.75"/><path d="M337.69,234.06 l5.20,5.20 m0,-5.20 l-5.20,5.20 M340.29,233.56 v6.20" stroke="#F7AA90" stroke-width="0.7" fill="none" opacity="0.75"/><path d="M343.31,230.25 l5.20,5.20 m0,-5.20 l-5.20,5.20 M345.91,229.75 v6.20" stroke="#F7AA90" stroke-width="0.7" fill="none" opacity="0.75"/><path d="M348.92,224.84 l5.20,5.20 m0,-5.20 l-5.20,5.20 M351.52,224.34 v6.20" stroke="#F7AA90" stroke-width="0.7" fill="none" opacity="0.75"/><path d="M354.54,215.73 l5.20,5.20 m0,-5.20 l-5.20,5.20 M357.14,215.23 v6.20" stroke="#F7AA90" stroke-width="0.7" fill="none" opacity="0.75"/><path d="M360.15,203.10 l5.20,5.20 m0,-5.20 l-5.20,5.20 M362.75,202.60 v6.20" stroke="#F7AA90" stroke-width="0.7" fill="none" opacity="0.75"/><path d="M365.76,193.43 l5.20,5.20 m0,-5.20 l-5.20,5.20 M368.36,192.93 v6.20" stroke="#F7AA90" stroke-width="0.7" fill="none" opacity="0.75"/><path d="M371.38,192.82 l5.20,5.20 m0,-5.20 l-5.20,5.20 M373.98,192.32 v6.20" stroke="#F7AA90" stroke-width="0.7" fill="none" opacity="0.75"/><path d="M376.99,194.10 l5.20,5.20 m0,-5.20 l-5.20,5.20 M379.59,193.60 v6.20" stroke="#F7AA90" stroke-width="0.7" fill="none" opacity="0.75"/><path d="M382.61,198.33 l5.20,5.20 m0,-5.20 l-5.20,5.20 M385.21,197.83 v6.20" stroke="#F7AA90" stroke-width="0.7" fill="none" opacity="0.75"/><path d="M388.22,203.03 l5.20,5.20 m0,-5.20 l-5.20,5.20 M390.82,202.53 v6.20" stroke="#F7AA90" stroke-width="0.7" fill="none" opacity="0.75"/><path d="M393.83,204.52 l5.20,5.20 m0,-5.20 l-5.20,5.20 M396.43,204.02 v6.20" stroke="#F7AA90" stroke-width="0.7" fill="none" opacity="0.75"/><path d="M399.45,203.58 l5.20,5.20 m0,-5.20 l-5.20,5.20 M402.05,203.08 v6.20" stroke="#F7AA90" stroke-width="0.7" fill="none" opacity="0.75"/><path d="M405.06,202.76 l5.20,5.20 m0,-5.20 l-5.20,5.20 M407.66,202.26 v6.20" stroke="#F7AA90" stroke-width="0.7" fill="none" opacity="0.75"/><path d="M410.68,202.06 l5.20,5.20 m0,-5.20 l-5.20,5.20 M413.28,201.56 v6.20" stroke="#F7AA90" stroke-width="0.7" fill="none" opacity="0.75"/><path d="M416.29,201.19 l5.20,5.20 m0,-5.20 l-5.20,5.20 M418.89,200.69 v6.20" stroke="#F7AA90" stroke-width="0.7" fill="none" opacity="0.75"/><path d="M421.90,199.55 l5.20,5.20 m0,-5.20 l-5.20,5.20 M424.50,199.05 v6.20" stroke="#F7AA90" stroke-width="0.7" fill="none" opacity="0.75"/><path d="M427.52,198.04 l5.20,5.20 m0,-5.20 l-5.20,5.20 M430.12,197.54 v6.20" stroke="#F7AA90" stroke-width="0.7" fill="none" opacity="0.75"/><path d="M433.13,196.98 l5.20,5.20 m0,-5.20 l-5.20,5.20 M435.73,196.48 v6.20" stroke="#F7AA90" stroke-width="0.7" fill="none" opacity="0.75"/><path d="M438.74,196.77 l5.20,5.20 m0,-5.20 l-5.20,5.20 M441.34,196.27 v6.20" stroke="#F7AA90" stroke-width="0.7" fill="none" opacity="0.75"/><path d="M444.36,196.95 l5.20,5.20 m0,-5.20 l-5.20,5.20 M446.96,196.45 v6.20" stroke="#F7AA90" stroke-width="0.7" fill="none" opacity="0.75"/><path d="M449.97,197.43 l5.20,5.20 m0,-5.20 l-5.20,5.20 M452.57,196.93 v6.20" stroke="#F7AA90" stroke-width="0.7" fill="none" opacity="0.75"/><path d="M455.59,198.21 l5.20,5.20 m0,-5.20 l-5.20,5.20 M458.19,197.71 v6.20" stroke="#F7AA90" stroke-width="0.7" fill="none" opacity="0.75"/><path d="M461.20,199.31 l5.20,5.20 m0,-5.20 l-5.20,5.20 M463.80,198.81 v6.20" stroke="#F7AA90" stroke-width="0.7" fill="none" opacity="0.75"/></g>
<path d="M59.60,209.54 C60.54,210.33 63.34,213.07 65.21,214.27 C67.09,215.46 68.96,215.06 70.83,216.70 C72.70,218.34 74.57,222.49 76.44,224.10 C78.31,225.70 80.18,224.92 82.06,226.32 C83.93,227.72 85.80,230.89 87.67,232.50 C89.54,234.11 91.41,234.87 93.28,235.98 C95.15,237.09 97.03,238.07 98.90,239.17 C100.77,240.26 102.64,241.68 104.51,242.56 C106.38,243.44 108.25,243.90 110.12,244.45 C112.00,244.99 113.87,245.50 115.74,245.81 C117.61,246.13 119.48,246.34 121.35,246.34 C123.22,246.35 125.10,245.93 126.97,245.84 C128.84,245.74 130.71,246.74 132.58,245.78 C134.45,244.83 136.32,241.69 138.19,240.10 C140.07,238.51 141.94,237.94 143.81,236.24 C145.68,234.54 147.55,233.03 149.42,229.89 C151.29,226.75 153.16,221.73 155.04,217.39 C156.91,213.06 158.78,207.48 160.65,203.86 C162.52,200.23 164.39,196.33 166.26,195.64 C168.14,194.96 170.01,197.76 171.88,199.75 C173.75,201.73 175.62,205.29 177.49,207.57 C179.36,209.84 181.23,211.73 183.11,213.39 C184.98,215.05 186.85,216.79 188.72,217.55 C190.59,218.30 192.46,217.61 194.33,217.90 C196.20,218.18 198.08,219.26 199.95,219.25 C201.82,219.23 203.69,218.06 205.56,217.82 C207.43,217.57 209.30,218.40 211.17,217.76 C213.05,217.12 214.92,214.76 216.79,213.98 C218.66,213.20 220.53,213.71 222.40,213.09 C224.27,212.46 226.15,210.82 228.02,210.21 C229.89,209.60 231.76,209.57 233.63,209.45 C235.50,209.32 237.37,209.31 239.24,209.46 C241.12,209.60 242.99,210.17 244.86,210.31 C246.73,210.46 248.60,210.28 250.47,210.31 C252.34,210.35 254.21,210.17 256.09,210.53 C257.96,210.89 259.83,211.62 261.70,212.48 C263.57,213.35 265.44,214.20 267.31,215.73 C269.19,217.26 271.06,219.81 272.93,221.67 C274.80,223.53 276.67,225.52 278.54,226.89 C280.41,228.27 282.28,228.70 284.16,229.91 C286.03,231.13 287.90,232.93 289.77,234.19 C291.64,235.46 293.51,236.45 295.38,237.48 C297.25,238.51 299.13,239.26 301.00,240.38 C302.87,241.50 304.74,243.09 306.61,244.18 C308.48,245.27 310.35,246.46 312.23,246.93 C314.10,247.39 315.97,246.93 317.84,246.98 C319.71,247.04 321.58,247.12 323.45,247.26 C325.32,247.39 327.20,247.79 329.07,247.78 C330.94,247.77 332.81,247.57 334.68,247.20 C336.55,246.83 338.42,247.01 340.29,245.55 C342.17,244.10 344.04,240.50 345.91,238.47 C347.78,236.44 349.65,235.90 351.52,233.36 C353.39,230.82 355.26,226.86 357.14,223.21 C359.01,219.56 360.88,215.35 362.75,211.46 C364.62,207.57 366.49,201.36 368.36,199.87 C370.24,198.38 372.11,201.36 373.98,202.52 C375.85,203.69 377.72,205.41 379.59,206.84 C381.46,208.28 383.33,209.95 385.21,211.16 C387.08,212.37 388.95,213.38 390.82,214.10 C392.69,214.81 394.56,215.14 396.43,215.47 C398.30,215.79 400.18,216.02 402.05,216.04 C403.92,216.06 405.79,215.94 407.66,215.58 C409.53,215.22 411.40,214.65 413.28,213.86 C415.15,213.08 417.02,211.59 418.89,210.87 C420.76,210.15 422.63,210.01 424.50,209.52 C426.37,209.04 428.25,208.59 430.12,207.96 C431.99,207.33 433.86,206.05 435.73,205.76 C437.60,205.47 439.47,206.24 441.34,206.23 C443.22,206.22 445.09,205.93 446.96,205.70 C448.83,205.48 450.70,204.58 452.57,204.88 C454.44,205.18 456.31,206.59 458.19,207.53 C460.06,208.46 462.86,210.00 463.80,210.50" stroke="#C9C9C9" stroke-width="1.60" fill="none" stroke-linejoin="round"/>
<g><circle cx="59.60" cy="209.54" r="2.60" fill="#C9C9C9"/><circle cx="65.21" cy="214.27" r="2.60" fill="#C9C9C9"/><circle cx="70.83" cy="216.70" r="2.60" fill="#C9C9C9"/><circle cx="76.44" cy="224.10" r="2.60" fill="#C9C9C9"/><circle cx="82.06" cy="226.32" r="2.60" fill="#C9C9C9"/><circle cx="87.67" cy="232.50" r="2.60" fill="#C9C9C9"/><circle cx="93.28" cy="235.98" r="2.60" fill="#C9C9C9"/><circle cx="98.90" cy="239.17" r="2.60" fill="#C9C9C9"/><circle cx="104.51" cy="242.56" r="2.60" fill="#C9C9C9"/><circle cx="110.12" cy="244.45" r="2.60" fill="#C9C9C9"/><circle cx="115.74" cy="245.81" r="2.60" fill="#C9C9C9"/><circle cx="121.35" cy="246.34" r="2.60" fill="#C9C9C9"/><circle cx="126.97" cy="245.84" r="2.60" fill="#C9C9C9"/><circle cx="132.58" cy="245.78" r="2.60" fill="#C9C9C9"/><circle cx="138.19" cy="240.10" r="2.60" fill="#C9C9C9"/><circle cx="143.81" cy="236.24" r="2.60" fill="#C9C9C9"/><circle cx="149.42" cy="229.89" r="2.60" fill="#C9C9C9"/><circle cx="155.04" cy="217.39" r="2.60" fill="#C9C9C9"/><circle cx="160.65" cy="203.86" r="2.60" fill="#C9C9C9"/><circle cx="166.26" cy="195.64" r="2.60" fill="#C9C9C9"/><circle cx="171.88" cy="199.75" r="2.60" fill="#C9C9C9"/><circle cx="177.49" cy="207.57" r="2.60" fill="#C9C9C9"/><circle cx="183.11" cy="213.39" r="2.60" fill="#C9C9C9"/><circle cx="188.72" cy="217.55" r="2.60" fill="#C9C9C9"/><circle cx="194.33" cy="217.90" r="2.60" fill="#C9C9C9"/><circle cx="199.95" cy="219.25" r="2.60" fill="#C9C9C9"/><circle cx="205.56" cy="217.82" r="2.60" fill="#C9C9C9"/><circle cx="211.17" cy="217.76" r="2.60" fill="#C9C9C9"/><circle cx="216.79" cy="213.98" r="2.60" fill="#C9C9C9"/><circle cx="222.40" cy="213.09" r="2.60" fill="#C9C9C9"/><circle cx="228.02" cy="210.21" r="2.60" fill="#C9C9C9"/><circle cx="233.63" cy="209.45" r="2.60" fill="#C9C9C9"/><circle cx="239.24" cy="209.46" r="2.60" fill="#C9C9C9"/><circle cx="244.86" cy="210.31" r="2.60" fill="#C9C9C9"/><circle cx="250.47" cy="210.31" r="2.60" fill="#C9C9C9"/><circle cx="256.09" cy="210.53" r="2.60" fill="#C9C9C9"/><circle cx="261.70" cy="212.48" r="2.60" fill="#C9C9C9"/><circle cx="267.31" cy="215.73" r="2.60" fill="#C9C9C9"/><circle cx="272.93" cy="221.67" r="2.60" fill="#C9C9C9"/><circle cx="278.54" cy="226.89" r="2.60" fill="#C9C9C9"/><circle cx="284.16" cy="229.91" r="2.60" fill="#C9C9C9"/><circle cx="289.77" cy="234.19" r="2.60" fill="#C9C9C9"/><circle cx="295.38" cy="237.48" r="2.60" fill="#C9C9C9"/><circle cx="301.00" cy="240.38" r="2.60" fill="#C9C9C9"/><circle cx="306.61" cy="244.18" r="2.60" fill="#C9C9C9"/><circle cx="312.23" cy="246.93" r="2.60" fill="#C9C9C9"/><circle cx="317.84" cy="246.98" r="2.60" fill="#C9C9C9"/><circle cx="323.45" cy="247.26" r="2.60" fill="#C9C9C9"/><circle cx="329.07" cy="247.78" r="2.60" fill="#C9C9C9"/><circle cx="334.68" cy="247.20" r="2.60" fill="#C9C9C9"/><circle cx="340.29" cy="245.55" r="2.60" fill="#C9C9C9"/><circle cx="345.91" cy="238.47" r="2.60" fill="#C9C9C9"/><circle cx="351.52" cy="233.36" r="2.60" fill="#C9C9C9"/><circle cx="357.14" cy="223.21" r="2.60" fill="#C9C9C9"/><circle cx="362.75" cy="211.46" r="2.60" fill="#C9C9C9"/><circle cx="368.36" cy="199.87" r="2.60" fill="#C9C9C9"/><circle cx="373.98" cy="202.52" r="2.60" fill="#C9C9C9"/><circle cx="379.59" cy="206.84" r="2.60" fill="#C9C9C9"/><circle cx="385.21" cy="211.16" r="2.60" fill="#C9C9C9"/><circle cx="390.82" cy="214.10" r="2.60" fill="#C9C9C9"/><circle cx="396.43" cy="215.47" r="2.60" fill="#C9C9C9"/><circle cx="402.05" cy="216.04" r="2.60" fill="#C9C9C9"/><circle cx="407.66" cy="215.58" r="2.60" fill="#C9C9C9"/><circle cx="413.28" cy="213.86" r="2.60" fill="#C9C9C9"/><circle cx="418.89" cy="210.87" r="2.60" fill="#C9C9C9"/><circle cx="424.50" cy="209.52" r="2.60" fill="#C9C9C9"/><circle cx="430.12" cy="207.96" r="2.60" fill="#C9C9C9"/><circle cx="435.73" cy="205.76" r="2.60" fill="#C9C9C9"/><circle cx="441.34" cy="206.23" r="2.60" fill="#C9C9C9"/><circle cx="446.96" cy="205.70" r="2.60" fill="#C9C9C9"/><circle cx="452.57" cy="204.88" r="2.60" fill="#C9C9C9"/><circle cx="458.19" cy="207.53" r="2.60" fill="#C9C9C9"/><circle cx="463.80" cy="210.50" r="2.60" fill="#C9C9C9"/></g>
<path d="M59.60,229.13 C60.54,229.71 63.34,231.15 65.21,232.63 C67.09,234.10 68.96,236.05 70.83,237.98 C72.70,239.91 74.57,242.42 76.44,244.19 C78.31,245.96 80.18,247.14 82.06,248.62 C83.93,250.09 85.80,251.71 87.67,253.05 C89.54,254.38 91.41,255.52 93.28,256.65 C95.15,257.78 97.03,258.84 98.90,259.84 C100.77,260.84 102.64,261.70 104.51,262.67 C106.38,263.63 108.25,264.70 110.12,265.63 C112.00,266.56 113.87,267.63 115.74,268.24 C117.61,268.85 119.48,269.00 121.35,269.28 C123.22,269.56 125.10,269.80 126.97,269.93 C128.84,270.06 130.71,270.29 132.58,270.05 C134.45,269.81 136.32,269.50 138.19,268.50 C140.07,267.49 141.94,265.96 143.81,263.99 C145.68,262.03 147.55,259.76 149.42,256.70 C151.29,253.65 153.16,249.80 155.04,245.67 C156.91,241.53 158.78,235.69 160.65,231.89 C162.52,228.09 164.39,222.75 166.26,222.86 C168.14,222.98 170.01,229.37 171.88,232.59 C173.75,235.81 175.62,239.75 177.49,242.18 C179.36,244.61 181.23,246.08 183.11,247.17 C184.98,248.26 186.85,248.44 188.72,248.70 C190.59,248.95 192.46,248.82 194.33,248.68 C196.20,248.53 198.08,248.30 199.95,247.84 C201.82,247.37 203.69,246.60 205.56,245.87 C207.43,245.14 209.30,244.39 211.17,243.47 C213.05,242.55 214.92,241.39 216.79,240.35 C218.66,239.30 220.53,238.10 222.40,237.20 C224.27,236.30 226.15,235.55 228.02,234.95 C229.89,234.36 231.76,234.18 233.63,233.64 C235.50,233.09 237.37,232.16 239.24,231.69 C241.12,231.22 242.99,231.11 244.86,230.82 C246.73,230.53 248.60,230.02 250.47,229.97 C252.34,229.91 254.21,230.10 256.09,230.48 C257.96,230.86 259.83,231.38 261.70,232.24 C263.57,233.10 265.44,234.34 267.31,235.66 C269.19,236.97 271.06,238.43 272.93,240.14 C274.80,241.84 276.67,244.07 278.54,245.88 C280.41,247.69 282.28,249.48 284.16,251.01 C286.03,252.55 287.90,253.83 289.77,255.07 C291.64,256.31 293.51,257.30 295.38,258.44 C297.25,259.58 299.13,260.87 301.00,261.91 C302.87,262.95 304.74,263.84 306.61,264.68 C308.48,265.51 310.35,266.34 312.23,266.93 C314.10,267.51 315.97,267.79 317.84,268.18 C319.71,268.56 321.58,268.90 323.45,269.23 C325.32,269.56 327.20,270.01 329.07,270.17 C330.94,270.33 332.81,270.27 334.68,270.18 C336.55,270.10 338.42,270.05 340.29,269.67 C342.17,269.29 344.04,268.87 345.91,267.89 C347.78,266.92 349.65,266.22 351.52,263.80 C353.39,261.38 355.26,257.54 357.14,253.38 C359.01,249.22 360.88,243.09 362.75,238.85 C364.62,234.61 366.49,229.50 368.36,227.95 C370.24,226.39 372.11,228.02 373.98,229.53 C375.85,231.04 377.72,234.74 379.59,237.01 C381.46,239.29 383.33,241.61 385.21,243.17 C387.08,244.72 388.95,245.67 390.82,246.35 C392.69,247.03 394.56,247.29 396.43,247.23 C398.30,247.16 400.18,246.61 402.05,245.98 C403.92,245.34 405.79,244.29 407.66,243.41 C409.53,242.53 411.40,241.58 413.28,240.69 C415.15,239.80 417.02,238.97 418.89,238.06 C420.76,237.15 422.63,236.13 424.50,235.24 C426.37,234.36 428.25,233.53 430.12,232.76 C431.99,231.99 433.86,231.31 435.73,230.63 C437.60,229.94 439.47,229.31 441.34,228.65 C443.22,228.00 445.09,227.21 446.96,226.68 C448.83,226.16 450.70,225.73 452.57,225.50 C454.44,225.28 456.31,225.19 458.19,225.34 C460.06,225.50 462.86,226.25 463.80,226.44" stroke="#FDC985" stroke-width="1.60" fill="none" stroke-linejoin="round"/>
<g><path d="M57.00,229.13 h5.20 M59.60,226.03 v6.20" stroke="#FDC985" stroke-width="0.7" fill="none" opacity="0.75"/><path d="M62.61,232.63 h5.20 M65.21,229.53 v6.20" stroke="#FDC985" stroke-width="0.7" fill="none" opacity="0.75"/><path d="M68.23,237.98 h5.20 M70.83,234.88 v6.20" stroke="#FDC985" stroke-width="0.7" fill="none" opacity="0.75"/><path d="M73.84,244.19 h5.20 M76.44,241.09 v6.20" stroke="#FDC985" stroke-width="0.7" fill="none" opacity="0.75"/><path d="M79.46,248.62 h5.20 M82.06,245.52 v6.20" stroke="#FDC985" stroke-width="0.7" fill="none" opacity="0.75"/><path d="M85.07,253.05 h5.20 M87.67,249.95 v6.20" stroke="#FDC985" stroke-width="0.7" fill="none" opacity="0.75"/><path d="M90.68,256.65 h5.20 M93.28,253.55 v6.20" stroke="#FDC985" stroke-width="0.7" fill="none" opacity="0.75"/><path d="M96.30,259.84 h5.20 M98.90,256.74 v6.20" stroke="#FDC985" stroke-width="0.7" fill="none" opacity="0.75"/><path d="M101.91,262.67 h5.20 M104.51,259.57 v6.20" stroke="#FDC985" stroke-width="0.7" fill="none" opacity="0.75"/><path d="M107.53,265.63 h5.20 M110.12,262.53 v6.20" stroke="#FDC985" stroke-width="0.7" fill="none" opacity="0.75"/><path d="M113.14,268.24 h5.20 M115.74,265.14 v6.20" stroke="#FDC985" stroke-width="0.7" fill="none" opacity="0.75"/><path d="M118.75,269.28 h5.20 M121.35,266.18 v6.20" stroke="#FDC985" stroke-width="0.7" fill="none" opacity="0.75"/><path d="M124.37,269.93 h5.20 M126.97,266.83 v6.20" stroke="#FDC985" stroke-width="0.7" fill="none" opacity="0.75"/><path d="M129.98,270.05 h5.20 M132.58,266.95 v6.20" stroke="#FDC985" stroke-width="0.7" fill="none" opacity="0.75"/><path d="M135.59,268.50 h5.20 M138.19,265.40 v6.20" stroke="#FDC985" stroke-width="0.7" fill="none" opacity="0.75"/><path d="M141.21,263.99 h5.20 M143.81,260.89 v6.20" stroke="#FDC985" stroke-width="0.7" fill="none" opacity="0.75"/><path d="M146.82,256.70 h5.20 M149.42,253.60 v6.20" stroke="#FDC985" stroke-width="0.7" fill="none" opacity="0.75"/><path d="M152.44,245.67 h5.20 M155.04,242.57 v6.20" stroke="#FDC985" stroke-width="0.7" fill="none" opacity="0.75"/><path d="M158.05,231.89 h5.20 M160.65,228.79 v6.20" stroke="#FDC985" stroke-width="0.7" fill="none" opacity="0.75"/><path d="M163.66,222.86 h5.20 M166.26,219.76 v6.20" stroke="#FDC985" stroke-width="0.7" fill="none" opacity="0.75"/><path d="M169.28,232.59 h5.20 M171.88,229.49 v6.20" stroke="#FDC985" stroke-width="0.7" fill="none" opacity="0.75"/><path d="M174.89,242.18 h5.20 M177.49,239.08 v6.20" stroke="#FDC985" stroke-width="0.7" fill="none" opacity="0.75"/><path d="M180.51,247.17 h5.20 M183.11,244.07 v6.20" stroke="#FDC985" stroke-width="0.7" fill="none" opacity="0.75"/><path d="M186.12,248.70 h5.20 M188.72,245.60 v6.20" stroke="#FDC985" stroke-width="0.7" fill="none" opacity="0.75"/><path d="M191.73,248.68 h5.20 M194.33,245.58 v6.20" stroke="#FDC985" stroke-width="0.7" fill="none" opacity="0.75"/><path d="M197.35,247.84 h5.20 M199.95,244.74 v6.20" stroke="#FDC985" stroke-width="0.7" fill="none" opacity="0.75"/><path d="M202.96,245.87 h5.20 M205.56,242.77 v6.20" stroke="#FDC985" stroke-width="0.7" fill="none" opacity="0.75"/><path d="M208.57,243.47 h5.20 M211.17,240.37 v6.20" stroke="#FDC985" stroke-width="0.7" fill="none" opacity="0.75"/><path d="M214.19,240.35 h5.20 M216.79,237.25 v6.20" stroke="#FDC985" stroke-width="0.7" fill="none" opacity="0.75"/><path d="M219.80,237.20 h5.20 M222.40,234.10 v6.20" stroke="#FDC985" stroke-width="0.7" fill="none" opacity="0.75"/><path d="M225.42,234.95 h5.20 M228.02,231.85 v6.20" stroke="#FDC985" stroke-width="0.7" fill="none" opacity="0.75"/><path d="M231.03,233.64 h5.20 M233.63,230.54 v6.20" stroke="#FDC985" stroke-width="0.7" fill="none" opacity="0.75"/><path d="M236.64,231.69 h5.20 M239.24,228.59 v6.20" stroke="#FDC985" stroke-width="0.7" fill="none" opacity="0.75"/><path d="M242.26,230.82 h5.20 M244.86,227.72 v6.20" stroke="#FDC985" stroke-width="0.7" fill="none" opacity="0.75"/><path d="M247.87,229.97 h5.20 M250.47,226.87 v6.20" stroke="#FDC985" stroke-width="0.7" fill="none" opacity="0.75"/><path d="M253.49,230.48 h5.20 M256.09,227.38 v6.20" stroke="#FDC985" stroke-width="0.7" fill="none" opacity="0.75"/><path d="M259.10,232.24 h5.20 M261.70,229.14 v6.20" stroke="#FDC985" stroke-width="0.7" fill="none" opacity="0.75"/><path d="M264.71,235.66 h5.20 M267.31,232.56 v6.20" stroke="#FDC985" stroke-width="0.7" fill="none" opacity="0.75"/><path d="M270.33,240.14 h5.20 M272.93,237.04 v6.20" stroke="#FDC985" stroke-width="0.7" fill="none" opacity="0.75"/><path d="M275.94,245.88 h5.20 M278.54,242.78 v6.20" stroke="#FDC985" stroke-width="0.7" fill="none" opacity="0.75"/><path d="M281.56,251.01 h5.20 M284.16,247.91 v6.20" stroke="#FDC985" stroke-width="0.7" fill="none" opacity="0.75"/><path d="M287.17,255.07 h5.20 M289.77,251.97 v6.20" stroke="#FDC985" stroke-width="0.7" fill="none" opacity="0.75"/><path d="M292.78,258.44 h5.20 M295.38,255.34 v6.20" stroke="#FDC985" stroke-width="0.7" fill="none" opacity="0.75"/><path d="M298.40,261.91 h5.20 M301.00,258.81 v6.20" stroke="#FDC985" stroke-width="0.7" fill="none" opacity="0.75"/><path d="M304.01,264.68 h5.20 M306.61,261.58 v6.20" stroke="#FDC985" stroke-width="0.7" fill="none" opacity="0.75"/><path d="M309.62,266.93 h5.20 M312.23,263.83 v6.20" stroke="#FDC985" stroke-width="0.7" fill="none" opacity="0.75"/><path d="M315.24,268.18 h5.20 M317.84,265.08 v6.20" stroke="#FDC985" stroke-width="0.7" fill="none" opacity="0.75"/><path d="M320.85,269.23 h5.20 M323.45,266.13 v6.20" stroke="#FDC985" stroke-width="0.7" fill="none" opacity="0.75"/><path d="M326.47,270.17 h5.20 M329.07,267.07 v6.20" stroke="#FDC985" stroke-width="0.7" fill="none" opacity="0.75"/><path d="M332.08,270.18 h5.20 M334.68,267.08 v6.20" stroke="#FDC985" stroke-width="0.7" fill="none" opacity="0.75"/><path d="M337.69,269.67 h5.20 M340.29,266.57 v6.20" stroke="#FDC985" stroke-width="0.7" fill="none" opacity="0.75"/><path d="M343.31,267.89 h5.20 M345.91,264.79 v6.20" stroke="#FDC985" stroke-width="0.7" fill="none" opacity="0.75"/><path d="M348.92,263.80 h5.20 M351.52,260.70 v6.20" stroke="#FDC985" stroke-width="0.7" fill="none" opacity="0.75"/><path d="M354.54,253.38 h5.20 M357.14,250.28 v6.20" stroke="#FDC985" stroke-width="0.7" fill="none" opacity="0.75"/><path d="M360.15,238.85 h5.20 M362.75,235.75 v6.20" stroke="#FDC985" stroke-width="0.7" fill="none" opacity="0.75"/><path d="M365.76,227.95 h5.20 M368.36,224.85 v6.20" stroke="#FDC985" stroke-width="0.7" fill="none" opacity="0.75"/><path d="M371.38,229.53 h5.20 M373.98,226.43 v6.20" stroke="#FDC985" stroke-width="0.7" fill="none" opacity="0.75"/><path d="M376.99,237.01 h5.20 M379.59,233.91 v6.20" stroke="#FDC985" stroke-width="0.7" fill="none" opacity="0.75"/><path d="M382.61,243.17 h5.20 M385.21,240.07 v6.20" stroke="#FDC985" stroke-width="0.7" fill="none" opacity="0.75"/><path d="M388.22,246.35 h5.20 M390.82,243.25 v6.20" stroke="#FDC985" stroke-width="0.7" fill="none" opacity="0.75"/><path d="M393.83,247.23 h5.20 M396.43,244.13 v6.20" stroke="#FDC985" stroke-width="0.7" fill="none" opacity="0.75"/><path d="M399.45,245.98 h5.20 M402.05,242.88 v6.20" stroke="#FDC985" stroke-width="0.7" fill="none" opacity="0.75"/><path d="M405.06,243.41 h5.20 M407.66,240.31 v6.20" stroke="#FDC985" stroke-width="0.7" fill="none" opacity="0.75"/><path d="M410.68,240.69 h5.20 M413.28,237.59 v6.20" stroke="#FDC985" stroke-width="0.7" fill="none" opacity="0.75"/><path d="M416.29,238.06 h5.20 M418.89,234.96 v6.20" stroke="#FDC985" stroke-width="0.7" fill="none" opacity="0.75"/><path d="M421.90,235.24 h5.20 M424.50,232.14 v6.20" stroke="#FDC985" stroke-width="0.7" fill="none" opacity="0.75"/><path d="M427.52,232.76 h5.20 M430.12,229.66 v6.20" stroke="#FDC985" stroke-width="0.7" fill="none" opacity="0.75"/><path d="M433.13,230.63 h5.20 M435.73,227.53 v6.20" stroke="#FDC985" stroke-width="0.7" fill="none" opacity="0.75"/><path d="M438.74,228.65 h5.20 M441.34,225.55 v6.20" stroke="#FDC985" stroke-width="0.7" fill="none" opacity="0.75"/><path d="M444.36,226.68 h5.20 M446.96,223.58 v6.20" stroke="#FDC985" stroke-width="0.7" fill="none" opacity="0.75"/><path d="M449.97,225.50 h5.20 M452.57,222.40 v6.20" stroke="#FDC985" stroke-width="0.7" fill="none" opacity="0.75"/><path d="M455.59,225.34 h5.20 M458.19,222.24 v6.20" stroke="#FDC985" stroke-width="0.7" fill="none" opacity="0.75"/><path d="M461.20,226.44 h5.20 M463.80,223.34 v6.20" stroke="#FDC985" stroke-width="0.7" fill="none" opacity="0.75"/></g>
<path d="M59.60,245.96 C60.54,246.64 63.34,248.49 65.21,250.03 C67.09,251.58 68.96,253.47 70.83,255.22 C72.70,256.97 74.57,258.82 76.44,260.53 C78.31,262.24 80.18,263.53 82.06,265.48 C83.93,267.43 85.80,270.23 87.67,272.23 C89.54,274.22 91.41,275.96 93.28,277.46 C95.15,278.96 97.03,280.07 98.90,281.25 C100.77,282.42 102.64,283.47 104.51,284.49 C106.38,285.50 108.25,286.55 110.12,287.36 C112.00,288.16 113.87,288.75 115.74,289.31 C117.61,289.87 119.48,290.32 121.35,290.74 C123.22,291.15 125.10,291.55 126.97,291.80 C128.84,292.06 130.71,292.27 132.58,292.25 C134.45,292.22 136.32,292.00 138.19,291.65 C140.07,291.30 141.94,290.98 143.81,290.17 C145.68,289.36 147.55,288.71 149.42,286.79 C151.29,284.88 153.16,282.84 155.04,278.68 C156.91,274.53 158.78,265.74 160.65,261.86 C162.52,257.98 164.39,254.72 166.26,255.41 C168.14,256.11 170.01,263.06 171.88,266.03 C173.75,268.99 175.62,271.42 177.49,273.19 C179.36,274.96 181.23,275.82 183.11,276.65 C184.98,277.48 186.85,278.10 188.72,278.19 C190.59,278.29 192.46,277.62 194.33,277.23 C196.20,276.84 198.08,276.51 199.95,275.83 C201.82,275.16 203.69,274.10 205.56,273.20 C207.43,272.29 209.30,271.44 211.17,270.42 C213.05,269.40 214.92,268.18 216.79,267.07 C218.66,265.96 220.53,264.80 222.40,263.76 C224.27,262.71 226.15,261.68 228.02,260.81 C229.89,259.93 231.76,259.30 233.63,258.50 C235.50,257.71 237.37,256.82 239.24,256.06 C241.12,255.29 242.99,254.81 244.86,253.90 C246.73,252.99 248.60,251.55 250.47,250.59 C252.34,249.64 254.21,248.44 256.09,248.16 C257.96,247.88 259.83,248.14 261.70,248.90 C263.57,249.66 265.44,251.49 267.31,252.72 C269.19,253.95 271.06,254.74 272.93,256.30 C274.80,257.85 276.67,260.23 278.54,262.04 C280.41,263.85 282.28,265.56 284.16,267.17 C286.03,268.79 287.90,270.23 289.77,271.71 C291.64,273.19 293.51,274.43 295.38,276.05 C297.25,277.67 299.13,280.08 301.00,281.42 C302.87,282.75 304.74,283.19 306.61,284.06 C308.48,284.92 310.35,285.79 312.23,286.59 C314.10,287.39 315.97,288.12 317.84,288.86 C319.71,289.60 321.58,290.43 323.45,291.04 C325.32,291.65 327.20,292.21 329.07,292.51 C330.94,292.81 332.81,292.95 334.68,292.85 C336.55,292.75 338.42,292.14 340.29,291.90 C342.17,291.66 344.04,291.79 345.91,291.41 C347.78,291.02 349.65,290.97 351.52,289.58 C353.39,288.19 355.26,287.14 357.14,283.05 C359.01,278.96 360.88,269.28 362.75,265.04 C364.62,260.79 366.49,257.59 368.36,257.60 C370.24,257.61 372.11,262.70 373.98,265.09 C375.85,267.49 377.72,270.06 379.59,271.96 C381.46,273.85 383.33,275.49 385.21,276.46 C387.08,277.42 388.95,277.67 390.82,277.75 C392.69,277.83 394.56,277.38 396.43,276.93 C398.30,276.48 400.18,275.90 402.05,275.05 C403.92,274.20 405.79,272.77 407.66,271.82 C409.53,270.88 411.40,270.33 413.28,269.39 C415.15,268.46 417.02,267.25 418.89,266.20 C420.76,265.15 422.63,264.15 424.50,263.09 C426.37,262.04 428.25,260.99 430.12,259.88 C431.99,258.77 433.86,257.48 435.73,256.44 C437.60,255.39 439.47,254.66 441.34,253.61 C443.22,252.57 445.09,251.20 446.96,250.16 C448.83,249.12 450.70,248.12 452.57,247.37 C454.44,246.62 456.31,245.92 458.19,245.65 C460.06,245.39 462.86,245.76 463.80,245.78" stroke="#8C9EDA" stroke-width="1.60" fill="none" stroke-linejoin="round"/>
<rect x="59.60" y="7.15" width="404.20" height="346.30" fill="none" stroke="#000" stroke-width="1.5"/>
<path d="M54.10,353.45H59.60M54.10,295.73H59.60M54.10,238.02H59.60M54.10,180.30H59.60M54.10,122.59H59.60M54.10,64.87H59.60M54.10,7.15H59.60M59.60,353.45V358.25M160.65,353.45V358.25M261.70,353.45V358.25M362.75,353.45V358.25M463.80,353.45V358.25" stroke="#000" stroke-width="1.5" fill="none"/>
<text x="44.2" y="358.25" font-size="14.4" text-anchor="end">0</text>
<text x="44.2" y="300.53" font-size="14.4" text-anchor="end">20</text>
<text x="44.2" y="242.82" font-size="14.4" text-anchor="end">40</text>
<text x="44.2" y="185.10" font-size="14.4" text-anchor="end">60</text>
<text x="44.2" y="127.39" font-size="14.4" text-anchor="end">80</text>
<text x="44.2" y="69.67" font-size="14.4" text-anchor="end">100</text>
<text x="44.2" y="11.95" font-size="14.4" text-anchor="end">120</text>
<text x="59.30" y="379.4" font-size="14.4" text-anchor="middle">0</text>
<text x="160.57" y="379.4" font-size="14.4" text-anchor="middle">90</text>
<text x="261.85" y="379.4" font-size="14.4" text-anchor="middle">180</text>
<text x="363.12" y="379.4" font-size="14.4" text-anchor="middle">270</text>
<text x="464.40" y="379.4" font-size="14.4" text-anchor="middle">360</text>
<text x="260.9" y="401.5" font-size="13.8" text-anchor="middle">Angle [°]</text>
<text transform="translate(13.1,180.7) rotate(-90) scale(1.03,1.16)" font-size="13.3" text-anchor="middle">Critical Current, <tspan font-style="italic">I</tspan><tspan font-size="9" dy="2.5">c</tspan><tspan dy="-2.5"> [A]</tspan></text>
<rect x="487.30" y="30.80" width="60.60" height="349.20" fill="#fff" stroke="#000" stroke-width="1.4"/>
<path d="M491.8,40.70H511.4" stroke="#2E75B6" stroke-width="1.60"/>
<path d="M501.60,37.80 l2.60,2.90 l-2.60,2.90 l-2.60,-2.90 z" fill="#2E75B6"/>
<text transform="translate(513.9,44.40) scale(1.05,1.2)" font-size="9.9">0.00 T</text>
<path d="M491.8,61.24H511.4" stroke="#C55A11" stroke-width="1.60"/>
<rect x="499.20" y="58.84" width="4.80" height="4.80" fill="#C55A11"/>
<text transform="translate(513.9,64.94) scale(1.05,1.2)" font-size="9.9">0.01 T</text>
<path d="M491.8,81.78H511.4" stroke="#7B7B7B" stroke-width="1.60"/>
<path d="M501.60,78.48 L504.70,83.98 L498.50,83.98 z" fill="#7B7B7B"/>
<text transform="translate(513.9,85.48) scale(1.05,1.2)" font-size="9.9">0.02 T</text>
<path d="M491.8,102.32H511.4" stroke="#BF9000" stroke-width="1.60"/>
<path d="M499.00,99.72 l5.20,5.20 m0,-5.20 l-5.20,5.20" stroke="#BF9000" stroke-width="0.7" fill="none" opacity="0.75"/>
<text transform="translate(513.9,106.02) scale(1.05,1.2)" font-size="9.9">0.03 T</text>
<path d="M491.8,122.86H511.4" stroke="#2F5597" stroke-width="1.60"/>
<path d="M499.00,120.26 l5.20,5.20 m0,-5.20 l-5.20,5.20 M501.60,119.76 v6.20" stroke="#2F5597" stroke-width="0.7" fill="none" opacity="0.75"/>
<text transform="translate(513.9,126.56) scale(1.05,1.2)" font-size="9.9">0.04 T</text>
<path d="M491.8,143.40H511.4" stroke="#538135" stroke-width="1.60"/>
<circle cx="501.60" cy="143.40" r="2.60" fill="#538135"/>
<text transform="translate(513.9,147.10) scale(1.05,1.2)" font-size="9.9">0.05 T</text>
<path d="M491.8,163.94H511.4" stroke="#5B9BD5" stroke-width="1.60"/>
<path d="M499.00,163.94 h5.20 M501.60,160.84 v6.20" stroke="#5B9BD5" stroke-width="0.7" fill="none" opacity="0.75"/>
<text transform="translate(513.9,167.64) scale(1.05,1.2)" font-size="9.9">0.06 T</text>
<path d="M491.8,184.48H511.4" stroke="#ED7D31" stroke-width="1.60"/>
<text transform="translate(513.9,188.18) scale(1.05,1.2)" font-size="9.9">0.07 T</text>
<path d="M491.8,205.02H511.4" stroke="#A5A5A5" stroke-width="1.60"/>
<text transform="translate(513.9,208.72) scale(1.05,1.2)" font-size="9.9">0.08 T</text>
<path d="M491.8,225.56H511.4" stroke="#FFC000" stroke-width="1.60"/>
<path d="M501.60,222.66 l2.60,2.90 l-2.60,2.90 l-2.60,-2.90 z" fill="#FFC000"/>
<text transform="translate(513.9,229.26) scale(1.05,1.2)" font-size="9.9">0.10 T</text>
<path d="M491.8,246.10H511.4" stroke="#4472C4" stroke-width="1.60"/>
<rect x="499.20" y="243.70" width="4.80" height="4.80" fill="#4472C4"/>
<text transform="translate(513.9,249.80) scale(1.05,1.2)" font-size="9.9">0.12 T</text>
<path d="M491.8,266.64H511.4" stroke="#70AD47" stroke-width="1.60"/>
<path d="M501.60,263.34 L504.70,268.84 L498.50,268.84 z" fill="#70AD47"/>
<text transform="translate(513.9,270.34) scale(1.05,1.2)" font-size="9.9">0.14 T</text>
<path d="M491.8,287.18H511.4" stroke="#92BBE6" stroke-width="1.60"/>
<path d="M499.00,284.58 l5.20,5.20 m0,-5.20 l-5.20,5.20" stroke="#92BBE6" stroke-width="0.7" fill="none" opacity="0.75"/>
<text transform="translate(513.9,290.88) scale(1.05,1.2)" font-size="9.9">0.16 T</text>
<path d="M491.8,307.72H511.4" stroke="#F7AA90" stroke-width="1.60"/>
<path d="M499.00,305.12 l5.20,5.20 m0,-5.20 l-5.20,5.20 M501.60,304.62 v6.20" stroke="#F7AA90" stroke-width="0.7" fill="none" opacity="0.75"/>
<text transform="translate(513.9,311.42) scale(1.05,1.2)" font-size="9.9">0.18 T</text>
<path d="M491.8,328.26H511.4" stroke="#C9C9C9" stroke-width="1.60"/>
<circle cx="501.60" cy="328.26" r="2.60" fill="#C9C9C9"/>
<text transform="translate(513.9,331.96) scale(1.05,1.2)" font-size="9.9">0.20 T</text>
<path d="M491.8,348.80H511.4" stroke="#FDC985" stroke-width="1.60"/>
<path d="M499.00,348.80 h5.20 M501.60,345.70 v6.20" stroke="#FDC985" stroke-width="0.7" fill="none" opacity="0.75"/>
<text transform="translate(513.9,352.50) scale(1.05,1.2)" font-size="9.9">0.30 T</text>
<path d="M491.8,369.34H511.4" stroke="#8C9EDA" stroke-width="1.60"/>
<text transform="translate(513.9,373.04) scale(1.05,1.2)" font-size="9.9">0.50 T</text>
</svg></body></html>
